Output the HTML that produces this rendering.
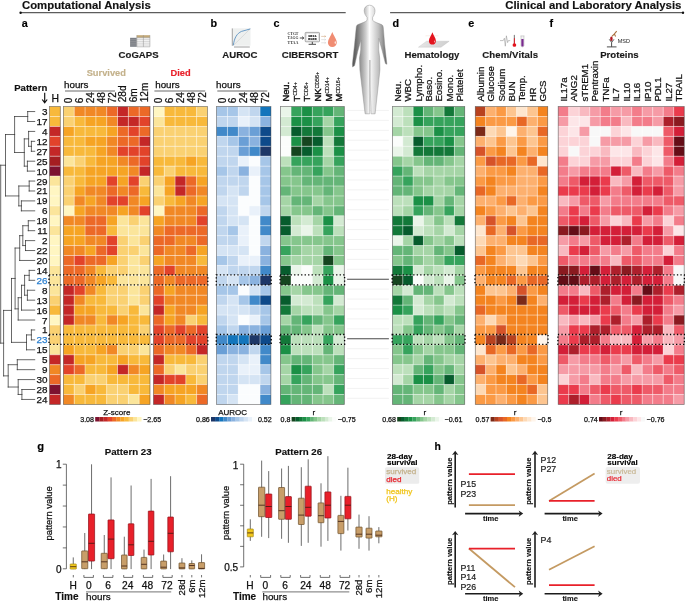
<!DOCTYPE html>
<html lang="en"><head><meta charset="utf-8"><title>Figure</title>
<style>
html,body{margin:0;padding:0;background:#fff;}
body{width:685px;height:602px;overflow:hidden;}
svg{display:block;font-family:"Liberation Sans",Arial,Helvetica,sans-serif;}
</style></head><body>
<svg width="685" height="602" viewBox="0 0 685 602">
<rect width="685" height="602" fill="#fff"/>
<g shape-rendering="auto">
<rect x="49.6" y="106.6" width="10.75" height="9.98" fill="#f8b93b"/>
<rect x="49.6" y="116.53" width="10.75" height="9.98" fill="#f8b93b"/>
<rect x="49.6" y="126.45" width="10.75" height="9.98" fill="#c42727"/>
<rect x="49.6" y="136.38" width="10.75" height="9.98" fill="#e2432a"/>
<rect x="49.6" y="146.31" width="10.75" height="9.98" fill="#c42727"/>
<rect x="49.6" y="156.23" width="10.75" height="9.98" fill="#a51e22"/>
<rect x="49.6" y="166.16" width="10.75" height="9.98" fill="#7d1230"/>
<rect x="49.6" y="176.09" width="10.75" height="9.98" fill="#fbe59b"/>
<rect x="49.6" y="186.01" width="10.75" height="9.98" fill="#fff6c2"/>
<rect x="49.6" y="195.94" width="10.75" height="9.98" fill="#fff6c2"/>
<rect x="49.6" y="205.87" width="10.75" height="9.98" fill="#fbe59b"/>
<rect x="49.6" y="215.79" width="10.75" height="9.98" fill="#fff6c2"/>
<rect x="49.6" y="225.72" width="10.75" height="9.98" fill="#fbe59b"/>
<rect x="49.6" y="235.65" width="10.75" height="9.98" fill="#fff6c2"/>
<rect x="49.6" y="245.57" width="10.75" height="9.98" fill="#fff6c2"/>
<rect x="49.6" y="255.5" width="10.75" height="9.98" fill="#fff6c2"/>
<rect x="49.6" y="265.43" width="10.75" height="9.98" fill="#fbe59b"/>
<rect x="49.6" y="275.35" width="10.75" height="9.98" fill="#fbe59b"/>
<rect x="49.6" y="285.28" width="10.75" height="9.98" fill="#fbe59b"/>
<rect x="49.6" y="295.21" width="10.75" height="9.98" fill="#fad172"/>
<rect x="49.6" y="305.13" width="10.75" height="9.98" fill="#f8b93b"/>
<rect x="49.6" y="315.06" width="10.75" height="9.98" fill="#fff6c2"/>
<rect x="49.6" y="324.99" width="10.75" height="9.98" fill="#fad172"/>
<rect x="49.6" y="334.91" width="10.75" height="9.98" fill="#fad172"/>
<rect x="49.6" y="344.84" width="10.75" height="9.98" fill="#fbe59b"/>
<rect x="49.6" y="354.77" width="10.75" height="9.98" fill="#c42727"/>
<rect x="49.6" y="364.69" width="10.75" height="9.98" fill="#f18825"/>
<rect x="49.6" y="374.62" width="10.75" height="9.98" fill="#ec6927"/>
<rect x="49.6" y="384.55" width="10.75" height="9.98" fill="#7d1230"/>
<rect x="49.6" y="394.47" width="10.75" height="9.98" fill="#c42727"/>
<line x1="49.6" y1="116.53" x2="60.3" y2="116.53" stroke="#fff" stroke-opacity="0.75" stroke-width="0.6"/>
<line x1="49.6" y1="126.45" x2="60.3" y2="126.45" stroke="#fff" stroke-opacity="0.75" stroke-width="0.6"/>
<line x1="49.6" y1="136.38" x2="60.3" y2="136.38" stroke="#fff" stroke-opacity="0.75" stroke-width="0.6"/>
<line x1="49.6" y1="146.31" x2="60.3" y2="146.31" stroke="#fff" stroke-opacity="0.75" stroke-width="0.6"/>
<line x1="49.6" y1="156.23" x2="60.3" y2="156.23" stroke="#fff" stroke-opacity="0.75" stroke-width="0.6"/>
<line x1="49.6" y1="166.16" x2="60.3" y2="166.16" stroke="#fff" stroke-opacity="0.75" stroke-width="0.6"/>
<line x1="49.6" y1="176.09" x2="60.3" y2="176.09" stroke="#fff" stroke-opacity="0.75" stroke-width="0.6"/>
<line x1="49.6" y1="186.01" x2="60.3" y2="186.01" stroke="#fff" stroke-opacity="0.75" stroke-width="0.6"/>
<line x1="49.6" y1="195.94" x2="60.3" y2="195.94" stroke="#fff" stroke-opacity="0.75" stroke-width="0.6"/>
<line x1="49.6" y1="205.87" x2="60.3" y2="205.87" stroke="#fff" stroke-opacity="0.75" stroke-width="0.6"/>
<line x1="49.6" y1="215.79" x2="60.3" y2="215.79" stroke="#fff" stroke-opacity="0.75" stroke-width="0.6"/>
<line x1="49.6" y1="225.72" x2="60.3" y2="225.72" stroke="#fff" stroke-opacity="0.75" stroke-width="0.6"/>
<line x1="49.6" y1="235.65" x2="60.3" y2="235.65" stroke="#fff" stroke-opacity="0.75" stroke-width="0.6"/>
<line x1="49.6" y1="245.57" x2="60.3" y2="245.57" stroke="#fff" stroke-opacity="0.75" stroke-width="0.6"/>
<line x1="49.6" y1="255.5" x2="60.3" y2="255.5" stroke="#fff" stroke-opacity="0.75" stroke-width="0.6"/>
<line x1="49.6" y1="265.43" x2="60.3" y2="265.43" stroke="#fff" stroke-opacity="0.75" stroke-width="0.6"/>
<line x1="49.6" y1="275.35" x2="60.3" y2="275.35" stroke="#fff" stroke-opacity="0.75" stroke-width="0.6"/>
<line x1="49.6" y1="285.28" x2="60.3" y2="285.28" stroke="#fff" stroke-opacity="0.75" stroke-width="0.6"/>
<line x1="49.6" y1="295.21" x2="60.3" y2="295.21" stroke="#fff" stroke-opacity="0.75" stroke-width="0.6"/>
<line x1="49.6" y1="305.13" x2="60.3" y2="305.13" stroke="#fff" stroke-opacity="0.75" stroke-width="0.6"/>
<line x1="49.6" y1="315.06" x2="60.3" y2="315.06" stroke="#fff" stroke-opacity="0.75" stroke-width="0.6"/>
<line x1="49.6" y1="324.99" x2="60.3" y2="324.99" stroke="#fff" stroke-opacity="0.75" stroke-width="0.6"/>
<line x1="49.6" y1="334.91" x2="60.3" y2="334.91" stroke="#fff" stroke-opacity="0.75" stroke-width="0.6"/>
<line x1="49.6" y1="344.84" x2="60.3" y2="344.84" stroke="#fff" stroke-opacity="0.75" stroke-width="0.6"/>
<line x1="49.6" y1="354.77" x2="60.3" y2="354.77" stroke="#fff" stroke-opacity="0.75" stroke-width="0.6"/>
<line x1="49.6" y1="364.69" x2="60.3" y2="364.69" stroke="#fff" stroke-opacity="0.75" stroke-width="0.6"/>
<line x1="49.6" y1="374.62" x2="60.3" y2="374.62" stroke="#fff" stroke-opacity="0.75" stroke-width="0.6"/>
<line x1="49.6" y1="384.55" x2="60.3" y2="384.55" stroke="#fff" stroke-opacity="0.75" stroke-width="0.6"/>
<line x1="49.6" y1="394.47" x2="60.3" y2="394.47" stroke="#fff" stroke-opacity="0.75" stroke-width="0.6"/>
<rect x="49.6" y="106.6" width="10.7" height="297.8" fill="none" stroke="#3a3a3a" stroke-opacity="0.62" stroke-width="0.75"/>
</g>
<g shape-rendering="auto">
<rect x="63.4" y="106.6" width="10.88" height="9.98" fill="#fad172"/>
<rect x="74.22" y="106.6" width="10.88" height="9.98" fill="#f18825"/>
<rect x="85.05" y="106.6" width="10.88" height="9.98" fill="#f18825"/>
<rect x="95.88" y="106.6" width="10.88" height="9.98" fill="#f18825"/>
<rect x="106.7" y="106.6" width="10.88" height="9.98" fill="#ec6927"/>
<rect x="117.53" y="106.6" width="10.88" height="9.98" fill="#c42727"/>
<rect x="128.35" y="106.6" width="10.88" height="9.98" fill="#ec6927"/>
<rect x="139.17" y="106.6" width="10.88" height="9.98" fill="#ec6927"/>
<rect x="63.4" y="116.53" width="10.88" height="9.98" fill="#fad172"/>
<rect x="74.22" y="116.53" width="10.88" height="9.98" fill="#f8b93b"/>
<rect x="85.05" y="116.53" width="10.88" height="9.98" fill="#f6a424"/>
<rect x="95.88" y="116.53" width="10.88" height="9.98" fill="#f6a424"/>
<rect x="106.7" y="116.53" width="10.88" height="9.98" fill="#f18825"/>
<rect x="117.53" y="116.53" width="10.88" height="9.98" fill="#c42727"/>
<rect x="128.35" y="116.53" width="10.88" height="9.98" fill="#c42727"/>
<rect x="139.17" y="116.53" width="10.88" height="9.98" fill="#e2432a"/>
<rect x="63.4" y="126.45" width="10.88" height="9.98" fill="#f6a424"/>
<rect x="74.22" y="126.45" width="10.88" height="9.98" fill="#f8b93b"/>
<rect x="85.05" y="126.45" width="10.88" height="9.98" fill="#f8b93b"/>
<rect x="95.88" y="126.45" width="10.88" height="9.98" fill="#f8b93b"/>
<rect x="106.7" y="126.45" width="10.88" height="9.98" fill="#f6a424"/>
<rect x="117.53" y="126.45" width="10.88" height="9.98" fill="#ec6927"/>
<rect x="128.35" y="126.45" width="10.88" height="9.98" fill="#e2432a"/>
<rect x="139.17" y="126.45" width="10.88" height="9.98" fill="#ec6927"/>
<rect x="63.4" y="136.38" width="10.88" height="9.98" fill="#f8b93b"/>
<rect x="74.22" y="136.38" width="10.88" height="9.98" fill="#f8b93b"/>
<rect x="85.05" y="136.38" width="10.88" height="9.98" fill="#f6a424"/>
<rect x="95.88" y="136.38" width="10.88" height="9.98" fill="#f6a424"/>
<rect x="106.7" y="136.38" width="10.88" height="9.98" fill="#f18825"/>
<rect x="117.53" y="136.38" width="10.88" height="9.98" fill="#ec6927"/>
<rect x="128.35" y="136.38" width="10.88" height="9.98" fill="#ec6927"/>
<rect x="139.17" y="136.38" width="10.88" height="9.98" fill="#c42727"/>
<rect x="63.4" y="146.31" width="10.88" height="9.98" fill="#f8b93b"/>
<rect x="74.22" y="146.31" width="10.88" height="9.98" fill="#f8b93b"/>
<rect x="85.05" y="146.31" width="10.88" height="9.98" fill="#f8b93b"/>
<rect x="95.88" y="146.31" width="10.88" height="9.98" fill="#f6a424"/>
<rect x="106.7" y="146.31" width="10.88" height="9.98" fill="#f18825"/>
<rect x="117.53" y="146.31" width="10.88" height="9.98" fill="#e2432a"/>
<rect x="128.35" y="146.31" width="10.88" height="9.98" fill="#e2432a"/>
<rect x="139.17" y="146.31" width="10.88" height="9.98" fill="#e2432a"/>
<rect x="63.4" y="156.23" width="10.88" height="9.98" fill="#fbe59b"/>
<rect x="74.22" y="156.23" width="10.88" height="9.98" fill="#fad172"/>
<rect x="85.05" y="156.23" width="10.88" height="9.98" fill="#f8b93b"/>
<rect x="95.88" y="156.23" width="10.88" height="9.98" fill="#f6a424"/>
<rect x="106.7" y="156.23" width="10.88" height="9.98" fill="#f6a424"/>
<rect x="117.53" y="156.23" width="10.88" height="9.98" fill="#f18825"/>
<rect x="128.35" y="156.23" width="10.88" height="9.98" fill="#ec6927"/>
<rect x="139.17" y="156.23" width="10.88" height="9.98" fill="#e2432a"/>
<rect x="63.4" y="166.16" width="10.88" height="9.98" fill="#f8b93b"/>
<rect x="74.22" y="166.16" width="10.88" height="9.98" fill="#f8b93b"/>
<rect x="85.05" y="166.16" width="10.88" height="9.98" fill="#f6a424"/>
<rect x="95.88" y="166.16" width="10.88" height="9.98" fill="#f6a424"/>
<rect x="106.7" y="166.16" width="10.88" height="9.98" fill="#f6a424"/>
<rect x="117.53" y="166.16" width="10.88" height="9.98" fill="#f6a424"/>
<rect x="128.35" y="166.16" width="10.88" height="9.98" fill="#f18825"/>
<rect x="139.17" y="166.16" width="10.88" height="9.98" fill="#c42727"/>
<rect x="63.4" y="176.09" width="10.88" height="9.98" fill="#fad172"/>
<rect x="74.22" y="176.09" width="10.88" height="9.98" fill="#f8b93b"/>
<rect x="85.05" y="176.09" width="10.88" height="9.98" fill="#f6a424"/>
<rect x="95.88" y="176.09" width="10.88" height="9.98" fill="#f6a424"/>
<rect x="106.7" y="176.09" width="10.88" height="9.98" fill="#e2432a"/>
<rect x="117.53" y="176.09" width="10.88" height="9.98" fill="#f6a424"/>
<rect x="128.35" y="176.09" width="10.88" height="9.98" fill="#e2432a"/>
<rect x="139.17" y="176.09" width="10.88" height="9.98" fill="#fad172"/>
<rect x="63.4" y="186.01" width="10.88" height="9.98" fill="#fad172"/>
<rect x="74.22" y="186.01" width="10.88" height="9.98" fill="#f6a424"/>
<rect x="85.05" y="186.01" width="10.88" height="9.98" fill="#f18825"/>
<rect x="95.88" y="186.01" width="10.88" height="9.98" fill="#f18825"/>
<rect x="106.7" y="186.01" width="10.88" height="9.98" fill="#ec6927"/>
<rect x="117.53" y="186.01" width="10.88" height="9.98" fill="#f18825"/>
<rect x="128.35" y="186.01" width="10.88" height="9.98" fill="#ec6927"/>
<rect x="139.17" y="186.01" width="10.88" height="9.98" fill="#f8b93b"/>
<rect x="63.4" y="195.94" width="10.88" height="9.98" fill="#fad172"/>
<rect x="74.22" y="195.94" width="10.88" height="9.98" fill="#f18825"/>
<rect x="85.05" y="195.94" width="10.88" height="9.98" fill="#f6a424"/>
<rect x="95.88" y="195.94" width="10.88" height="9.98" fill="#f18825"/>
<rect x="106.7" y="195.94" width="10.88" height="9.98" fill="#e2432a"/>
<rect x="117.53" y="195.94" width="10.88" height="9.98" fill="#e2432a"/>
<rect x="128.35" y="195.94" width="10.88" height="9.98" fill="#f18825"/>
<rect x="139.17" y="195.94" width="10.88" height="9.98" fill="#f6a424"/>
<rect x="63.4" y="205.87" width="10.88" height="9.98" fill="#fff6c2"/>
<rect x="74.22" y="205.87" width="10.88" height="9.98" fill="#f6a424"/>
<rect x="85.05" y="205.87" width="10.88" height="9.98" fill="#f18825"/>
<rect x="95.88" y="205.87" width="10.88" height="9.98" fill="#f18825"/>
<rect x="106.7" y="205.87" width="10.88" height="9.98" fill="#f18825"/>
<rect x="117.53" y="205.87" width="10.88" height="9.98" fill="#f6a424"/>
<rect x="128.35" y="205.87" width="10.88" height="9.98" fill="#f18825"/>
<rect x="139.17" y="205.87" width="10.88" height="9.98" fill="#e2432a"/>
<rect x="63.4" y="215.79" width="10.88" height="9.98" fill="#f18825"/>
<rect x="74.22" y="215.79" width="10.88" height="9.98" fill="#f18825"/>
<rect x="85.05" y="215.79" width="10.88" height="9.98" fill="#ec6927"/>
<rect x="95.88" y="215.79" width="10.88" height="9.98" fill="#ec6927"/>
<rect x="106.7" y="215.79" width="10.88" height="9.98" fill="#f6a424"/>
<rect x="117.53" y="215.79" width="10.88" height="9.98" fill="#fbe59b"/>
<rect x="128.35" y="215.79" width="10.88" height="9.98" fill="#fad172"/>
<rect x="139.17" y="215.79" width="10.88" height="9.98" fill="#fbe59b"/>
<rect x="63.4" y="225.72" width="10.88" height="9.98" fill="#f6a424"/>
<rect x="74.22" y="225.72" width="10.88" height="9.98" fill="#f6a424"/>
<rect x="85.05" y="225.72" width="10.88" height="9.98" fill="#ec6927"/>
<rect x="95.88" y="225.72" width="10.88" height="9.98" fill="#ec6927"/>
<rect x="106.7" y="225.72" width="10.88" height="9.98" fill="#f8b93b"/>
<rect x="117.53" y="225.72" width="10.88" height="9.98" fill="#fbe59b"/>
<rect x="128.35" y="225.72" width="10.88" height="9.98" fill="#fbe59b"/>
<rect x="139.17" y="225.72" width="10.88" height="9.98" fill="#fbe59b"/>
<rect x="63.4" y="235.65" width="10.88" height="9.98" fill="#f6a424"/>
<rect x="74.22" y="235.65" width="10.88" height="9.98" fill="#f6a424"/>
<rect x="85.05" y="235.65" width="10.88" height="9.98" fill="#f18825"/>
<rect x="95.88" y="235.65" width="10.88" height="9.98" fill="#f18825"/>
<rect x="106.7" y="235.65" width="10.88" height="9.98" fill="#e2432a"/>
<rect x="117.53" y="235.65" width="10.88" height="9.98" fill="#fad172"/>
<rect x="128.35" y="235.65" width="10.88" height="9.98" fill="#fbe59b"/>
<rect x="139.17" y="235.65" width="10.88" height="9.98" fill="#fad172"/>
<rect x="63.4" y="245.57" width="10.88" height="9.98" fill="#f18825"/>
<rect x="74.22" y="245.57" width="10.88" height="9.98" fill="#f18825"/>
<rect x="85.05" y="245.57" width="10.88" height="9.98" fill="#f6a424"/>
<rect x="95.88" y="245.57" width="10.88" height="9.98" fill="#ec6927"/>
<rect x="106.7" y="245.57" width="10.88" height="9.98" fill="#e2432a"/>
<rect x="117.53" y="245.57" width="10.88" height="9.98" fill="#fad172"/>
<rect x="128.35" y="245.57" width="10.88" height="9.98" fill="#fad172"/>
<rect x="139.17" y="245.57" width="10.88" height="9.98" fill="#fbe59b"/>
<rect x="63.4" y="255.5" width="10.88" height="9.98" fill="#ec6927"/>
<rect x="74.22" y="255.5" width="10.88" height="9.98" fill="#e2432a"/>
<rect x="85.05" y="255.5" width="10.88" height="9.98" fill="#ec6927"/>
<rect x="95.88" y="255.5" width="10.88" height="9.98" fill="#ec6927"/>
<rect x="106.7" y="255.5" width="10.88" height="9.98" fill="#f6a424"/>
<rect x="117.53" y="255.5" width="10.88" height="9.98" fill="#fad172"/>
<rect x="128.35" y="255.5" width="10.88" height="9.98" fill="#fbe59b"/>
<rect x="139.17" y="255.5" width="10.88" height="9.98" fill="#fad172"/>
<rect x="63.4" y="265.43" width="10.88" height="9.98" fill="#ec6927"/>
<rect x="74.22" y="265.43" width="10.88" height="9.98" fill="#ec6927"/>
<rect x="85.05" y="265.43" width="10.88" height="9.98" fill="#f18825"/>
<rect x="95.88" y="265.43" width="10.88" height="9.98" fill="#f8b93b"/>
<rect x="106.7" y="265.43" width="10.88" height="9.98" fill="#fad172"/>
<rect x="117.53" y="265.43" width="10.88" height="9.98" fill="#fad172"/>
<rect x="128.35" y="265.43" width="10.88" height="9.98" fill="#fbe59b"/>
<rect x="139.17" y="265.43" width="10.88" height="9.98" fill="#fbe59b"/>
<rect x="63.4" y="275.35" width="10.88" height="9.98" fill="#ec6927"/>
<rect x="74.22" y="275.35" width="10.88" height="9.98" fill="#ec6927"/>
<rect x="85.05" y="275.35" width="10.88" height="9.98" fill="#f18825"/>
<rect x="95.88" y="275.35" width="10.88" height="9.98" fill="#f6a424"/>
<rect x="106.7" y="275.35" width="10.88" height="9.98" fill="#f8b93b"/>
<rect x="117.53" y="275.35" width="10.88" height="9.98" fill="#fbe59b"/>
<rect x="128.35" y="275.35" width="10.88" height="9.98" fill="#fbe59b"/>
<rect x="139.17" y="275.35" width="10.88" height="9.98" fill="#fbe59b"/>
<rect x="63.4" y="285.28" width="10.88" height="9.98" fill="#c42727"/>
<rect x="74.22" y="285.28" width="10.88" height="9.98" fill="#e2432a"/>
<rect x="85.05" y="285.28" width="10.88" height="9.98" fill="#f18825"/>
<rect x="95.88" y="285.28" width="10.88" height="9.98" fill="#f8b93b"/>
<rect x="106.7" y="285.28" width="10.88" height="9.98" fill="#fad172"/>
<rect x="117.53" y="285.28" width="10.88" height="9.98" fill="#fad172"/>
<rect x="128.35" y="285.28" width="10.88" height="9.98" fill="#fbe59b"/>
<rect x="139.17" y="285.28" width="10.88" height="9.98" fill="#fad172"/>
<rect x="63.4" y="295.21" width="10.88" height="9.98" fill="#c42727"/>
<rect x="74.22" y="295.21" width="10.88" height="9.98" fill="#f18825"/>
<rect x="85.05" y="295.21" width="10.88" height="9.98" fill="#f8b93b"/>
<rect x="95.88" y="295.21" width="10.88" height="9.98" fill="#f8b93b"/>
<rect x="106.7" y="295.21" width="10.88" height="9.98" fill="#fad172"/>
<rect x="117.53" y="295.21" width="10.88" height="9.98" fill="#fad172"/>
<rect x="128.35" y="295.21" width="10.88" height="9.98" fill="#fbe59b"/>
<rect x="139.17" y="295.21" width="10.88" height="9.98" fill="#fad172"/>
<rect x="63.4" y="305.13" width="10.88" height="9.98" fill="#c42727"/>
<rect x="74.22" y="305.13" width="10.88" height="9.98" fill="#f6a424"/>
<rect x="85.05" y="305.13" width="10.88" height="9.98" fill="#f6a424"/>
<rect x="95.88" y="305.13" width="10.88" height="9.98" fill="#f8b93b"/>
<rect x="106.7" y="305.13" width="10.88" height="9.98" fill="#f8b93b"/>
<rect x="117.53" y="305.13" width="10.88" height="9.98" fill="#fad172"/>
<rect x="128.35" y="305.13" width="10.88" height="9.98" fill="#f8b93b"/>
<rect x="139.17" y="305.13" width="10.88" height="9.98" fill="#fbe59b"/>
<rect x="63.4" y="315.06" width="10.88" height="9.98" fill="#c42727"/>
<rect x="74.22" y="315.06" width="10.88" height="9.98" fill="#f18825"/>
<rect x="85.05" y="315.06" width="10.88" height="9.98" fill="#f18825"/>
<rect x="95.88" y="315.06" width="10.88" height="9.98" fill="#f8b93b"/>
<rect x="106.7" y="315.06" width="10.88" height="9.98" fill="#f18825"/>
<rect x="117.53" y="315.06" width="10.88" height="9.98" fill="#f6a424"/>
<rect x="128.35" y="315.06" width="10.88" height="9.98" fill="#f8b93b"/>
<rect x="139.17" y="315.06" width="10.88" height="9.98" fill="#f8b93b"/>
<rect x="63.4" y="324.99" width="10.88" height="9.98" fill="#f8b93b"/>
<rect x="74.22" y="324.99" width="10.88" height="9.98" fill="#f8b93b"/>
<rect x="85.05" y="324.99" width="10.88" height="9.98" fill="#f8b93b"/>
<rect x="95.88" y="324.99" width="10.88" height="9.98" fill="#f8b93b"/>
<rect x="106.7" y="324.99" width="10.88" height="9.98" fill="#f8b93b"/>
<rect x="117.53" y="324.99" width="10.88" height="9.98" fill="#f8b93b"/>
<rect x="128.35" y="324.99" width="10.88" height="9.98" fill="#f8b93b"/>
<rect x="139.17" y="324.99" width="10.88" height="9.98" fill="#fad172"/>
<rect x="63.4" y="334.91" width="10.88" height="9.98" fill="#f8b93b"/>
<rect x="74.22" y="334.91" width="10.88" height="9.98" fill="#f8b93b"/>
<rect x="85.05" y="334.91" width="10.88" height="9.98" fill="#f8b93b"/>
<rect x="95.88" y="334.91" width="10.88" height="9.98" fill="#f8b93b"/>
<rect x="106.7" y="334.91" width="10.88" height="9.98" fill="#f8b93b"/>
<rect x="117.53" y="334.91" width="10.88" height="9.98" fill="#f8b93b"/>
<rect x="128.35" y="334.91" width="10.88" height="9.98" fill="#f8b93b"/>
<rect x="139.17" y="334.91" width="10.88" height="9.98" fill="#f8b93b"/>
<rect x="63.4" y="344.84" width="10.88" height="9.98" fill="#f6a424"/>
<rect x="74.22" y="344.84" width="10.88" height="9.98" fill="#f8b93b"/>
<rect x="85.05" y="344.84" width="10.88" height="9.98" fill="#f8b93b"/>
<rect x="95.88" y="344.84" width="10.88" height="9.98" fill="#f6a424"/>
<rect x="106.7" y="344.84" width="10.88" height="9.98" fill="#f18825"/>
<rect x="117.53" y="344.84" width="10.88" height="9.98" fill="#fad172"/>
<rect x="128.35" y="344.84" width="10.88" height="9.98" fill="#fad172"/>
<rect x="139.17" y="344.84" width="10.88" height="9.98" fill="#fbe59b"/>
<rect x="63.4" y="354.77" width="10.88" height="9.98" fill="#c42727"/>
<rect x="74.22" y="354.77" width="10.88" height="9.98" fill="#f6a424"/>
<rect x="85.05" y="354.77" width="10.88" height="9.98" fill="#f6a424"/>
<rect x="95.88" y="354.77" width="10.88" height="9.98" fill="#f8b93b"/>
<rect x="106.7" y="354.77" width="10.88" height="9.98" fill="#f8b93b"/>
<rect x="117.53" y="354.77" width="10.88" height="9.98" fill="#f6a424"/>
<rect x="128.35" y="354.77" width="10.88" height="9.98" fill="#f8b93b"/>
<rect x="139.17" y="354.77" width="10.88" height="9.98" fill="#f8b93b"/>
<rect x="63.4" y="364.69" width="10.88" height="9.98" fill="#e2432a"/>
<rect x="74.22" y="364.69" width="10.88" height="9.98" fill="#ec6927"/>
<rect x="85.05" y="364.69" width="10.88" height="9.98" fill="#f8b93b"/>
<rect x="95.88" y="364.69" width="10.88" height="9.98" fill="#f8b93b"/>
<rect x="106.7" y="364.69" width="10.88" height="9.98" fill="#f6a424"/>
<rect x="117.53" y="364.69" width="10.88" height="9.98" fill="#c42727"/>
<rect x="128.35" y="364.69" width="10.88" height="9.98" fill="#f18825"/>
<rect x="139.17" y="364.69" width="10.88" height="9.98" fill="#f6a424"/>
<rect x="63.4" y="374.62" width="10.88" height="9.98" fill="#f8b93b"/>
<rect x="74.22" y="374.62" width="10.88" height="9.98" fill="#f8b93b"/>
<rect x="85.05" y="374.62" width="10.88" height="9.98" fill="#fad172"/>
<rect x="95.88" y="374.62" width="10.88" height="9.98" fill="#fad172"/>
<rect x="106.7" y="374.62" width="10.88" height="9.98" fill="#f8b93b"/>
<rect x="117.53" y="374.62" width="10.88" height="9.98" fill="#f8b93b"/>
<rect x="128.35" y="374.62" width="10.88" height="9.98" fill="#f8b93b"/>
<rect x="139.17" y="374.62" width="10.88" height="9.98" fill="#f8b93b"/>
<rect x="63.4" y="384.55" width="10.88" height="9.98" fill="#f8b93b"/>
<rect x="74.22" y="384.55" width="10.88" height="9.98" fill="#fad172"/>
<rect x="85.05" y="384.55" width="10.88" height="9.98" fill="#f6a424"/>
<rect x="95.88" y="384.55" width="10.88" height="9.98" fill="#f8b93b"/>
<rect x="106.7" y="384.55" width="10.88" height="9.98" fill="#fad172"/>
<rect x="117.53" y="384.55" width="10.88" height="9.98" fill="#fad172"/>
<rect x="128.35" y="384.55" width="10.88" height="9.98" fill="#f8b93b"/>
<rect x="139.17" y="384.55" width="10.88" height="9.98" fill="#f8b93b"/>
<rect x="63.4" y="394.47" width="10.88" height="9.98" fill="#f18825"/>
<rect x="74.22" y="394.47" width="10.88" height="9.98" fill="#f8b93b"/>
<rect x="85.05" y="394.47" width="10.88" height="9.98" fill="#f8b93b"/>
<rect x="95.88" y="394.47" width="10.88" height="9.98" fill="#f8b93b"/>
<rect x="106.7" y="394.47" width="10.88" height="9.98" fill="#fad172"/>
<rect x="117.53" y="394.47" width="10.88" height="9.98" fill="#fad172"/>
<rect x="128.35" y="394.47" width="10.88" height="9.98" fill="#fbe59b"/>
<rect x="139.17" y="394.47" width="10.88" height="9.98" fill="#f6a424"/>
<line x1="63.4" y1="116.53" x2="150" y2="116.53" stroke="#fff" stroke-opacity="0.75" stroke-width="0.6"/>
<line x1="63.4" y1="126.45" x2="150" y2="126.45" stroke="#fff" stroke-opacity="0.75" stroke-width="0.6"/>
<line x1="63.4" y1="136.38" x2="150" y2="136.38" stroke="#fff" stroke-opacity="0.75" stroke-width="0.6"/>
<line x1="63.4" y1="146.31" x2="150" y2="146.31" stroke="#fff" stroke-opacity="0.75" stroke-width="0.6"/>
<line x1="63.4" y1="156.23" x2="150" y2="156.23" stroke="#fff" stroke-opacity="0.75" stroke-width="0.6"/>
<line x1="63.4" y1="166.16" x2="150" y2="166.16" stroke="#fff" stroke-opacity="0.75" stroke-width="0.6"/>
<line x1="63.4" y1="176.09" x2="150" y2="176.09" stroke="#fff" stroke-opacity="0.75" stroke-width="0.6"/>
<line x1="63.4" y1="186.01" x2="150" y2="186.01" stroke="#fff" stroke-opacity="0.75" stroke-width="0.6"/>
<line x1="63.4" y1="195.94" x2="150" y2="195.94" stroke="#fff" stroke-opacity="0.75" stroke-width="0.6"/>
<line x1="63.4" y1="205.87" x2="150" y2="205.87" stroke="#fff" stroke-opacity="0.75" stroke-width="0.6"/>
<line x1="63.4" y1="215.79" x2="150" y2="215.79" stroke="#fff" stroke-opacity="0.75" stroke-width="0.6"/>
<line x1="63.4" y1="225.72" x2="150" y2="225.72" stroke="#fff" stroke-opacity="0.75" stroke-width="0.6"/>
<line x1="63.4" y1="235.65" x2="150" y2="235.65" stroke="#fff" stroke-opacity="0.75" stroke-width="0.6"/>
<line x1="63.4" y1="245.57" x2="150" y2="245.57" stroke="#fff" stroke-opacity="0.75" stroke-width="0.6"/>
<line x1="63.4" y1="255.5" x2="150" y2="255.5" stroke="#fff" stroke-opacity="0.75" stroke-width="0.6"/>
<line x1="63.4" y1="265.43" x2="150" y2="265.43" stroke="#fff" stroke-opacity="0.75" stroke-width="0.6"/>
<line x1="63.4" y1="275.35" x2="150" y2="275.35" stroke="#fff" stroke-opacity="0.75" stroke-width="0.6"/>
<line x1="63.4" y1="285.28" x2="150" y2="285.28" stroke="#fff" stroke-opacity="0.75" stroke-width="0.6"/>
<line x1="63.4" y1="295.21" x2="150" y2="295.21" stroke="#fff" stroke-opacity="0.75" stroke-width="0.6"/>
<line x1="63.4" y1="305.13" x2="150" y2="305.13" stroke="#fff" stroke-opacity="0.75" stroke-width="0.6"/>
<line x1="63.4" y1="315.06" x2="150" y2="315.06" stroke="#fff" stroke-opacity="0.75" stroke-width="0.6"/>
<line x1="63.4" y1="324.99" x2="150" y2="324.99" stroke="#fff" stroke-opacity="0.75" stroke-width="0.6"/>
<line x1="63.4" y1="334.91" x2="150" y2="334.91" stroke="#fff" stroke-opacity="0.75" stroke-width="0.6"/>
<line x1="63.4" y1="344.84" x2="150" y2="344.84" stroke="#fff" stroke-opacity="0.75" stroke-width="0.6"/>
<line x1="63.4" y1="354.77" x2="150" y2="354.77" stroke="#fff" stroke-opacity="0.75" stroke-width="0.6"/>
<line x1="63.4" y1="364.69" x2="150" y2="364.69" stroke="#fff" stroke-opacity="0.75" stroke-width="0.6"/>
<line x1="63.4" y1="374.62" x2="150" y2="374.62" stroke="#fff" stroke-opacity="0.75" stroke-width="0.6"/>
<line x1="63.4" y1="384.55" x2="150" y2="384.55" stroke="#fff" stroke-opacity="0.75" stroke-width="0.6"/>
<line x1="63.4" y1="394.47" x2="150" y2="394.47" stroke="#fff" stroke-opacity="0.75" stroke-width="0.6"/>
<line x1="74.22" y1="106.6" x2="74.22" y2="404.4" stroke="#fff" stroke-opacity="0.75" stroke-width="0.6"/>
<line x1="85.05" y1="106.6" x2="85.05" y2="404.4" stroke="#fff" stroke-opacity="0.75" stroke-width="0.6"/>
<line x1="95.88" y1="106.6" x2="95.88" y2="404.4" stroke="#fff" stroke-opacity="0.75" stroke-width="0.6"/>
<line x1="106.7" y1="106.6" x2="106.7" y2="404.4" stroke="#fff" stroke-opacity="0.75" stroke-width="0.6"/>
<line x1="117.53" y1="106.6" x2="117.53" y2="404.4" stroke="#fff" stroke-opacity="0.75" stroke-width="0.6"/>
<line x1="128.35" y1="106.6" x2="128.35" y2="404.4" stroke="#fff" stroke-opacity="0.75" stroke-width="0.6"/>
<line x1="139.17" y1="106.6" x2="139.17" y2="404.4" stroke="#fff" stroke-opacity="0.75" stroke-width="0.6"/>
<rect x="63.4" y="106.6" width="86.6" height="297.8" fill="none" stroke="#3a3a3a" stroke-opacity="0.62" stroke-width="0.75"/>
</g>
<g shape-rendering="auto">
<rect x="153.5" y="106.6" width="10.83" height="9.98" fill="#fff6c2"/>
<rect x="164.28" y="106.6" width="10.83" height="9.98" fill="#f8b93b"/>
<rect x="175.06" y="106.6" width="10.83" height="9.98" fill="#f8b93b"/>
<rect x="185.84" y="106.6" width="10.83" height="9.98" fill="#f8b93b"/>
<rect x="196.62" y="106.6" width="10.83" height="9.98" fill="#fad172"/>
<rect x="153.5" y="116.53" width="10.83" height="9.98" fill="#fbe59b"/>
<rect x="164.28" y="116.53" width="10.83" height="9.98" fill="#f8b93b"/>
<rect x="175.06" y="116.53" width="10.83" height="9.98" fill="#f8b93b"/>
<rect x="185.84" y="116.53" width="10.83" height="9.98" fill="#f8b93b"/>
<rect x="196.62" y="116.53" width="10.83" height="9.98" fill="#f8b93b"/>
<rect x="153.5" y="126.45" width="10.83" height="9.98" fill="#fad172"/>
<rect x="164.28" y="126.45" width="10.83" height="9.98" fill="#fad172"/>
<rect x="175.06" y="126.45" width="10.83" height="9.98" fill="#fad172"/>
<rect x="185.84" y="126.45" width="10.83" height="9.98" fill="#fad172"/>
<rect x="196.62" y="126.45" width="10.83" height="9.98" fill="#fad172"/>
<rect x="153.5" y="136.38" width="10.83" height="9.98" fill="#fad172"/>
<rect x="164.28" y="136.38" width="10.83" height="9.98" fill="#fad172"/>
<rect x="175.06" y="136.38" width="10.83" height="9.98" fill="#fad172"/>
<rect x="185.84" y="136.38" width="10.83" height="9.98" fill="#fad172"/>
<rect x="196.62" y="136.38" width="10.83" height="9.98" fill="#fad172"/>
<rect x="153.5" y="146.31" width="10.83" height="9.98" fill="#fad172"/>
<rect x="164.28" y="146.31" width="10.83" height="9.98" fill="#fad172"/>
<rect x="175.06" y="146.31" width="10.83" height="9.98" fill="#fad172"/>
<rect x="185.84" y="146.31" width="10.83" height="9.98" fill="#fad172"/>
<rect x="196.62" y="146.31" width="10.83" height="9.98" fill="#fad172"/>
<rect x="153.5" y="156.23" width="10.83" height="9.98" fill="#f8b93b"/>
<rect x="164.28" y="156.23" width="10.83" height="9.98" fill="#f8b93b"/>
<rect x="175.06" y="156.23" width="10.83" height="9.98" fill="#f8b93b"/>
<rect x="185.84" y="156.23" width="10.83" height="9.98" fill="#f6a424"/>
<rect x="196.62" y="156.23" width="10.83" height="9.98" fill="#f8b93b"/>
<rect x="153.5" y="166.16" width="10.83" height="9.98" fill="#f8b93b"/>
<rect x="164.28" y="166.16" width="10.83" height="9.98" fill="#fad172"/>
<rect x="175.06" y="166.16" width="10.83" height="9.98" fill="#f8b93b"/>
<rect x="185.84" y="166.16" width="10.83" height="9.98" fill="#f8b93b"/>
<rect x="196.62" y="166.16" width="10.83" height="9.98" fill="#f8b93b"/>
<rect x="153.5" y="176.09" width="10.83" height="9.98" fill="#fad172"/>
<rect x="164.28" y="176.09" width="10.83" height="9.98" fill="#f6a424"/>
<rect x="175.06" y="176.09" width="10.83" height="9.98" fill="#c42727"/>
<rect x="185.84" y="176.09" width="10.83" height="9.98" fill="#ec6927"/>
<rect x="196.62" y="176.09" width="10.83" height="9.98" fill="#f6a424"/>
<rect x="153.5" y="186.01" width="10.83" height="9.98" fill="#fbe59b"/>
<rect x="164.28" y="186.01" width="10.83" height="9.98" fill="#f6a424"/>
<rect x="175.06" y="186.01" width="10.83" height="9.98" fill="#c42727"/>
<rect x="185.84" y="186.01" width="10.83" height="9.98" fill="#ec6927"/>
<rect x="196.62" y="186.01" width="10.83" height="9.98" fill="#f18825"/>
<rect x="153.5" y="195.94" width="10.83" height="9.98" fill="#fad172"/>
<rect x="164.28" y="195.94" width="10.83" height="9.98" fill="#f8b93b"/>
<rect x="175.06" y="195.94" width="10.83" height="9.98" fill="#f6a424"/>
<rect x="185.84" y="195.94" width="10.83" height="9.98" fill="#f18825"/>
<rect x="196.62" y="195.94" width="10.83" height="9.98" fill="#f6a424"/>
<rect x="153.5" y="205.87" width="10.83" height="9.98" fill="#fff6c2"/>
<rect x="164.28" y="205.87" width="10.83" height="9.98" fill="#f18825"/>
<rect x="175.06" y="205.87" width="10.83" height="9.98" fill="#f18825"/>
<rect x="185.84" y="205.87" width="10.83" height="9.98" fill="#f18825"/>
<rect x="196.62" y="205.87" width="10.83" height="9.98" fill="#ec6927"/>
<rect x="153.5" y="215.79" width="10.83" height="9.98" fill="#f6a424"/>
<rect x="164.28" y="215.79" width="10.83" height="9.98" fill="#f18825"/>
<rect x="175.06" y="215.79" width="10.83" height="9.98" fill="#f18825"/>
<rect x="185.84" y="215.79" width="10.83" height="9.98" fill="#f18825"/>
<rect x="196.62" y="215.79" width="10.83" height="9.98" fill="#e2432a"/>
<rect x="153.5" y="225.72" width="10.83" height="9.98" fill="#f18825"/>
<rect x="164.28" y="225.72" width="10.83" height="9.98" fill="#ec6927"/>
<rect x="175.06" y="225.72" width="10.83" height="9.98" fill="#ec6927"/>
<rect x="185.84" y="225.72" width="10.83" height="9.98" fill="#ec6927"/>
<rect x="196.62" y="225.72" width="10.83" height="9.98" fill="#ec6927"/>
<rect x="153.5" y="235.65" width="10.83" height="9.98" fill="#ec6927"/>
<rect x="164.28" y="235.65" width="10.83" height="9.98" fill="#ec6927"/>
<rect x="175.06" y="235.65" width="10.83" height="9.98" fill="#f18825"/>
<rect x="185.84" y="235.65" width="10.83" height="9.98" fill="#f18825"/>
<rect x="196.62" y="235.65" width="10.83" height="9.98" fill="#ec6927"/>
<rect x="153.5" y="245.57" width="10.83" height="9.98" fill="#ec6927"/>
<rect x="164.28" y="245.57" width="10.83" height="9.98" fill="#f18825"/>
<rect x="175.06" y="245.57" width="10.83" height="9.98" fill="#f18825"/>
<rect x="185.84" y="245.57" width="10.83" height="9.98" fill="#ec6927"/>
<rect x="196.62" y="245.57" width="10.83" height="9.98" fill="#f6a424"/>
<rect x="153.5" y="255.5" width="10.83" height="9.98" fill="#f6a424"/>
<rect x="164.28" y="255.5" width="10.83" height="9.98" fill="#f18825"/>
<rect x="175.06" y="255.5" width="10.83" height="9.98" fill="#f18825"/>
<rect x="185.84" y="255.5" width="10.83" height="9.98" fill="#f18825"/>
<rect x="196.62" y="255.5" width="10.83" height="9.98" fill="#f8b93b"/>
<rect x="153.5" y="265.43" width="10.83" height="9.98" fill="#ec6927"/>
<rect x="164.28" y="265.43" width="10.83" height="9.98" fill="#e2432a"/>
<rect x="175.06" y="265.43" width="10.83" height="9.98" fill="#f18825"/>
<rect x="185.84" y="265.43" width="10.83" height="9.98" fill="#f18825"/>
<rect x="196.62" y="265.43" width="10.83" height="9.98" fill="#f18825"/>
<rect x="153.5" y="275.35" width="10.83" height="9.98" fill="#ec6927"/>
<rect x="164.28" y="275.35" width="10.83" height="9.98" fill="#f18825"/>
<rect x="175.06" y="275.35" width="10.83" height="9.98" fill="#ec6927"/>
<rect x="185.84" y="275.35" width="10.83" height="9.98" fill="#ec6927"/>
<rect x="196.62" y="275.35" width="10.83" height="9.98" fill="#ec6927"/>
<rect x="153.5" y="285.28" width="10.83" height="9.98" fill="#ec6927"/>
<rect x="164.28" y="285.28" width="10.83" height="9.98" fill="#f6a424"/>
<rect x="175.06" y="285.28" width="10.83" height="9.98" fill="#f18825"/>
<rect x="185.84" y="285.28" width="10.83" height="9.98" fill="#f18825"/>
<rect x="196.62" y="285.28" width="10.83" height="9.98" fill="#f18825"/>
<rect x="153.5" y="295.21" width="10.83" height="9.98" fill="#e2432a"/>
<rect x="164.28" y="295.21" width="10.83" height="9.98" fill="#f18825"/>
<rect x="175.06" y="295.21" width="10.83" height="9.98" fill="#f18825"/>
<rect x="185.84" y="295.21" width="10.83" height="9.98" fill="#f18825"/>
<rect x="196.62" y="295.21" width="10.83" height="9.98" fill="#f18825"/>
<rect x="153.5" y="305.13" width="10.83" height="9.98" fill="#c42727"/>
<rect x="164.28" y="305.13" width="10.83" height="9.98" fill="#f6a424"/>
<rect x="175.06" y="305.13" width="10.83" height="9.98" fill="#f18825"/>
<rect x="185.84" y="305.13" width="10.83" height="9.98" fill="#f18825"/>
<rect x="196.62" y="305.13" width="10.83" height="9.98" fill="#f6a424"/>
<rect x="153.5" y="315.06" width="10.83" height="9.98" fill="#ec6927"/>
<rect x="164.28" y="315.06" width="10.83" height="9.98" fill="#f6a424"/>
<rect x="175.06" y="315.06" width="10.83" height="9.98" fill="#f18825"/>
<rect x="185.84" y="315.06" width="10.83" height="9.98" fill="#fad172"/>
<rect x="196.62" y="315.06" width="10.83" height="9.98" fill="#f8b93b"/>
<rect x="153.5" y="324.99" width="10.83" height="9.98" fill="#e2432a"/>
<rect x="164.28" y="324.99" width="10.83" height="9.98" fill="#ec6927"/>
<rect x="175.06" y="324.99" width="10.83" height="9.98" fill="#e2432a"/>
<rect x="185.84" y="324.99" width="10.83" height="9.98" fill="#ec6927"/>
<rect x="196.62" y="324.99" width="10.83" height="9.98" fill="#e2432a"/>
<rect x="153.5" y="334.91" width="10.83" height="9.98" fill="#e2432a"/>
<rect x="164.28" y="334.91" width="10.83" height="9.98" fill="#ec6927"/>
<rect x="175.06" y="334.91" width="10.83" height="9.98" fill="#ec6927"/>
<rect x="185.84" y="334.91" width="10.83" height="9.98" fill="#e2432a"/>
<rect x="196.62" y="334.91" width="10.83" height="9.98" fill="#e2432a"/>
<rect x="153.5" y="344.84" width="10.83" height="9.98" fill="#ec6927"/>
<rect x="164.28" y="344.84" width="10.83" height="9.98" fill="#f18825"/>
<rect x="175.06" y="344.84" width="10.83" height="9.98" fill="#f18825"/>
<rect x="185.84" y="344.84" width="10.83" height="9.98" fill="#ec6927"/>
<rect x="196.62" y="344.84" width="10.83" height="9.98" fill="#c42727"/>
<rect x="153.5" y="354.77" width="10.83" height="9.98" fill="#c42727"/>
<rect x="164.28" y="354.77" width="10.83" height="9.98" fill="#f8b93b"/>
<rect x="175.06" y="354.77" width="10.83" height="9.98" fill="#f8b93b"/>
<rect x="185.84" y="354.77" width="10.83" height="9.98" fill="#f8b93b"/>
<rect x="196.62" y="354.77" width="10.83" height="9.98" fill="#fad172"/>
<rect x="153.5" y="364.69" width="10.83" height="9.98" fill="#ec6927"/>
<rect x="164.28" y="364.69" width="10.83" height="9.98" fill="#fad172"/>
<rect x="175.06" y="364.69" width="10.83" height="9.98" fill="#fbe59b"/>
<rect x="185.84" y="364.69" width="10.83" height="9.98" fill="#fad172"/>
<rect x="196.62" y="364.69" width="10.83" height="9.98" fill="#fad172"/>
<rect x="153.5" y="374.62" width="10.83" height="9.98" fill="#c42727"/>
<rect x="164.28" y="374.62" width="10.83" height="9.98" fill="#e2432a"/>
<rect x="175.06" y="374.62" width="10.83" height="9.98" fill="#e2432a"/>
<rect x="185.84" y="374.62" width="10.83" height="9.98" fill="#f8b93b"/>
<rect x="196.62" y="374.62" width="10.83" height="9.98" fill="#fad172"/>
<rect x="153.5" y="384.55" width="10.83" height="9.98" fill="#f18825"/>
<rect x="164.28" y="384.55" width="10.83" height="9.98" fill="#f6a424"/>
<rect x="175.06" y="384.55" width="10.83" height="9.98" fill="#f6a424"/>
<rect x="185.84" y="384.55" width="10.83" height="9.98" fill="#f6a424"/>
<rect x="196.62" y="384.55" width="10.83" height="9.98" fill="#f18825"/>
<rect x="153.5" y="394.47" width="10.83" height="9.98" fill="#c42727"/>
<rect x="164.28" y="394.47" width="10.83" height="9.98" fill="#f18825"/>
<rect x="175.06" y="394.47" width="10.83" height="9.98" fill="#f6a424"/>
<rect x="185.84" y="394.47" width="10.83" height="9.98" fill="#f8b93b"/>
<rect x="196.62" y="394.47" width="10.83" height="9.98" fill="#ec6927"/>
<line x1="153.5" y1="116.53" x2="207.4" y2="116.53" stroke="#fff" stroke-opacity="0.75" stroke-width="0.6"/>
<line x1="153.5" y1="126.45" x2="207.4" y2="126.45" stroke="#fff" stroke-opacity="0.75" stroke-width="0.6"/>
<line x1="153.5" y1="136.38" x2="207.4" y2="136.38" stroke="#fff" stroke-opacity="0.75" stroke-width="0.6"/>
<line x1="153.5" y1="146.31" x2="207.4" y2="146.31" stroke="#fff" stroke-opacity="0.75" stroke-width="0.6"/>
<line x1="153.5" y1="156.23" x2="207.4" y2="156.23" stroke="#fff" stroke-opacity="0.75" stroke-width="0.6"/>
<line x1="153.5" y1="166.16" x2="207.4" y2="166.16" stroke="#fff" stroke-opacity="0.75" stroke-width="0.6"/>
<line x1="153.5" y1="176.09" x2="207.4" y2="176.09" stroke="#fff" stroke-opacity="0.75" stroke-width="0.6"/>
<line x1="153.5" y1="186.01" x2="207.4" y2="186.01" stroke="#fff" stroke-opacity="0.75" stroke-width="0.6"/>
<line x1="153.5" y1="195.94" x2="207.4" y2="195.94" stroke="#fff" stroke-opacity="0.75" stroke-width="0.6"/>
<line x1="153.5" y1="205.87" x2="207.4" y2="205.87" stroke="#fff" stroke-opacity="0.75" stroke-width="0.6"/>
<line x1="153.5" y1="215.79" x2="207.4" y2="215.79" stroke="#fff" stroke-opacity="0.75" stroke-width="0.6"/>
<line x1="153.5" y1="225.72" x2="207.4" y2="225.72" stroke="#fff" stroke-opacity="0.75" stroke-width="0.6"/>
<line x1="153.5" y1="235.65" x2="207.4" y2="235.65" stroke="#fff" stroke-opacity="0.75" stroke-width="0.6"/>
<line x1="153.5" y1="245.57" x2="207.4" y2="245.57" stroke="#fff" stroke-opacity="0.75" stroke-width="0.6"/>
<line x1="153.5" y1="255.5" x2="207.4" y2="255.5" stroke="#fff" stroke-opacity="0.75" stroke-width="0.6"/>
<line x1="153.5" y1="265.43" x2="207.4" y2="265.43" stroke="#fff" stroke-opacity="0.75" stroke-width="0.6"/>
<line x1="153.5" y1="275.35" x2="207.4" y2="275.35" stroke="#fff" stroke-opacity="0.75" stroke-width="0.6"/>
<line x1="153.5" y1="285.28" x2="207.4" y2="285.28" stroke="#fff" stroke-opacity="0.75" stroke-width="0.6"/>
<line x1="153.5" y1="295.21" x2="207.4" y2="295.21" stroke="#fff" stroke-opacity="0.75" stroke-width="0.6"/>
<line x1="153.5" y1="305.13" x2="207.4" y2="305.13" stroke="#fff" stroke-opacity="0.75" stroke-width="0.6"/>
<line x1="153.5" y1="315.06" x2="207.4" y2="315.06" stroke="#fff" stroke-opacity="0.75" stroke-width="0.6"/>
<line x1="153.5" y1="324.99" x2="207.4" y2="324.99" stroke="#fff" stroke-opacity="0.75" stroke-width="0.6"/>
<line x1="153.5" y1="334.91" x2="207.4" y2="334.91" stroke="#fff" stroke-opacity="0.75" stroke-width="0.6"/>
<line x1="153.5" y1="344.84" x2="207.4" y2="344.84" stroke="#fff" stroke-opacity="0.75" stroke-width="0.6"/>
<line x1="153.5" y1="354.77" x2="207.4" y2="354.77" stroke="#fff" stroke-opacity="0.75" stroke-width="0.6"/>
<line x1="153.5" y1="364.69" x2="207.4" y2="364.69" stroke="#fff" stroke-opacity="0.75" stroke-width="0.6"/>
<line x1="153.5" y1="374.62" x2="207.4" y2="374.62" stroke="#fff" stroke-opacity="0.75" stroke-width="0.6"/>
<line x1="153.5" y1="384.55" x2="207.4" y2="384.55" stroke="#fff" stroke-opacity="0.75" stroke-width="0.6"/>
<line x1="153.5" y1="394.47" x2="207.4" y2="394.47" stroke="#fff" stroke-opacity="0.75" stroke-width="0.6"/>
<line x1="164.28" y1="106.6" x2="164.28" y2="404.4" stroke="#fff" stroke-opacity="0.75" stroke-width="0.6"/>
<line x1="175.06" y1="106.6" x2="175.06" y2="404.4" stroke="#fff" stroke-opacity="0.75" stroke-width="0.6"/>
<line x1="185.84" y1="106.6" x2="185.84" y2="404.4" stroke="#fff" stroke-opacity="0.75" stroke-width="0.6"/>
<line x1="196.62" y1="106.6" x2="196.62" y2="404.4" stroke="#fff" stroke-opacity="0.75" stroke-width="0.6"/>
<rect x="153.5" y="106.6" width="53.9" height="297.8" fill="none" stroke="#3a3a3a" stroke-opacity="0.62" stroke-width="0.75"/>
</g>
<g shape-rendering="auto">
<rect x="216.6" y="106.6" width="10.91" height="9.98" fill="#a6c6e8"/>
<rect x="227.46" y="106.6" width="10.91" height="9.98" fill="#a6c6e8"/>
<rect x="238.32" y="106.6" width="10.91" height="9.98" fill="#d5e4f4"/>
<rect x="249.18" y="106.6" width="10.91" height="9.98" fill="#c0d6ee"/>
<rect x="260.04" y="106.6" width="10.91" height="9.98" fill="#1375bc"/>
<rect x="216.6" y="116.53" width="10.91" height="9.98" fill="#c0d6ee"/>
<rect x="227.46" y="116.53" width="10.91" height="9.98" fill="#c0d6ee"/>
<rect x="238.32" y="116.53" width="10.91" height="9.98" fill="#e9f1fa"/>
<rect x="249.18" y="116.53" width="10.91" height="9.98" fill="#d5e4f4"/>
<rect x="260.04" y="116.53" width="10.91" height="9.98" fill="#8ab2df"/>
<rect x="216.6" y="126.45" width="10.91" height="9.98" fill="#4189c9"/>
<rect x="227.46" y="126.45" width="10.91" height="9.98" fill="#4189c9"/>
<rect x="238.32" y="126.45" width="10.91" height="9.98" fill="#8ab2df"/>
<rect x="249.18" y="126.45" width="10.91" height="9.98" fill="#6a9fd6"/>
<rect x="260.04" y="126.45" width="10.91" height="9.98" fill="#0e4a8a"/>
<rect x="216.6" y="136.38" width="10.91" height="9.98" fill="#c0d6ee"/>
<rect x="227.46" y="136.38" width="10.91" height="9.98" fill="#a6c6e8"/>
<rect x="238.32" y="136.38" width="10.91" height="9.98" fill="#6a9fd6"/>
<rect x="249.18" y="136.38" width="10.91" height="9.98" fill="#8ab2df"/>
<rect x="260.04" y="136.38" width="10.91" height="9.98" fill="#0e4a8a"/>
<rect x="216.6" y="146.31" width="10.91" height="9.98" fill="#c0d6ee"/>
<rect x="227.46" y="146.31" width="10.91" height="9.98" fill="#c0d6ee"/>
<rect x="238.32" y="146.31" width="10.91" height="9.98" fill="#6a9fd6"/>
<rect x="249.18" y="146.31" width="10.91" height="9.98" fill="#4189c9"/>
<rect x="260.04" y="146.31" width="10.91" height="9.98" fill="#1d3768"/>
<rect x="216.6" y="156.23" width="10.91" height="9.98" fill="#c0d6ee"/>
<rect x="227.46" y="156.23" width="10.91" height="9.98" fill="#c0d6ee"/>
<rect x="238.32" y="156.23" width="10.91" height="9.98" fill="#e9f1fa"/>
<rect x="249.18" y="156.23" width="10.91" height="9.98" fill="#fbfdfe"/>
<rect x="260.04" y="156.23" width="10.91" height="9.98" fill="#a6c6e8"/>
<rect x="216.6" y="166.16" width="10.91" height="9.98" fill="#a6c6e8"/>
<rect x="227.46" y="166.16" width="10.91" height="9.98" fill="#c0d6ee"/>
<rect x="238.32" y="166.16" width="10.91" height="9.98" fill="#8ab2df"/>
<rect x="249.18" y="166.16" width="10.91" height="9.98" fill="#e9f1fa"/>
<rect x="260.04" y="166.16" width="10.91" height="9.98" fill="#a6c6e8"/>
<rect x="216.6" y="176.09" width="10.91" height="9.98" fill="#c0d6ee"/>
<rect x="227.46" y="176.09" width="10.91" height="9.98" fill="#c0d6ee"/>
<rect x="238.32" y="176.09" width="10.91" height="9.98" fill="#c0d6ee"/>
<rect x="249.18" y="176.09" width="10.91" height="9.98" fill="#fbfdfe"/>
<rect x="260.04" y="176.09" width="10.91" height="9.98" fill="#a6c6e8"/>
<rect x="216.6" y="186.01" width="10.91" height="9.98" fill="#c0d6ee"/>
<rect x="227.46" y="186.01" width="10.91" height="9.98" fill="#d5e4f4"/>
<rect x="238.32" y="186.01" width="10.91" height="9.98" fill="#c0d6ee"/>
<rect x="249.18" y="186.01" width="10.91" height="9.98" fill="#fbfdfe"/>
<rect x="260.04" y="186.01" width="10.91" height="9.98" fill="#a6c6e8"/>
<rect x="216.6" y="195.94" width="10.91" height="9.98" fill="#d5e4f4"/>
<rect x="227.46" y="195.94" width="10.91" height="9.98" fill="#d5e4f4"/>
<rect x="238.32" y="195.94" width="10.91" height="9.98" fill="#fbfdfe"/>
<rect x="249.18" y="195.94" width="10.91" height="9.98" fill="#fbfdfe"/>
<rect x="260.04" y="195.94" width="10.91" height="9.98" fill="#a6c6e8"/>
<rect x="216.6" y="205.87" width="10.91" height="9.98" fill="#c0d6ee"/>
<rect x="227.46" y="205.87" width="10.91" height="9.98" fill="#d5e4f4"/>
<rect x="238.32" y="205.87" width="10.91" height="9.98" fill="#fbfdfe"/>
<rect x="249.18" y="205.87" width="10.91" height="9.98" fill="#e9f1fa"/>
<rect x="260.04" y="205.87" width="10.91" height="9.98" fill="#c0d6ee"/>
<rect x="216.6" y="215.79" width="10.91" height="9.98" fill="#c0d6ee"/>
<rect x="227.46" y="215.79" width="10.91" height="9.98" fill="#d5e4f4"/>
<rect x="238.32" y="215.79" width="10.91" height="9.98" fill="#d5e4f4"/>
<rect x="249.18" y="215.79" width="10.91" height="9.98" fill="#fbfdfe"/>
<rect x="260.04" y="215.79" width="10.91" height="9.98" fill="#4189c9"/>
<rect x="216.6" y="225.72" width="10.91" height="9.98" fill="#c0d6ee"/>
<rect x="227.46" y="225.72" width="10.91" height="9.98" fill="#a6c6e8"/>
<rect x="238.32" y="225.72" width="10.91" height="9.98" fill="#e9f1fa"/>
<rect x="249.18" y="225.72" width="10.91" height="9.98" fill="#fbfdfe"/>
<rect x="260.04" y="225.72" width="10.91" height="9.98" fill="#4189c9"/>
<rect x="216.6" y="235.65" width="10.91" height="9.98" fill="#c0d6ee"/>
<rect x="227.46" y="235.65" width="10.91" height="9.98" fill="#c0d6ee"/>
<rect x="238.32" y="235.65" width="10.91" height="9.98" fill="#e9f1fa"/>
<rect x="249.18" y="235.65" width="10.91" height="9.98" fill="#fbfdfe"/>
<rect x="260.04" y="235.65" width="10.91" height="9.98" fill="#c0d6ee"/>
<rect x="216.6" y="245.57" width="10.91" height="9.98" fill="#d5e4f4"/>
<rect x="227.46" y="245.57" width="10.91" height="9.98" fill="#d5e4f4"/>
<rect x="238.32" y="245.57" width="10.91" height="9.98" fill="#d5e4f4"/>
<rect x="249.18" y="245.57" width="10.91" height="9.98" fill="#fbfdfe"/>
<rect x="260.04" y="245.57" width="10.91" height="9.98" fill="#8ab2df"/>
<rect x="216.6" y="255.5" width="10.91" height="9.98" fill="#a6c6e8"/>
<rect x="227.46" y="255.5" width="10.91" height="9.98" fill="#c0d6ee"/>
<rect x="238.32" y="255.5" width="10.91" height="9.98" fill="#e9f1fa"/>
<rect x="249.18" y="255.5" width="10.91" height="9.98" fill="#e9f1fa"/>
<rect x="260.04" y="255.5" width="10.91" height="9.98" fill="#8ab2df"/>
<rect x="216.6" y="265.43" width="10.91" height="9.98" fill="#d5e4f4"/>
<rect x="227.46" y="265.43" width="10.91" height="9.98" fill="#c0d6ee"/>
<rect x="238.32" y="265.43" width="10.91" height="9.98" fill="#c0d6ee"/>
<rect x="249.18" y="265.43" width="10.91" height="9.98" fill="#c0d6ee"/>
<rect x="260.04" y="265.43" width="10.91" height="9.98" fill="#4189c9"/>
<rect x="216.6" y="275.35" width="10.91" height="9.98" fill="#c0d6ee"/>
<rect x="227.46" y="275.35" width="10.91" height="9.98" fill="#d5e4f4"/>
<rect x="238.32" y="275.35" width="10.91" height="9.98" fill="#a6c6e8"/>
<rect x="249.18" y="275.35" width="10.91" height="9.98" fill="#8ab2df"/>
<rect x="260.04" y="275.35" width="10.91" height="9.98" fill="#1d3768"/>
<rect x="216.6" y="285.28" width="10.91" height="9.98" fill="#a6c6e8"/>
<rect x="227.46" y="285.28" width="10.91" height="9.98" fill="#a6c6e8"/>
<rect x="238.32" y="285.28" width="10.91" height="9.98" fill="#fbfdfe"/>
<rect x="249.18" y="285.28" width="10.91" height="9.98" fill="#d5e4f4"/>
<rect x="260.04" y="285.28" width="10.91" height="9.98" fill="#a6c6e8"/>
<rect x="216.6" y="295.21" width="10.91" height="9.98" fill="#c0d6ee"/>
<rect x="227.46" y="295.21" width="10.91" height="9.98" fill="#d5e4f4"/>
<rect x="238.32" y="295.21" width="10.91" height="9.98" fill="#a6c6e8"/>
<rect x="249.18" y="295.21" width="10.91" height="9.98" fill="#4189c9"/>
<rect x="260.04" y="295.21" width="10.91" height="9.98" fill="#0e4a8a"/>
<rect x="216.6" y="305.13" width="10.91" height="9.98" fill="#d5e4f4"/>
<rect x="227.46" y="305.13" width="10.91" height="9.98" fill="#d5e4f4"/>
<rect x="238.32" y="305.13" width="10.91" height="9.98" fill="#d5e4f4"/>
<rect x="249.18" y="305.13" width="10.91" height="9.98" fill="#c0d6ee"/>
<rect x="260.04" y="305.13" width="10.91" height="9.98" fill="#a6c6e8"/>
<rect x="216.6" y="315.06" width="10.91" height="9.98" fill="#c0d6ee"/>
<rect x="227.46" y="315.06" width="10.91" height="9.98" fill="#d5e4f4"/>
<rect x="238.32" y="315.06" width="10.91" height="9.98" fill="#fbfdfe"/>
<rect x="249.18" y="315.06" width="10.91" height="9.98" fill="#e9f1fa"/>
<rect x="260.04" y="315.06" width="10.91" height="9.98" fill="#a6c6e8"/>
<rect x="216.6" y="324.99" width="10.91" height="9.98" fill="#a6c6e8"/>
<rect x="227.46" y="324.99" width="10.91" height="9.98" fill="#c0d6ee"/>
<rect x="238.32" y="324.99" width="10.91" height="9.98" fill="#8ab2df"/>
<rect x="249.18" y="324.99" width="10.91" height="9.98" fill="#8ab2df"/>
<rect x="260.04" y="324.99" width="10.91" height="9.98" fill="#6a9fd6"/>
<rect x="216.6" y="334.91" width="10.91" height="9.98" fill="#4189c9"/>
<rect x="227.46" y="334.91" width="10.91" height="9.98" fill="#1375bc"/>
<rect x="238.32" y="334.91" width="10.91" height="9.98" fill="#1375bc"/>
<rect x="249.18" y="334.91" width="10.91" height="9.98" fill="#1d3768"/>
<rect x="260.04" y="334.91" width="10.91" height="9.98" fill="#0e4a8a"/>
<rect x="216.6" y="344.84" width="10.91" height="9.98" fill="#6a9fd6"/>
<rect x="227.46" y="344.84" width="10.91" height="9.98" fill="#8ab2df"/>
<rect x="238.32" y="344.84" width="10.91" height="9.98" fill="#8ab2df"/>
<rect x="249.18" y="344.84" width="10.91" height="9.98" fill="#c0d6ee"/>
<rect x="260.04" y="344.84" width="10.91" height="9.98" fill="#4189c9"/>
<rect x="216.6" y="354.77" width="10.91" height="9.98" fill="#c0d6ee"/>
<rect x="227.46" y="354.77" width="10.91" height="9.98" fill="#c0d6ee"/>
<rect x="238.32" y="354.77" width="10.91" height="9.98" fill="#d5e4f4"/>
<rect x="249.18" y="354.77" width="10.91" height="9.98" fill="#e9f1fa"/>
<rect x="260.04" y="354.77" width="10.91" height="9.98" fill="#4189c9"/>
<rect x="216.6" y="364.69" width="10.91" height="9.98" fill="#c0d6ee"/>
<rect x="227.46" y="364.69" width="10.91" height="9.98" fill="#c0d6ee"/>
<rect x="238.32" y="364.69" width="10.91" height="9.98" fill="#e9f1fa"/>
<rect x="249.18" y="364.69" width="10.91" height="9.98" fill="#e9f1fa"/>
<rect x="260.04" y="364.69" width="10.91" height="9.98" fill="#a6c6e8"/>
<rect x="216.6" y="374.62" width="10.91" height="9.98" fill="#c0d6ee"/>
<rect x="227.46" y="374.62" width="10.91" height="9.98" fill="#c0d6ee"/>
<rect x="238.32" y="374.62" width="10.91" height="9.98" fill="#d5e4f4"/>
<rect x="249.18" y="374.62" width="10.91" height="9.98" fill="#d5e4f4"/>
<rect x="260.04" y="374.62" width="10.91" height="9.98" fill="#c0d6ee"/>
<rect x="216.6" y="384.55" width="10.91" height="9.98" fill="#c0d6ee"/>
<rect x="227.46" y="384.55" width="10.91" height="9.98" fill="#c0d6ee"/>
<rect x="238.32" y="384.55" width="10.91" height="9.98" fill="#fbfdfe"/>
<rect x="249.18" y="384.55" width="10.91" height="9.98" fill="#fbfdfe"/>
<rect x="260.04" y="384.55" width="10.91" height="9.98" fill="#8ab2df"/>
<rect x="216.6" y="394.47" width="10.91" height="9.98" fill="#c0d6ee"/>
<rect x="227.46" y="394.47" width="10.91" height="9.98" fill="#d5e4f4"/>
<rect x="238.32" y="394.47" width="10.91" height="9.98" fill="#fbfdfe"/>
<rect x="249.18" y="394.47" width="10.91" height="9.98" fill="#fbfdfe"/>
<rect x="260.04" y="394.47" width="10.91" height="9.98" fill="#4189c9"/>
<line x1="216.6" y1="116.53" x2="270.9" y2="116.53" stroke="#fff" stroke-opacity="0.75" stroke-width="0.6"/>
<line x1="216.6" y1="126.45" x2="270.9" y2="126.45" stroke="#fff" stroke-opacity="0.75" stroke-width="0.6"/>
<line x1="216.6" y1="136.38" x2="270.9" y2="136.38" stroke="#fff" stroke-opacity="0.75" stroke-width="0.6"/>
<line x1="216.6" y1="146.31" x2="270.9" y2="146.31" stroke="#fff" stroke-opacity="0.75" stroke-width="0.6"/>
<line x1="216.6" y1="156.23" x2="270.9" y2="156.23" stroke="#fff" stroke-opacity="0.75" stroke-width="0.6"/>
<line x1="216.6" y1="166.16" x2="270.9" y2="166.16" stroke="#fff" stroke-opacity="0.75" stroke-width="0.6"/>
<line x1="216.6" y1="176.09" x2="270.9" y2="176.09" stroke="#fff" stroke-opacity="0.75" stroke-width="0.6"/>
<line x1="216.6" y1="186.01" x2="270.9" y2="186.01" stroke="#fff" stroke-opacity="0.75" stroke-width="0.6"/>
<line x1="216.6" y1="195.94" x2="270.9" y2="195.94" stroke="#fff" stroke-opacity="0.75" stroke-width="0.6"/>
<line x1="216.6" y1="205.87" x2="270.9" y2="205.87" stroke="#fff" stroke-opacity="0.75" stroke-width="0.6"/>
<line x1="216.6" y1="215.79" x2="270.9" y2="215.79" stroke="#fff" stroke-opacity="0.75" stroke-width="0.6"/>
<line x1="216.6" y1="225.72" x2="270.9" y2="225.72" stroke="#fff" stroke-opacity="0.75" stroke-width="0.6"/>
<line x1="216.6" y1="235.65" x2="270.9" y2="235.65" stroke="#fff" stroke-opacity="0.75" stroke-width="0.6"/>
<line x1="216.6" y1="245.57" x2="270.9" y2="245.57" stroke="#fff" stroke-opacity="0.75" stroke-width="0.6"/>
<line x1="216.6" y1="255.5" x2="270.9" y2="255.5" stroke="#fff" stroke-opacity="0.75" stroke-width="0.6"/>
<line x1="216.6" y1="265.43" x2="270.9" y2="265.43" stroke="#fff" stroke-opacity="0.75" stroke-width="0.6"/>
<line x1="216.6" y1="275.35" x2="270.9" y2="275.35" stroke="#fff" stroke-opacity="0.75" stroke-width="0.6"/>
<line x1="216.6" y1="285.28" x2="270.9" y2="285.28" stroke="#fff" stroke-opacity="0.75" stroke-width="0.6"/>
<line x1="216.6" y1="295.21" x2="270.9" y2="295.21" stroke="#fff" stroke-opacity="0.75" stroke-width="0.6"/>
<line x1="216.6" y1="305.13" x2="270.9" y2="305.13" stroke="#fff" stroke-opacity="0.75" stroke-width="0.6"/>
<line x1="216.6" y1="315.06" x2="270.9" y2="315.06" stroke="#fff" stroke-opacity="0.75" stroke-width="0.6"/>
<line x1="216.6" y1="324.99" x2="270.9" y2="324.99" stroke="#fff" stroke-opacity="0.75" stroke-width="0.6"/>
<line x1="216.6" y1="334.91" x2="270.9" y2="334.91" stroke="#fff" stroke-opacity="0.75" stroke-width="0.6"/>
<line x1="216.6" y1="344.84" x2="270.9" y2="344.84" stroke="#fff" stroke-opacity="0.75" stroke-width="0.6"/>
<line x1="216.6" y1="354.77" x2="270.9" y2="354.77" stroke="#fff" stroke-opacity="0.75" stroke-width="0.6"/>
<line x1="216.6" y1="364.69" x2="270.9" y2="364.69" stroke="#fff" stroke-opacity="0.75" stroke-width="0.6"/>
<line x1="216.6" y1="374.62" x2="270.9" y2="374.62" stroke="#fff" stroke-opacity="0.75" stroke-width="0.6"/>
<line x1="216.6" y1="384.55" x2="270.9" y2="384.55" stroke="#fff" stroke-opacity="0.75" stroke-width="0.6"/>
<line x1="216.6" y1="394.47" x2="270.9" y2="394.47" stroke="#fff" stroke-opacity="0.75" stroke-width="0.6"/>
<line x1="227.46" y1="106.6" x2="227.46" y2="404.4" stroke="#fff" stroke-opacity="0.75" stroke-width="0.6"/>
<line x1="238.32" y1="106.6" x2="238.32" y2="404.4" stroke="#fff" stroke-opacity="0.75" stroke-width="0.6"/>
<line x1="249.18" y1="106.6" x2="249.18" y2="404.4" stroke="#fff" stroke-opacity="0.75" stroke-width="0.6"/>
<line x1="260.04" y1="106.6" x2="260.04" y2="404.4" stroke="#fff" stroke-opacity="0.75" stroke-width="0.6"/>
<rect x="216.6" y="106.6" width="54.3" height="297.8" fill="none" stroke="#3a3a3a" stroke-opacity="0.62" stroke-width="0.75"/>
</g>
<g shape-rendering="auto">
<rect x="280.4" y="106.6" width="10.7" height="9.98" fill="#eaf5e9"/>
<rect x="291.05" y="106.6" width="10.7" height="9.98" fill="#36a35c"/>
<rect x="301.7" y="106.6" width="10.7" height="9.98" fill="#1b9046"/>
<rect x="312.35" y="106.6" width="10.7" height="9.98" fill="#36a35c"/>
<rect x="323" y="106.6" width="10.7" height="9.98" fill="#36a35c"/>
<rect x="333.65" y="106.6" width="10.7" height="9.98" fill="#64b577"/>
<rect x="280.4" y="116.53" width="10.7" height="9.98" fill="#d3ead2"/>
<rect x="291.05" y="116.53" width="10.7" height="9.98" fill="#1b9046"/>
<rect x="301.7" y="116.53" width="10.7" height="9.98" fill="#1b9046"/>
<rect x="312.35" y="116.53" width="10.7" height="9.98" fill="#36a35c"/>
<rect x="323" y="116.53" width="10.7" height="9.98" fill="#a5d5a6"/>
<rect x="333.65" y="116.53" width="10.7" height="9.98" fill="#36a35c"/>
<rect x="280.4" y="126.45" width="10.7" height="9.98" fill="#d3ead2"/>
<rect x="291.05" y="126.45" width="10.7" height="9.98" fill="#075c2d"/>
<rect x="301.7" y="126.45" width="10.7" height="9.98" fill="#137839"/>
<rect x="312.35" y="126.45" width="10.7" height="9.98" fill="#137839"/>
<rect x="323" y="126.45" width="10.7" height="9.98" fill="#85c68c"/>
<rect x="333.65" y="126.45" width="10.7" height="9.98" fill="#1b9046"/>
<rect x="280.4" y="136.38" width="10.7" height="9.98" fill="#fbfdfb"/>
<rect x="291.05" y="136.38" width="10.7" height="9.98" fill="#1b9046"/>
<rect x="301.7" y="136.38" width="10.7" height="9.98" fill="#15451f"/>
<rect x="312.35" y="136.38" width="10.7" height="9.98" fill="#075c2d"/>
<rect x="323" y="136.38" width="10.7" height="9.98" fill="#bce0bb"/>
<rect x="333.65" y="136.38" width="10.7" height="9.98" fill="#137839"/>
<rect x="280.4" y="146.31" width="10.7" height="9.98" fill="#fbfdfb"/>
<rect x="291.05" y="146.31" width="10.7" height="9.98" fill="#15451f"/>
<rect x="301.7" y="146.31" width="10.7" height="9.98" fill="#075c2d"/>
<rect x="312.35" y="146.31" width="10.7" height="9.98" fill="#1b9046"/>
<rect x="323" y="146.31" width="10.7" height="9.98" fill="#bce0bb"/>
<rect x="333.65" y="146.31" width="10.7" height="9.98" fill="#1b9046"/>
<rect x="280.4" y="156.23" width="10.7" height="9.98" fill="#bce0bb"/>
<rect x="291.05" y="156.23" width="10.7" height="9.98" fill="#36a35c"/>
<rect x="301.7" y="156.23" width="10.7" height="9.98" fill="#36a35c"/>
<rect x="312.35" y="156.23" width="10.7" height="9.98" fill="#36a35c"/>
<rect x="323" y="156.23" width="10.7" height="9.98" fill="#a5d5a6"/>
<rect x="333.65" y="156.23" width="10.7" height="9.98" fill="#36a35c"/>
<rect x="280.4" y="166.16" width="10.7" height="9.98" fill="#85c68c"/>
<rect x="291.05" y="166.16" width="10.7" height="9.98" fill="#64b577"/>
<rect x="301.7" y="166.16" width="10.7" height="9.98" fill="#64b577"/>
<rect x="312.35" y="166.16" width="10.7" height="9.98" fill="#36a35c"/>
<rect x="323" y="166.16" width="10.7" height="9.98" fill="#85c68c"/>
<rect x="333.65" y="166.16" width="10.7" height="9.98" fill="#64b577"/>
<rect x="280.4" y="176.09" width="10.7" height="9.98" fill="#85c68c"/>
<rect x="291.05" y="176.09" width="10.7" height="9.98" fill="#85c68c"/>
<rect x="301.7" y="176.09" width="10.7" height="9.98" fill="#64b577"/>
<rect x="312.35" y="176.09" width="10.7" height="9.98" fill="#64b577"/>
<rect x="323" y="176.09" width="10.7" height="9.98" fill="#64b577"/>
<rect x="333.65" y="176.09" width="10.7" height="9.98" fill="#64b577"/>
<rect x="280.4" y="186.01" width="10.7" height="9.98" fill="#64b577"/>
<rect x="291.05" y="186.01" width="10.7" height="9.98" fill="#85c68c"/>
<rect x="301.7" y="186.01" width="10.7" height="9.98" fill="#85c68c"/>
<rect x="312.35" y="186.01" width="10.7" height="9.98" fill="#85c68c"/>
<rect x="323" y="186.01" width="10.7" height="9.98" fill="#64b577"/>
<rect x="333.65" y="186.01" width="10.7" height="9.98" fill="#85c68c"/>
<rect x="280.4" y="195.94" width="10.7" height="9.98" fill="#a5d5a6"/>
<rect x="291.05" y="195.94" width="10.7" height="9.98" fill="#64b577"/>
<rect x="301.7" y="195.94" width="10.7" height="9.98" fill="#64b577"/>
<rect x="312.35" y="195.94" width="10.7" height="9.98" fill="#a5d5a6"/>
<rect x="323" y="195.94" width="10.7" height="9.98" fill="#85c68c"/>
<rect x="333.65" y="195.94" width="10.7" height="9.98" fill="#85c68c"/>
<rect x="280.4" y="205.87" width="10.7" height="9.98" fill="#a5d5a6"/>
<rect x="291.05" y="205.87" width="10.7" height="9.98" fill="#85c68c"/>
<rect x="301.7" y="205.87" width="10.7" height="9.98" fill="#85c68c"/>
<rect x="312.35" y="205.87" width="10.7" height="9.98" fill="#64b577"/>
<rect x="323" y="205.87" width="10.7" height="9.98" fill="#85c68c"/>
<rect x="333.65" y="205.87" width="10.7" height="9.98" fill="#64b577"/>
<rect x="280.4" y="215.79" width="10.7" height="9.98" fill="#075c2d"/>
<rect x="291.05" y="215.79" width="10.7" height="9.98" fill="#bce0bb"/>
<rect x="301.7" y="215.79" width="10.7" height="9.98" fill="#d3ead2"/>
<rect x="312.35" y="215.79" width="10.7" height="9.98" fill="#a5d5a6"/>
<rect x="323" y="215.79" width="10.7" height="9.98" fill="#1b9046"/>
<rect x="333.65" y="215.79" width="10.7" height="9.98" fill="#d3ead2"/>
<rect x="280.4" y="225.72" width="10.7" height="9.98" fill="#075c2d"/>
<rect x="291.05" y="225.72" width="10.7" height="9.98" fill="#d3ead2"/>
<rect x="301.7" y="225.72" width="10.7" height="9.98" fill="#eaf5e9"/>
<rect x="312.35" y="225.72" width="10.7" height="9.98" fill="#bce0bb"/>
<rect x="323" y="225.72" width="10.7" height="9.98" fill="#36a35c"/>
<rect x="333.65" y="225.72" width="10.7" height="9.98" fill="#bce0bb"/>
<rect x="280.4" y="235.65" width="10.7" height="9.98" fill="#85c68c"/>
<rect x="291.05" y="235.65" width="10.7" height="9.98" fill="#85c68c"/>
<rect x="301.7" y="235.65" width="10.7" height="9.98" fill="#85c68c"/>
<rect x="312.35" y="235.65" width="10.7" height="9.98" fill="#85c68c"/>
<rect x="323" y="235.65" width="10.7" height="9.98" fill="#85c68c"/>
<rect x="333.65" y="235.65" width="10.7" height="9.98" fill="#85c68c"/>
<rect x="280.4" y="245.57" width="10.7" height="9.98" fill="#36a35c"/>
<rect x="291.05" y="245.57" width="10.7" height="9.98" fill="#85c68c"/>
<rect x="301.7" y="245.57" width="10.7" height="9.98" fill="#a5d5a6"/>
<rect x="312.35" y="245.57" width="10.7" height="9.98" fill="#a5d5a6"/>
<rect x="323" y="245.57" width="10.7" height="9.98" fill="#64b577"/>
<rect x="333.65" y="245.57" width="10.7" height="9.98" fill="#85c68c"/>
<rect x="280.4" y="255.5" width="10.7" height="9.98" fill="#85c68c"/>
<rect x="291.05" y="255.5" width="10.7" height="9.98" fill="#a5d5a6"/>
<rect x="301.7" y="255.5" width="10.7" height="9.98" fill="#a5d5a6"/>
<rect x="312.35" y="255.5" width="10.7" height="9.98" fill="#a5d5a6"/>
<rect x="323" y="255.5" width="10.7" height="9.98" fill="#15451f"/>
<rect x="333.65" y="255.5" width="10.7" height="9.98" fill="#85c68c"/>
<rect x="280.4" y="265.43" width="10.7" height="9.98" fill="#075c2d"/>
<rect x="291.05" y="265.43" width="10.7" height="9.98" fill="#eaf5e9"/>
<rect x="301.7" y="265.43" width="10.7" height="9.98" fill="#fbfdfb"/>
<rect x="312.35" y="265.43" width="10.7" height="9.98" fill="#bce0bb"/>
<rect x="323" y="265.43" width="10.7" height="9.98" fill="#36a35c"/>
<rect x="333.65" y="265.43" width="10.7" height="9.98" fill="#eaf5e9"/>
<rect x="280.4" y="275.35" width="10.7" height="9.98" fill="#15451f"/>
<rect x="291.05" y="275.35" width="10.7" height="9.98" fill="#fbfdfb"/>
<rect x="301.7" y="275.35" width="10.7" height="9.98" fill="#fbfdfb"/>
<rect x="312.35" y="275.35" width="10.7" height="9.98" fill="#d3ead2"/>
<rect x="323" y="275.35" width="10.7" height="9.98" fill="#1b9046"/>
<rect x="333.65" y="275.35" width="10.7" height="9.98" fill="#eaf5e9"/>
<rect x="280.4" y="285.28" width="10.7" height="9.98" fill="#85c68c"/>
<rect x="291.05" y="285.28" width="10.7" height="9.98" fill="#a5d5a6"/>
<rect x="301.7" y="285.28" width="10.7" height="9.98" fill="#85c68c"/>
<rect x="312.35" y="285.28" width="10.7" height="9.98" fill="#85c68c"/>
<rect x="323" y="285.28" width="10.7" height="9.98" fill="#64b577"/>
<rect x="333.65" y="285.28" width="10.7" height="9.98" fill="#64b577"/>
<rect x="280.4" y="295.21" width="10.7" height="9.98" fill="#075c2d"/>
<rect x="291.05" y="295.21" width="10.7" height="9.98" fill="#d3ead2"/>
<rect x="301.7" y="295.21" width="10.7" height="9.98" fill="#d3ead2"/>
<rect x="312.35" y="295.21" width="10.7" height="9.98" fill="#bce0bb"/>
<rect x="323" y="295.21" width="10.7" height="9.98" fill="#36a35c"/>
<rect x="333.65" y="295.21" width="10.7" height="9.98" fill="#d3ead2"/>
<rect x="280.4" y="305.13" width="10.7" height="9.98" fill="#137839"/>
<rect x="291.05" y="305.13" width="10.7" height="9.98" fill="#a5d5a6"/>
<rect x="301.7" y="305.13" width="10.7" height="9.98" fill="#bce0bb"/>
<rect x="312.35" y="305.13" width="10.7" height="9.98" fill="#bce0bb"/>
<rect x="323" y="305.13" width="10.7" height="9.98" fill="#85c68c"/>
<rect x="333.65" y="305.13" width="10.7" height="9.98" fill="#a5d5a6"/>
<rect x="280.4" y="315.06" width="10.7" height="9.98" fill="#a5d5a6"/>
<rect x="291.05" y="315.06" width="10.7" height="9.98" fill="#64b577"/>
<rect x="301.7" y="315.06" width="10.7" height="9.98" fill="#36a35c"/>
<rect x="312.35" y="315.06" width="10.7" height="9.98" fill="#64b577"/>
<rect x="323" y="315.06" width="10.7" height="9.98" fill="#85c68c"/>
<rect x="333.65" y="315.06" width="10.7" height="9.98" fill="#36a35c"/>
<rect x="280.4" y="324.99" width="10.7" height="9.98" fill="#64b577"/>
<rect x="291.05" y="324.99" width="10.7" height="9.98" fill="#64b577"/>
<rect x="301.7" y="324.99" width="10.7" height="9.98" fill="#85c68c"/>
<rect x="312.35" y="324.99" width="10.7" height="9.98" fill="#bce0bb"/>
<rect x="323" y="324.99" width="10.7" height="9.98" fill="#85c68c"/>
<rect x="333.65" y="324.99" width="10.7" height="9.98" fill="#85c68c"/>
<rect x="280.4" y="334.91" width="10.7" height="9.98" fill="#137839"/>
<rect x="291.05" y="334.91" width="10.7" height="9.98" fill="#bce0bb"/>
<rect x="301.7" y="334.91" width="10.7" height="9.98" fill="#bce0bb"/>
<rect x="312.35" y="334.91" width="10.7" height="9.98" fill="#bce0bb"/>
<rect x="323" y="334.91" width="10.7" height="9.98" fill="#36a35c"/>
<rect x="333.65" y="334.91" width="10.7" height="9.98" fill="#d3ead2"/>
<rect x="280.4" y="344.84" width="10.7" height="9.98" fill="#1b9046"/>
<rect x="291.05" y="344.84" width="10.7" height="9.98" fill="#bce0bb"/>
<rect x="301.7" y="344.84" width="10.7" height="9.98" fill="#bce0bb"/>
<rect x="312.35" y="344.84" width="10.7" height="9.98" fill="#bce0bb"/>
<rect x="323" y="344.84" width="10.7" height="9.98" fill="#64b577"/>
<rect x="333.65" y="344.84" width="10.7" height="9.98" fill="#bce0bb"/>
<rect x="280.4" y="354.77" width="10.7" height="9.98" fill="#85c68c"/>
<rect x="291.05" y="354.77" width="10.7" height="9.98" fill="#64b577"/>
<rect x="301.7" y="354.77" width="10.7" height="9.98" fill="#64b577"/>
<rect x="312.35" y="354.77" width="10.7" height="9.98" fill="#85c68c"/>
<rect x="323" y="354.77" width="10.7" height="9.98" fill="#85c68c"/>
<rect x="333.65" y="354.77" width="10.7" height="9.98" fill="#64b577"/>
<rect x="280.4" y="364.69" width="10.7" height="9.98" fill="#a5d5a6"/>
<rect x="291.05" y="364.69" width="10.7" height="9.98" fill="#1b9046"/>
<rect x="301.7" y="364.69" width="10.7" height="9.98" fill="#36a35c"/>
<rect x="312.35" y="364.69" width="10.7" height="9.98" fill="#85c68c"/>
<rect x="323" y="364.69" width="10.7" height="9.98" fill="#a5d5a6"/>
<rect x="333.65" y="364.69" width="10.7" height="9.98" fill="#36a35c"/>
<rect x="280.4" y="374.62" width="10.7" height="9.98" fill="#a5d5a6"/>
<rect x="291.05" y="374.62" width="10.7" height="9.98" fill="#36a35c"/>
<rect x="301.7" y="374.62" width="10.7" height="9.98" fill="#64b577"/>
<rect x="312.35" y="374.62" width="10.7" height="9.98" fill="#85c68c"/>
<rect x="323" y="374.62" width="10.7" height="9.98" fill="#85c68c"/>
<rect x="333.65" y="374.62" width="10.7" height="9.98" fill="#64b577"/>
<rect x="280.4" y="384.55" width="10.7" height="9.98" fill="#64b577"/>
<rect x="291.05" y="384.55" width="10.7" height="9.98" fill="#64b577"/>
<rect x="301.7" y="384.55" width="10.7" height="9.98" fill="#64b577"/>
<rect x="312.35" y="384.55" width="10.7" height="9.98" fill="#64b577"/>
<rect x="323" y="384.55" width="10.7" height="9.98" fill="#bce0bb"/>
<rect x="333.65" y="384.55" width="10.7" height="9.98" fill="#36a35c"/>
<rect x="280.4" y="394.47" width="10.7" height="9.98" fill="#36a35c"/>
<rect x="291.05" y="394.47" width="10.7" height="9.98" fill="#64b577"/>
<rect x="301.7" y="394.47" width="10.7" height="9.98" fill="#64b577"/>
<rect x="312.35" y="394.47" width="10.7" height="9.98" fill="#85c68c"/>
<rect x="323" y="394.47" width="10.7" height="9.98" fill="#85c68c"/>
<rect x="333.65" y="394.47" width="10.7" height="9.98" fill="#64b577"/>
<line x1="280.4" y1="116.53" x2="344.3" y2="116.53" stroke="#fff" stroke-opacity="0.75" stroke-width="0.6"/>
<line x1="280.4" y1="126.45" x2="344.3" y2="126.45" stroke="#fff" stroke-opacity="0.75" stroke-width="0.6"/>
<line x1="280.4" y1="136.38" x2="344.3" y2="136.38" stroke="#fff" stroke-opacity="0.75" stroke-width="0.6"/>
<line x1="280.4" y1="146.31" x2="344.3" y2="146.31" stroke="#fff" stroke-opacity="0.75" stroke-width="0.6"/>
<line x1="280.4" y1="156.23" x2="344.3" y2="156.23" stroke="#fff" stroke-opacity="0.75" stroke-width="0.6"/>
<line x1="280.4" y1="166.16" x2="344.3" y2="166.16" stroke="#fff" stroke-opacity="0.75" stroke-width="0.6"/>
<line x1="280.4" y1="176.09" x2="344.3" y2="176.09" stroke="#fff" stroke-opacity="0.75" stroke-width="0.6"/>
<line x1="280.4" y1="186.01" x2="344.3" y2="186.01" stroke="#fff" stroke-opacity="0.75" stroke-width="0.6"/>
<line x1="280.4" y1="195.94" x2="344.3" y2="195.94" stroke="#fff" stroke-opacity="0.75" stroke-width="0.6"/>
<line x1="280.4" y1="205.87" x2="344.3" y2="205.87" stroke="#fff" stroke-opacity="0.75" stroke-width="0.6"/>
<line x1="280.4" y1="215.79" x2="344.3" y2="215.79" stroke="#fff" stroke-opacity="0.75" stroke-width="0.6"/>
<line x1="280.4" y1="225.72" x2="344.3" y2="225.72" stroke="#fff" stroke-opacity="0.75" stroke-width="0.6"/>
<line x1="280.4" y1="235.65" x2="344.3" y2="235.65" stroke="#fff" stroke-opacity="0.75" stroke-width="0.6"/>
<line x1="280.4" y1="245.57" x2="344.3" y2="245.57" stroke="#fff" stroke-opacity="0.75" stroke-width="0.6"/>
<line x1="280.4" y1="255.5" x2="344.3" y2="255.5" stroke="#fff" stroke-opacity="0.75" stroke-width="0.6"/>
<line x1="280.4" y1="265.43" x2="344.3" y2="265.43" stroke="#fff" stroke-opacity="0.75" stroke-width="0.6"/>
<line x1="280.4" y1="275.35" x2="344.3" y2="275.35" stroke="#fff" stroke-opacity="0.75" stroke-width="0.6"/>
<line x1="280.4" y1="285.28" x2="344.3" y2="285.28" stroke="#fff" stroke-opacity="0.75" stroke-width="0.6"/>
<line x1="280.4" y1="295.21" x2="344.3" y2="295.21" stroke="#fff" stroke-opacity="0.75" stroke-width="0.6"/>
<line x1="280.4" y1="305.13" x2="344.3" y2="305.13" stroke="#fff" stroke-opacity="0.75" stroke-width="0.6"/>
<line x1="280.4" y1="315.06" x2="344.3" y2="315.06" stroke="#fff" stroke-opacity="0.75" stroke-width="0.6"/>
<line x1="280.4" y1="324.99" x2="344.3" y2="324.99" stroke="#fff" stroke-opacity="0.75" stroke-width="0.6"/>
<line x1="280.4" y1="334.91" x2="344.3" y2="334.91" stroke="#fff" stroke-opacity="0.75" stroke-width="0.6"/>
<line x1="280.4" y1="344.84" x2="344.3" y2="344.84" stroke="#fff" stroke-opacity="0.75" stroke-width="0.6"/>
<line x1="280.4" y1="354.77" x2="344.3" y2="354.77" stroke="#fff" stroke-opacity="0.75" stroke-width="0.6"/>
<line x1="280.4" y1="364.69" x2="344.3" y2="364.69" stroke="#fff" stroke-opacity="0.75" stroke-width="0.6"/>
<line x1="280.4" y1="374.62" x2="344.3" y2="374.62" stroke="#fff" stroke-opacity="0.75" stroke-width="0.6"/>
<line x1="280.4" y1="384.55" x2="344.3" y2="384.55" stroke="#fff" stroke-opacity="0.75" stroke-width="0.6"/>
<line x1="280.4" y1="394.47" x2="344.3" y2="394.47" stroke="#fff" stroke-opacity="0.75" stroke-width="0.6"/>
<line x1="291.05" y1="106.6" x2="291.05" y2="404.4" stroke="#fff" stroke-opacity="0.75" stroke-width="0.6"/>
<line x1="301.7" y1="106.6" x2="301.7" y2="404.4" stroke="#fff" stroke-opacity="0.75" stroke-width="0.6"/>
<line x1="312.35" y1="106.6" x2="312.35" y2="404.4" stroke="#fff" stroke-opacity="0.75" stroke-width="0.6"/>
<line x1="323" y1="106.6" x2="323" y2="404.4" stroke="#fff" stroke-opacity="0.75" stroke-width="0.6"/>
<line x1="333.65" y1="106.6" x2="333.65" y2="404.4" stroke="#fff" stroke-opacity="0.75" stroke-width="0.6"/>
<rect x="280.4" y="106.6" width="63.9" height="297.8" fill="none" stroke="#3a3a3a" stroke-opacity="0.62" stroke-width="0.75"/>
</g>
<g shape-rendering="auto">
<rect x="392.5" y="106.6" width="10.36" height="9.98" fill="#d3ead2"/>
<rect x="402.81" y="106.6" width="10.36" height="9.98" fill="#bce0bb"/>
<rect x="413.13" y="106.6" width="10.36" height="9.98" fill="#1b9046"/>
<rect x="423.44" y="106.6" width="10.36" height="9.98" fill="#64b577"/>
<rect x="433.76" y="106.6" width="10.36" height="9.98" fill="#85c68c"/>
<rect x="444.07" y="106.6" width="10.36" height="9.98" fill="#137839"/>
<rect x="454.39" y="106.6" width="10.36" height="9.98" fill="#64b577"/>
<rect x="392.5" y="116.53" width="10.36" height="9.98" fill="#d3ead2"/>
<rect x="402.81" y="116.53" width="10.36" height="9.98" fill="#bce0bb"/>
<rect x="413.13" y="116.53" width="10.36" height="9.98" fill="#1b9046"/>
<rect x="423.44" y="116.53" width="10.36" height="9.98" fill="#36a35c"/>
<rect x="433.76" y="116.53" width="10.36" height="9.98" fill="#36a35c"/>
<rect x="444.07" y="116.53" width="10.36" height="9.98" fill="#36a35c"/>
<rect x="454.39" y="116.53" width="10.36" height="9.98" fill="#36a35c"/>
<rect x="392.5" y="126.45" width="10.36" height="9.98" fill="#a5d5a6"/>
<rect x="402.81" y="126.45" width="10.36" height="9.98" fill="#bce0bb"/>
<rect x="413.13" y="126.45" width="10.36" height="9.98" fill="#85c68c"/>
<rect x="423.44" y="126.45" width="10.36" height="9.98" fill="#85c68c"/>
<rect x="433.76" y="126.45" width="10.36" height="9.98" fill="#1b9046"/>
<rect x="444.07" y="126.45" width="10.36" height="9.98" fill="#36a35c"/>
<rect x="454.39" y="126.45" width="10.36" height="9.98" fill="#36a35c"/>
<rect x="392.5" y="136.38" width="10.36" height="9.98" fill="#fbfdfb"/>
<rect x="402.81" y="136.38" width="10.36" height="9.98" fill="#d3ead2"/>
<rect x="413.13" y="136.38" width="10.36" height="9.98" fill="#075c2d"/>
<rect x="423.44" y="136.38" width="10.36" height="9.98" fill="#36a35c"/>
<rect x="433.76" y="136.38" width="10.36" height="9.98" fill="#36a35c"/>
<rect x="444.07" y="136.38" width="10.36" height="9.98" fill="#1b9046"/>
<rect x="454.39" y="136.38" width="10.36" height="9.98" fill="#85c68c"/>
<rect x="392.5" y="146.31" width="10.36" height="9.98" fill="#eaf5e9"/>
<rect x="402.81" y="146.31" width="10.36" height="9.98" fill="#d3ead2"/>
<rect x="413.13" y="146.31" width="10.36" height="9.98" fill="#137839"/>
<rect x="423.44" y="146.31" width="10.36" height="9.98" fill="#137839"/>
<rect x="433.76" y="146.31" width="10.36" height="9.98" fill="#137839"/>
<rect x="444.07" y="146.31" width="10.36" height="9.98" fill="#137839"/>
<rect x="454.39" y="146.31" width="10.36" height="9.98" fill="#64b577"/>
<rect x="392.5" y="156.23" width="10.36" height="9.98" fill="#85c68c"/>
<rect x="402.81" y="156.23" width="10.36" height="9.98" fill="#a5d5a6"/>
<rect x="413.13" y="156.23" width="10.36" height="9.98" fill="#85c68c"/>
<rect x="423.44" y="156.23" width="10.36" height="9.98" fill="#64b577"/>
<rect x="433.76" y="156.23" width="10.36" height="9.98" fill="#64b577"/>
<rect x="444.07" y="156.23" width="10.36" height="9.98" fill="#85c68c"/>
<rect x="454.39" y="156.23" width="10.36" height="9.98" fill="#a5d5a6"/>
<rect x="392.5" y="166.16" width="10.36" height="9.98" fill="#36a35c"/>
<rect x="402.81" y="166.16" width="10.36" height="9.98" fill="#64b577"/>
<rect x="413.13" y="166.16" width="10.36" height="9.98" fill="#bce0bb"/>
<rect x="423.44" y="166.16" width="10.36" height="9.98" fill="#a5d5a6"/>
<rect x="433.76" y="166.16" width="10.36" height="9.98" fill="#a5d5a6"/>
<rect x="444.07" y="166.16" width="10.36" height="9.98" fill="#a5d5a6"/>
<rect x="454.39" y="166.16" width="10.36" height="9.98" fill="#a5d5a6"/>
<rect x="392.5" y="176.09" width="10.36" height="9.98" fill="#64b577"/>
<rect x="402.81" y="176.09" width="10.36" height="9.98" fill="#36a35c"/>
<rect x="413.13" y="176.09" width="10.36" height="9.98" fill="#85c68c"/>
<rect x="423.44" y="176.09" width="10.36" height="9.98" fill="#85c68c"/>
<rect x="433.76" y="176.09" width="10.36" height="9.98" fill="#a5d5a6"/>
<rect x="444.07" y="176.09" width="10.36" height="9.98" fill="#85c68c"/>
<rect x="454.39" y="176.09" width="10.36" height="9.98" fill="#85c68c"/>
<rect x="392.5" y="186.01" width="10.36" height="9.98" fill="#64b577"/>
<rect x="402.81" y="186.01" width="10.36" height="9.98" fill="#64b577"/>
<rect x="413.13" y="186.01" width="10.36" height="9.98" fill="#85c68c"/>
<rect x="423.44" y="186.01" width="10.36" height="9.98" fill="#a5d5a6"/>
<rect x="433.76" y="186.01" width="10.36" height="9.98" fill="#a5d5a6"/>
<rect x="444.07" y="186.01" width="10.36" height="9.98" fill="#a5d5a6"/>
<rect x="454.39" y="186.01" width="10.36" height="9.98" fill="#64b577"/>
<rect x="392.5" y="195.94" width="10.36" height="9.98" fill="#bce0bb"/>
<rect x="402.81" y="195.94" width="10.36" height="9.98" fill="#bce0bb"/>
<rect x="413.13" y="195.94" width="10.36" height="9.98" fill="#1b9046"/>
<rect x="423.44" y="195.94" width="10.36" height="9.98" fill="#1b9046"/>
<rect x="433.76" y="195.94" width="10.36" height="9.98" fill="#a5d5a6"/>
<rect x="444.07" y="195.94" width="10.36" height="9.98" fill="#64b577"/>
<rect x="454.39" y="195.94" width="10.36" height="9.98" fill="#a5d5a6"/>
<rect x="392.5" y="205.87" width="10.36" height="9.98" fill="#bce0bb"/>
<rect x="402.81" y="205.87" width="10.36" height="9.98" fill="#a5d5a6"/>
<rect x="413.13" y="205.87" width="10.36" height="9.98" fill="#36a35c"/>
<rect x="423.44" y="205.87" width="10.36" height="9.98" fill="#64b577"/>
<rect x="433.76" y="205.87" width="10.36" height="9.98" fill="#85c68c"/>
<rect x="444.07" y="205.87" width="10.36" height="9.98" fill="#36a35c"/>
<rect x="454.39" y="205.87" width="10.36" height="9.98" fill="#a5d5a6"/>
<rect x="392.5" y="215.79" width="10.36" height="9.98" fill="#137839"/>
<rect x="402.81" y="215.79" width="10.36" height="9.98" fill="#137839"/>
<rect x="413.13" y="215.79" width="10.36" height="9.98" fill="#eaf5e9"/>
<rect x="423.44" y="215.79" width="10.36" height="9.98" fill="#bce0bb"/>
<rect x="433.76" y="215.79" width="10.36" height="9.98" fill="#85c68c"/>
<rect x="444.07" y="215.79" width="10.36" height="9.98" fill="#bce0bb"/>
<rect x="454.39" y="215.79" width="10.36" height="9.98" fill="#137839"/>
<rect x="392.5" y="225.72" width="10.36" height="9.98" fill="#137839"/>
<rect x="402.81" y="225.72" width="10.36" height="9.98" fill="#075c2d"/>
<rect x="413.13" y="225.72" width="10.36" height="9.98" fill="#d3ead2"/>
<rect x="423.44" y="225.72" width="10.36" height="9.98" fill="#bce0bb"/>
<rect x="433.76" y="225.72" width="10.36" height="9.98" fill="#a5d5a6"/>
<rect x="444.07" y="225.72" width="10.36" height="9.98" fill="#d3ead2"/>
<rect x="454.39" y="225.72" width="10.36" height="9.98" fill="#a5d5a6"/>
<rect x="392.5" y="235.65" width="10.36" height="9.98" fill="#eaf5e9"/>
<rect x="402.81" y="235.65" width="10.36" height="9.98" fill="#a5d5a6"/>
<rect x="413.13" y="235.65" width="10.36" height="9.98" fill="#075c2d"/>
<rect x="423.44" y="235.65" width="10.36" height="9.98" fill="#85c68c"/>
<rect x="433.76" y="235.65" width="10.36" height="9.98" fill="#a5d5a6"/>
<rect x="444.07" y="235.65" width="10.36" height="9.98" fill="#85c68c"/>
<rect x="454.39" y="235.65" width="10.36" height="9.98" fill="#bce0bb"/>
<rect x="392.5" y="245.57" width="10.36" height="9.98" fill="#64b577"/>
<rect x="402.81" y="245.57" width="10.36" height="9.98" fill="#64b577"/>
<rect x="413.13" y="245.57" width="10.36" height="9.98" fill="#a5d5a6"/>
<rect x="423.44" y="245.57" width="10.36" height="9.98" fill="#a5d5a6"/>
<rect x="433.76" y="245.57" width="10.36" height="9.98" fill="#64b577"/>
<rect x="444.07" y="245.57" width="10.36" height="9.98" fill="#85c68c"/>
<rect x="454.39" y="245.57" width="10.36" height="9.98" fill="#075c2d"/>
<rect x="392.5" y="255.5" width="10.36" height="9.98" fill="#85c68c"/>
<rect x="402.81" y="255.5" width="10.36" height="9.98" fill="#64b577"/>
<rect x="413.13" y="255.5" width="10.36" height="9.98" fill="#85c68c"/>
<rect x="423.44" y="255.5" width="10.36" height="9.98" fill="#a5d5a6"/>
<rect x="433.76" y="255.5" width="10.36" height="9.98" fill="#85c68c"/>
<rect x="444.07" y="255.5" width="10.36" height="9.98" fill="#36a35c"/>
<rect x="454.39" y="255.5" width="10.36" height="9.98" fill="#36a35c"/>
<rect x="392.5" y="265.43" width="10.36" height="9.98" fill="#137839"/>
<rect x="402.81" y="265.43" width="10.36" height="9.98" fill="#1b9046"/>
<rect x="413.13" y="265.43" width="10.36" height="9.98" fill="#d3ead2"/>
<rect x="423.44" y="265.43" width="10.36" height="9.98" fill="#a5d5a6"/>
<rect x="433.76" y="265.43" width="10.36" height="9.98" fill="#bce0bb"/>
<rect x="444.07" y="265.43" width="10.36" height="9.98" fill="#d3ead2"/>
<rect x="454.39" y="265.43" width="10.36" height="9.98" fill="#a5d5a6"/>
<rect x="392.5" y="275.35" width="10.36" height="9.98" fill="#15451f"/>
<rect x="402.81" y="275.35" width="10.36" height="9.98" fill="#075c2d"/>
<rect x="413.13" y="275.35" width="10.36" height="9.98" fill="#fbfdfb"/>
<rect x="423.44" y="275.35" width="10.36" height="9.98" fill="#d3ead2"/>
<rect x="433.76" y="275.35" width="10.36" height="9.98" fill="#bce0bb"/>
<rect x="444.07" y="275.35" width="10.36" height="9.98" fill="#eaf5e9"/>
<rect x="454.39" y="275.35" width="10.36" height="9.98" fill="#85c68c"/>
<rect x="392.5" y="285.28" width="10.36" height="9.98" fill="#a5d5a6"/>
<rect x="402.81" y="285.28" width="10.36" height="9.98" fill="#d3ead2"/>
<rect x="413.13" y="285.28" width="10.36" height="9.98" fill="#64b577"/>
<rect x="423.44" y="285.28" width="10.36" height="9.98" fill="#64b577"/>
<rect x="433.76" y="285.28" width="10.36" height="9.98" fill="#bce0bb"/>
<rect x="444.07" y="285.28" width="10.36" height="9.98" fill="#85c68c"/>
<rect x="454.39" y="285.28" width="10.36" height="9.98" fill="#bce0bb"/>
<rect x="392.5" y="295.21" width="10.36" height="9.98" fill="#137839"/>
<rect x="402.81" y="295.21" width="10.36" height="9.98" fill="#64b577"/>
<rect x="413.13" y="295.21" width="10.36" height="9.98" fill="#d3ead2"/>
<rect x="423.44" y="295.21" width="10.36" height="9.98" fill="#a5d5a6"/>
<rect x="433.76" y="295.21" width="10.36" height="9.98" fill="#85c68c"/>
<rect x="444.07" y="295.21" width="10.36" height="9.98" fill="#d3ead2"/>
<rect x="454.39" y="295.21" width="10.36" height="9.98" fill="#bce0bb"/>
<rect x="392.5" y="305.13" width="10.36" height="9.98" fill="#1b9046"/>
<rect x="402.81" y="305.13" width="10.36" height="9.98" fill="#36a35c"/>
<rect x="413.13" y="305.13" width="10.36" height="9.98" fill="#d3ead2"/>
<rect x="423.44" y="305.13" width="10.36" height="9.98" fill="#bce0bb"/>
<rect x="433.76" y="305.13" width="10.36" height="9.98" fill="#a5d5a6"/>
<rect x="444.07" y="305.13" width="10.36" height="9.98" fill="#bce0bb"/>
<rect x="454.39" y="305.13" width="10.36" height="9.98" fill="#85c68c"/>
<rect x="392.5" y="315.06" width="10.36" height="9.98" fill="#bce0bb"/>
<rect x="402.81" y="315.06" width="10.36" height="9.98" fill="#bce0bb"/>
<rect x="413.13" y="315.06" width="10.36" height="9.98" fill="#36a35c"/>
<rect x="423.44" y="315.06" width="10.36" height="9.98" fill="#64b577"/>
<rect x="433.76" y="315.06" width="10.36" height="9.98" fill="#36a35c"/>
<rect x="444.07" y="315.06" width="10.36" height="9.98" fill="#85c68c"/>
<rect x="454.39" y="315.06" width="10.36" height="9.98" fill="#64b577"/>
<rect x="392.5" y="324.99" width="10.36" height="9.98" fill="#bce0bb"/>
<rect x="402.81" y="324.99" width="10.36" height="9.98" fill="#85c68c"/>
<rect x="413.13" y="324.99" width="10.36" height="9.98" fill="#36a35c"/>
<rect x="423.44" y="324.99" width="10.36" height="9.98" fill="#64b577"/>
<rect x="433.76" y="324.99" width="10.36" height="9.98" fill="#85c68c"/>
<rect x="444.07" y="324.99" width="10.36" height="9.98" fill="#64b577"/>
<rect x="454.39" y="324.99" width="10.36" height="9.98" fill="#a5d5a6"/>
<rect x="392.5" y="334.91" width="10.36" height="9.98" fill="#36a35c"/>
<rect x="402.81" y="334.91" width="10.36" height="9.98" fill="#36a35c"/>
<rect x="413.13" y="334.91" width="10.36" height="9.98" fill="#bce0bb"/>
<rect x="423.44" y="334.91" width="10.36" height="9.98" fill="#a5d5a6"/>
<rect x="433.76" y="334.91" width="10.36" height="9.98" fill="#bce0bb"/>
<rect x="444.07" y="334.91" width="10.36" height="9.98" fill="#85c68c"/>
<rect x="454.39" y="334.91" width="10.36" height="9.98" fill="#64b577"/>
<rect x="392.5" y="344.84" width="10.36" height="9.98" fill="#85c68c"/>
<rect x="402.81" y="344.84" width="10.36" height="9.98" fill="#36a35c"/>
<rect x="413.13" y="344.84" width="10.36" height="9.98" fill="#85c68c"/>
<rect x="423.44" y="344.84" width="10.36" height="9.98" fill="#a5d5a6"/>
<rect x="433.76" y="344.84" width="10.36" height="9.98" fill="#85c68c"/>
<rect x="444.07" y="344.84" width="10.36" height="9.98" fill="#85c68c"/>
<rect x="454.39" y="344.84" width="10.36" height="9.98" fill="#64b577"/>
<rect x="392.5" y="354.77" width="10.36" height="9.98" fill="#85c68c"/>
<rect x="402.81" y="354.77" width="10.36" height="9.98" fill="#85c68c"/>
<rect x="413.13" y="354.77" width="10.36" height="9.98" fill="#a5d5a6"/>
<rect x="423.44" y="354.77" width="10.36" height="9.98" fill="#64b577"/>
<rect x="433.76" y="354.77" width="10.36" height="9.98" fill="#85c68c"/>
<rect x="444.07" y="354.77" width="10.36" height="9.98" fill="#a5d5a6"/>
<rect x="454.39" y="354.77" width="10.36" height="9.98" fill="#a5d5a6"/>
<rect x="392.5" y="364.69" width="10.36" height="9.98" fill="#bce0bb"/>
<rect x="402.81" y="364.69" width="10.36" height="9.98" fill="#bce0bb"/>
<rect x="413.13" y="364.69" width="10.36" height="9.98" fill="#64b577"/>
<rect x="423.44" y="364.69" width="10.36" height="9.98" fill="#36a35c"/>
<rect x="433.76" y="364.69" width="10.36" height="9.98" fill="#85c68c"/>
<rect x="444.07" y="364.69" width="10.36" height="9.98" fill="#64b577"/>
<rect x="454.39" y="364.69" width="10.36" height="9.98" fill="#a5d5a6"/>
<rect x="392.5" y="374.62" width="10.36" height="9.98" fill="#d3ead2"/>
<rect x="402.81" y="374.62" width="10.36" height="9.98" fill="#a5d5a6"/>
<rect x="413.13" y="374.62" width="10.36" height="9.98" fill="#1b9046"/>
<rect x="423.44" y="374.62" width="10.36" height="9.98" fill="#1b9046"/>
<rect x="433.76" y="374.62" width="10.36" height="9.98" fill="#64b577"/>
<rect x="444.07" y="374.62" width="10.36" height="9.98" fill="#075c2d"/>
<rect x="454.39" y="374.62" width="10.36" height="9.98" fill="#85c68c"/>
<rect x="392.5" y="384.55" width="10.36" height="9.98" fill="#64b577"/>
<rect x="402.81" y="384.55" width="10.36" height="9.98" fill="#64b577"/>
<rect x="413.13" y="384.55" width="10.36" height="9.98" fill="#85c68c"/>
<rect x="423.44" y="384.55" width="10.36" height="9.98" fill="#85c68c"/>
<rect x="433.76" y="384.55" width="10.36" height="9.98" fill="#64b577"/>
<rect x="444.07" y="384.55" width="10.36" height="9.98" fill="#a5d5a6"/>
<rect x="454.39" y="384.55" width="10.36" height="9.98" fill="#85c68c"/>
<rect x="392.5" y="394.47" width="10.36" height="9.98" fill="#64b577"/>
<rect x="402.81" y="394.47" width="10.36" height="9.98" fill="#64b577"/>
<rect x="413.13" y="394.47" width="10.36" height="9.98" fill="#a5d5a6"/>
<rect x="423.44" y="394.47" width="10.36" height="9.98" fill="#a5d5a6"/>
<rect x="433.76" y="394.47" width="10.36" height="9.98" fill="#85c68c"/>
<rect x="444.07" y="394.47" width="10.36" height="9.98" fill="#a5d5a6"/>
<rect x="454.39" y="394.47" width="10.36" height="9.98" fill="#85c68c"/>
<line x1="392.5" y1="116.53" x2="464.7" y2="116.53" stroke="#fff" stroke-opacity="0.75" stroke-width="0.6"/>
<line x1="392.5" y1="126.45" x2="464.7" y2="126.45" stroke="#fff" stroke-opacity="0.75" stroke-width="0.6"/>
<line x1="392.5" y1="136.38" x2="464.7" y2="136.38" stroke="#fff" stroke-opacity="0.75" stroke-width="0.6"/>
<line x1="392.5" y1="146.31" x2="464.7" y2="146.31" stroke="#fff" stroke-opacity="0.75" stroke-width="0.6"/>
<line x1="392.5" y1="156.23" x2="464.7" y2="156.23" stroke="#fff" stroke-opacity="0.75" stroke-width="0.6"/>
<line x1="392.5" y1="166.16" x2="464.7" y2="166.16" stroke="#fff" stroke-opacity="0.75" stroke-width="0.6"/>
<line x1="392.5" y1="176.09" x2="464.7" y2="176.09" stroke="#fff" stroke-opacity="0.75" stroke-width="0.6"/>
<line x1="392.5" y1="186.01" x2="464.7" y2="186.01" stroke="#fff" stroke-opacity="0.75" stroke-width="0.6"/>
<line x1="392.5" y1="195.94" x2="464.7" y2="195.94" stroke="#fff" stroke-opacity="0.75" stroke-width="0.6"/>
<line x1="392.5" y1="205.87" x2="464.7" y2="205.87" stroke="#fff" stroke-opacity="0.75" stroke-width="0.6"/>
<line x1="392.5" y1="215.79" x2="464.7" y2="215.79" stroke="#fff" stroke-opacity="0.75" stroke-width="0.6"/>
<line x1="392.5" y1="225.72" x2="464.7" y2="225.72" stroke="#fff" stroke-opacity="0.75" stroke-width="0.6"/>
<line x1="392.5" y1="235.65" x2="464.7" y2="235.65" stroke="#fff" stroke-opacity="0.75" stroke-width="0.6"/>
<line x1="392.5" y1="245.57" x2="464.7" y2="245.57" stroke="#fff" stroke-opacity="0.75" stroke-width="0.6"/>
<line x1="392.5" y1="255.5" x2="464.7" y2="255.5" stroke="#fff" stroke-opacity="0.75" stroke-width="0.6"/>
<line x1="392.5" y1="265.43" x2="464.7" y2="265.43" stroke="#fff" stroke-opacity="0.75" stroke-width="0.6"/>
<line x1="392.5" y1="275.35" x2="464.7" y2="275.35" stroke="#fff" stroke-opacity="0.75" stroke-width="0.6"/>
<line x1="392.5" y1="285.28" x2="464.7" y2="285.28" stroke="#fff" stroke-opacity="0.75" stroke-width="0.6"/>
<line x1="392.5" y1="295.21" x2="464.7" y2="295.21" stroke="#fff" stroke-opacity="0.75" stroke-width="0.6"/>
<line x1="392.5" y1="305.13" x2="464.7" y2="305.13" stroke="#fff" stroke-opacity="0.75" stroke-width="0.6"/>
<line x1="392.5" y1="315.06" x2="464.7" y2="315.06" stroke="#fff" stroke-opacity="0.75" stroke-width="0.6"/>
<line x1="392.5" y1="324.99" x2="464.7" y2="324.99" stroke="#fff" stroke-opacity="0.75" stroke-width="0.6"/>
<line x1="392.5" y1="334.91" x2="464.7" y2="334.91" stroke="#fff" stroke-opacity="0.75" stroke-width="0.6"/>
<line x1="392.5" y1="344.84" x2="464.7" y2="344.84" stroke="#fff" stroke-opacity="0.75" stroke-width="0.6"/>
<line x1="392.5" y1="354.77" x2="464.7" y2="354.77" stroke="#fff" stroke-opacity="0.75" stroke-width="0.6"/>
<line x1="392.5" y1="364.69" x2="464.7" y2="364.69" stroke="#fff" stroke-opacity="0.75" stroke-width="0.6"/>
<line x1="392.5" y1="374.62" x2="464.7" y2="374.62" stroke="#fff" stroke-opacity="0.75" stroke-width="0.6"/>
<line x1="392.5" y1="384.55" x2="464.7" y2="384.55" stroke="#fff" stroke-opacity="0.75" stroke-width="0.6"/>
<line x1="392.5" y1="394.47" x2="464.7" y2="394.47" stroke="#fff" stroke-opacity="0.75" stroke-width="0.6"/>
<line x1="402.81" y1="106.6" x2="402.81" y2="404.4" stroke="#fff" stroke-opacity="0.75" stroke-width="0.6"/>
<line x1="413.13" y1="106.6" x2="413.13" y2="404.4" stroke="#fff" stroke-opacity="0.75" stroke-width="0.6"/>
<line x1="423.44" y1="106.6" x2="423.44" y2="404.4" stroke="#fff" stroke-opacity="0.75" stroke-width="0.6"/>
<line x1="433.76" y1="106.6" x2="433.76" y2="404.4" stroke="#fff" stroke-opacity="0.75" stroke-width="0.6"/>
<line x1="444.07" y1="106.6" x2="444.07" y2="404.4" stroke="#fff" stroke-opacity="0.75" stroke-width="0.6"/>
<line x1="454.39" y1="106.6" x2="454.39" y2="404.4" stroke="#fff" stroke-opacity="0.75" stroke-width="0.6"/>
<rect x="392.5" y="106.6" width="72.2" height="297.8" fill="none" stroke="#3a3a3a" stroke-opacity="0.62" stroke-width="0.75"/>
</g>
<g shape-rendering="auto">
<rect x="475.3" y="106.6" width="10.39" height="9.98" fill="#b8421f"/>
<rect x="485.64" y="106.6" width="10.39" height="9.98" fill="#fdb06e"/>
<rect x="495.99" y="106.6" width="10.39" height="9.98" fill="#fb9a45"/>
<rect x="506.33" y="106.6" width="10.39" height="9.98" fill="#fdc590"/>
<rect x="516.67" y="106.6" width="10.39" height="9.98" fill="#fee6ce"/>
<rect x="527.01" y="106.6" width="10.39" height="9.98" fill="#fdc590"/>
<rect x="537.36" y="106.6" width="10.39" height="9.98" fill="#f48420"/>
<rect x="475.3" y="116.53" width="10.39" height="9.98" fill="#f48420"/>
<rect x="485.64" y="116.53" width="10.39" height="9.98" fill="#fb9a45"/>
<rect x="495.99" y="116.53" width="10.39" height="9.98" fill="#fb9a45"/>
<rect x="506.33" y="116.53" width="10.39" height="9.98" fill="#fb9a45"/>
<rect x="516.67" y="116.53" width="10.39" height="9.98" fill="#e86825"/>
<rect x="527.01" y="116.53" width="10.39" height="9.98" fill="#fdb06e"/>
<rect x="537.36" y="116.53" width="10.39" height="9.98" fill="#fb9a45"/>
<rect x="475.3" y="126.45" width="10.39" height="9.98" fill="#7c2a18"/>
<rect x="485.64" y="126.45" width="10.39" height="9.98" fill="#fdd9b5"/>
<rect x="495.99" y="126.45" width="10.39" height="9.98" fill="#fdc590"/>
<rect x="506.33" y="126.45" width="10.39" height="9.98" fill="#fff5eb"/>
<rect x="516.67" y="126.45" width="10.39" height="9.98" fill="#fdb06e"/>
<rect x="527.01" y="126.45" width="10.39" height="9.98" fill="#fdc590"/>
<rect x="537.36" y="126.45" width="10.39" height="9.98" fill="#e86825"/>
<rect x="475.3" y="136.38" width="10.39" height="9.98" fill="#fdb06e"/>
<rect x="485.64" y="136.38" width="10.39" height="9.98" fill="#fdc590"/>
<rect x="495.99" y="136.38" width="10.39" height="9.98" fill="#fb9a45"/>
<rect x="506.33" y="136.38" width="10.39" height="9.98" fill="#fdc590"/>
<rect x="516.67" y="136.38" width="10.39" height="9.98" fill="#fb9a45"/>
<rect x="527.01" y="136.38" width="10.39" height="9.98" fill="#fdc590"/>
<rect x="537.36" y="136.38" width="10.39" height="9.98" fill="#fb9a45"/>
<rect x="475.3" y="146.31" width="10.39" height="9.98" fill="#d65329"/>
<rect x="485.64" y="146.31" width="10.39" height="9.98" fill="#fb9a45"/>
<rect x="495.99" y="146.31" width="10.39" height="9.98" fill="#f48420"/>
<rect x="506.33" y="146.31" width="10.39" height="9.98" fill="#fdc590"/>
<rect x="516.67" y="146.31" width="10.39" height="9.98" fill="#f48420"/>
<rect x="527.01" y="146.31" width="10.39" height="9.98" fill="#fdb06e"/>
<rect x="537.36" y="146.31" width="10.39" height="9.98" fill="#f48420"/>
<rect x="475.3" y="156.23" width="10.39" height="9.98" fill="#fb9a45"/>
<rect x="485.64" y="156.23" width="10.39" height="9.98" fill="#d65329"/>
<rect x="495.99" y="156.23" width="10.39" height="9.98" fill="#e86825"/>
<rect x="506.33" y="156.23" width="10.39" height="9.98" fill="#e86825"/>
<rect x="516.67" y="156.23" width="10.39" height="9.98" fill="#fb9a45"/>
<rect x="527.01" y="156.23" width="10.39" height="9.98" fill="#e86825"/>
<rect x="537.36" y="156.23" width="10.39" height="9.98" fill="#fee6ce"/>
<rect x="475.3" y="166.16" width="10.39" height="9.98" fill="#fdb06e"/>
<rect x="485.64" y="166.16" width="10.39" height="9.98" fill="#fb9a45"/>
<rect x="495.99" y="166.16" width="10.39" height="9.98" fill="#fb9a45"/>
<rect x="506.33" y="166.16" width="10.39" height="9.98" fill="#f48420"/>
<rect x="516.67" y="166.16" width="10.39" height="9.98" fill="#fdb06e"/>
<rect x="527.01" y="166.16" width="10.39" height="9.98" fill="#fdb06e"/>
<rect x="537.36" y="166.16" width="10.39" height="9.98" fill="#e86825"/>
<rect x="475.3" y="176.09" width="10.39" height="9.98" fill="#fb9a45"/>
<rect x="485.64" y="176.09" width="10.39" height="9.98" fill="#f48420"/>
<rect x="495.99" y="176.09" width="10.39" height="9.98" fill="#fb9a45"/>
<rect x="506.33" y="176.09" width="10.39" height="9.98" fill="#fb9a45"/>
<rect x="516.67" y="176.09" width="10.39" height="9.98" fill="#fdb06e"/>
<rect x="527.01" y="176.09" width="10.39" height="9.98" fill="#fdb06e"/>
<rect x="537.36" y="176.09" width="10.39" height="9.98" fill="#fb9a45"/>
<rect x="475.3" y="186.01" width="10.39" height="9.98" fill="#e86825"/>
<rect x="485.64" y="186.01" width="10.39" height="9.98" fill="#f48420"/>
<rect x="495.99" y="186.01" width="10.39" height="9.98" fill="#fdb06e"/>
<rect x="506.33" y="186.01" width="10.39" height="9.98" fill="#fdb06e"/>
<rect x="516.67" y="186.01" width="10.39" height="9.98" fill="#fdb06e"/>
<rect x="527.01" y="186.01" width="10.39" height="9.98" fill="#fdb06e"/>
<rect x="537.36" y="186.01" width="10.39" height="9.98" fill="#f48420"/>
<rect x="475.3" y="195.94" width="10.39" height="9.98" fill="#fdb06e"/>
<rect x="485.64" y="195.94" width="10.39" height="9.98" fill="#fdb06e"/>
<rect x="495.99" y="195.94" width="10.39" height="9.98" fill="#fb9a45"/>
<rect x="506.33" y="195.94" width="10.39" height="9.98" fill="#e86825"/>
<rect x="516.67" y="195.94" width="10.39" height="9.98" fill="#fdb06e"/>
<rect x="527.01" y="195.94" width="10.39" height="9.98" fill="#fb9a45"/>
<rect x="537.36" y="195.94" width="10.39" height="9.98" fill="#fb9a45"/>
<rect x="475.3" y="205.87" width="10.39" height="9.98" fill="#f48420"/>
<rect x="485.64" y="205.87" width="10.39" height="9.98" fill="#fb9a45"/>
<rect x="495.99" y="205.87" width="10.39" height="9.98" fill="#fdb06e"/>
<rect x="506.33" y="205.87" width="10.39" height="9.98" fill="#fdc590"/>
<rect x="516.67" y="205.87" width="10.39" height="9.98" fill="#fdb06e"/>
<rect x="527.01" y="205.87" width="10.39" height="9.98" fill="#fdc590"/>
<rect x="537.36" y="205.87" width="10.39" height="9.98" fill="#f48420"/>
<rect x="475.3" y="215.79" width="10.39" height="9.98" fill="#fdb06e"/>
<rect x="485.64" y="215.79" width="10.39" height="9.98" fill="#d65329"/>
<rect x="495.99" y="215.79" width="10.39" height="9.98" fill="#fb9a45"/>
<rect x="506.33" y="215.79" width="10.39" height="9.98" fill="#f48420"/>
<rect x="516.67" y="215.79" width="10.39" height="9.98" fill="#fdc590"/>
<rect x="527.01" y="215.79" width="10.39" height="9.98" fill="#f48420"/>
<rect x="537.36" y="215.79" width="10.39" height="9.98" fill="#f48420"/>
<rect x="475.3" y="225.72" width="10.39" height="9.98" fill="#fee6ce"/>
<rect x="485.64" y="225.72" width="10.39" height="9.98" fill="#e86825"/>
<rect x="495.99" y="225.72" width="10.39" height="9.98" fill="#fdb06e"/>
<rect x="506.33" y="225.72" width="10.39" height="9.98" fill="#d65329"/>
<rect x="516.67" y="225.72" width="10.39" height="9.98" fill="#fb9a45"/>
<rect x="527.01" y="225.72" width="10.39" height="9.98" fill="#f48420"/>
<rect x="537.36" y="225.72" width="10.39" height="9.98" fill="#f48420"/>
<rect x="475.3" y="235.65" width="10.39" height="9.98" fill="#fdd9b5"/>
<rect x="485.64" y="235.65" width="10.39" height="9.98" fill="#fdb06e"/>
<rect x="495.99" y="235.65" width="10.39" height="9.98" fill="#fdb06e"/>
<rect x="506.33" y="235.65" width="10.39" height="9.98" fill="#f48420"/>
<rect x="516.67" y="235.65" width="10.39" height="9.98" fill="#f48420"/>
<rect x="527.01" y="235.65" width="10.39" height="9.98" fill="#e86825"/>
<rect x="537.36" y="235.65" width="10.39" height="9.98" fill="#e86825"/>
<rect x="475.3" y="245.57" width="10.39" height="9.98" fill="#fdc590"/>
<rect x="485.64" y="245.57" width="10.39" height="9.98" fill="#f48420"/>
<rect x="495.99" y="245.57" width="10.39" height="9.98" fill="#fb9a45"/>
<rect x="506.33" y="245.57" width="10.39" height="9.98" fill="#fdc590"/>
<rect x="516.67" y="245.57" width="10.39" height="9.98" fill="#fdc590"/>
<rect x="527.01" y="245.57" width="10.39" height="9.98" fill="#f48420"/>
<rect x="537.36" y="245.57" width="10.39" height="9.98" fill="#f48420"/>
<rect x="475.3" y="255.5" width="10.39" height="9.98" fill="#e86825"/>
<rect x="485.64" y="255.5" width="10.39" height="9.98" fill="#f48420"/>
<rect x="495.99" y="255.5" width="10.39" height="9.98" fill="#fdb06e"/>
<rect x="506.33" y="255.5" width="10.39" height="9.98" fill="#fdc590"/>
<rect x="516.67" y="255.5" width="10.39" height="9.98" fill="#fdd9b5"/>
<rect x="527.01" y="255.5" width="10.39" height="9.98" fill="#fdc590"/>
<rect x="537.36" y="255.5" width="10.39" height="9.98" fill="#fb9a45"/>
<rect x="475.3" y="265.43" width="10.39" height="9.98" fill="#fb9a45"/>
<rect x="485.64" y="265.43" width="10.39" height="9.98" fill="#f48420"/>
<rect x="495.99" y="265.43" width="10.39" height="9.98" fill="#f48420"/>
<rect x="506.33" y="265.43" width="10.39" height="9.98" fill="#f48420"/>
<rect x="516.67" y="265.43" width="10.39" height="9.98" fill="#fdc590"/>
<rect x="527.01" y="265.43" width="10.39" height="9.98" fill="#f48420"/>
<rect x="537.36" y="265.43" width="10.39" height="9.98" fill="#f48420"/>
<rect x="475.3" y="275.35" width="10.39" height="9.98" fill="#fdb06e"/>
<rect x="485.64" y="275.35" width="10.39" height="9.98" fill="#f48420"/>
<rect x="495.99" y="275.35" width="10.39" height="9.98" fill="#f48420"/>
<rect x="506.33" y="275.35" width="10.39" height="9.98" fill="#e86825"/>
<rect x="516.67" y="275.35" width="10.39" height="9.98" fill="#fb9a45"/>
<rect x="527.01" y="275.35" width="10.39" height="9.98" fill="#e86825"/>
<rect x="537.36" y="275.35" width="10.39" height="9.98" fill="#e86825"/>
<rect x="475.3" y="285.28" width="10.39" height="9.98" fill="#f48420"/>
<rect x="485.64" y="285.28" width="10.39" height="9.98" fill="#fdc590"/>
<rect x="495.99" y="285.28" width="10.39" height="9.98" fill="#fdc590"/>
<rect x="506.33" y="285.28" width="10.39" height="9.98" fill="#fdb06e"/>
<rect x="516.67" y="285.28" width="10.39" height="9.98" fill="#d65329"/>
<rect x="527.01" y="285.28" width="10.39" height="9.98" fill="#fb9a45"/>
<rect x="537.36" y="285.28" width="10.39" height="9.98" fill="#f48420"/>
<rect x="475.3" y="295.21" width="10.39" height="9.98" fill="#f48420"/>
<rect x="485.64" y="295.21" width="10.39" height="9.98" fill="#f48420"/>
<rect x="495.99" y="295.21" width="10.39" height="9.98" fill="#fb9a45"/>
<rect x="506.33" y="295.21" width="10.39" height="9.98" fill="#f48420"/>
<rect x="516.67" y="295.21" width="10.39" height="9.98" fill="#7c2a18"/>
<rect x="527.01" y="295.21" width="10.39" height="9.98" fill="#f48420"/>
<rect x="537.36" y="295.21" width="10.39" height="9.98" fill="#fdb06e"/>
<rect x="475.3" y="305.13" width="10.39" height="9.98" fill="#e86825"/>
<rect x="485.64" y="305.13" width="10.39" height="9.98" fill="#f48420"/>
<rect x="495.99" y="305.13" width="10.39" height="9.98" fill="#f48420"/>
<rect x="506.33" y="305.13" width="10.39" height="9.98" fill="#f48420"/>
<rect x="516.67" y="305.13" width="10.39" height="9.98" fill="#f48420"/>
<rect x="527.01" y="305.13" width="10.39" height="9.98" fill="#f48420"/>
<rect x="537.36" y="305.13" width="10.39" height="9.98" fill="#f48420"/>
<rect x="475.3" y="315.06" width="10.39" height="9.98" fill="#fdb06e"/>
<rect x="485.64" y="315.06" width="10.39" height="9.98" fill="#fdd9b5"/>
<rect x="495.99" y="315.06" width="10.39" height="9.98" fill="#fdb06e"/>
<rect x="506.33" y="315.06" width="10.39" height="9.98" fill="#f48420"/>
<rect x="516.67" y="315.06" width="10.39" height="9.98" fill="#f48420"/>
<rect x="527.01" y="315.06" width="10.39" height="9.98" fill="#f48420"/>
<rect x="537.36" y="315.06" width="10.39" height="9.98" fill="#f48420"/>
<rect x="475.3" y="324.99" width="10.39" height="9.98" fill="#fb9a45"/>
<rect x="485.64" y="324.99" width="10.39" height="9.98" fill="#fb9a45"/>
<rect x="495.99" y="324.99" width="10.39" height="9.98" fill="#d65329"/>
<rect x="506.33" y="324.99" width="10.39" height="9.98" fill="#f48420"/>
<rect x="516.67" y="324.99" width="10.39" height="9.98" fill="#f48420"/>
<rect x="527.01" y="324.99" width="10.39" height="9.98" fill="#f48420"/>
<rect x="537.36" y="324.99" width="10.39" height="9.98" fill="#f48420"/>
<rect x="475.3" y="334.91" width="10.39" height="9.98" fill="#f48420"/>
<rect x="485.64" y="334.91" width="10.39" height="9.98" fill="#b8421f"/>
<rect x="495.99" y="334.91" width="10.39" height="9.98" fill="#7c2a18"/>
<rect x="506.33" y="334.91" width="10.39" height="9.98" fill="#b8421f"/>
<rect x="516.67" y="334.91" width="10.39" height="9.98" fill="#f48420"/>
<rect x="527.01" y="334.91" width="10.39" height="9.98" fill="#f48420"/>
<rect x="537.36" y="334.91" width="10.39" height="9.98" fill="#fff5eb"/>
<rect x="475.3" y="344.84" width="10.39" height="9.98" fill="#fee6ce"/>
<rect x="485.64" y="344.84" width="10.39" height="9.98" fill="#e86825"/>
<rect x="495.99" y="344.84" width="10.39" height="9.98" fill="#fb9a45"/>
<rect x="506.33" y="344.84" width="10.39" height="9.98" fill="#e86825"/>
<rect x="516.67" y="344.84" width="10.39" height="9.98" fill="#fb9a45"/>
<rect x="527.01" y="344.84" width="10.39" height="9.98" fill="#e86825"/>
<rect x="537.36" y="344.84" width="10.39" height="9.98" fill="#fb9a45"/>
<rect x="475.3" y="354.77" width="10.39" height="9.98" fill="#fdb06e"/>
<rect x="485.64" y="354.77" width="10.39" height="9.98" fill="#fdc590"/>
<rect x="495.99" y="354.77" width="10.39" height="9.98" fill="#fdb06e"/>
<rect x="506.33" y="354.77" width="10.39" height="9.98" fill="#fdb06e"/>
<rect x="516.67" y="354.77" width="10.39" height="9.98" fill="#f48420"/>
<rect x="527.01" y="354.77" width="10.39" height="9.98" fill="#f48420"/>
<rect x="537.36" y="354.77" width="10.39" height="9.98" fill="#fb9a45"/>
<rect x="475.3" y="364.69" width="10.39" height="9.98" fill="#d65329"/>
<rect x="485.64" y="364.69" width="10.39" height="9.98" fill="#fdb06e"/>
<rect x="495.99" y="364.69" width="10.39" height="9.98" fill="#f48420"/>
<rect x="506.33" y="364.69" width="10.39" height="9.98" fill="#fdc590"/>
<rect x="516.67" y="364.69" width="10.39" height="9.98" fill="#fdb06e"/>
<rect x="527.01" y="364.69" width="10.39" height="9.98" fill="#f48420"/>
<rect x="537.36" y="364.69" width="10.39" height="9.98" fill="#f48420"/>
<rect x="475.3" y="374.62" width="10.39" height="9.98" fill="#fdb06e"/>
<rect x="485.64" y="374.62" width="10.39" height="9.98" fill="#fb9a45"/>
<rect x="495.99" y="374.62" width="10.39" height="9.98" fill="#f48420"/>
<rect x="506.33" y="374.62" width="10.39" height="9.98" fill="#f48420"/>
<rect x="516.67" y="374.62" width="10.39" height="9.98" fill="#e86825"/>
<rect x="527.01" y="374.62" width="10.39" height="9.98" fill="#fb9a45"/>
<rect x="537.36" y="374.62" width="10.39" height="9.98" fill="#f48420"/>
<rect x="475.3" y="384.55" width="10.39" height="9.98" fill="#fdd9b5"/>
<rect x="485.64" y="384.55" width="10.39" height="9.98" fill="#fb9a45"/>
<rect x="495.99" y="384.55" width="10.39" height="9.98" fill="#fb9a45"/>
<rect x="506.33" y="384.55" width="10.39" height="9.98" fill="#f48420"/>
<rect x="516.67" y="384.55" width="10.39" height="9.98" fill="#f48420"/>
<rect x="527.01" y="384.55" width="10.39" height="9.98" fill="#e86825"/>
<rect x="537.36" y="384.55" width="10.39" height="9.98" fill="#fdc590"/>
<rect x="475.3" y="394.47" width="10.39" height="9.98" fill="#fb9a45"/>
<rect x="485.64" y="394.47" width="10.39" height="9.98" fill="#fb9a45"/>
<rect x="495.99" y="394.47" width="10.39" height="9.98" fill="#fdb06e"/>
<rect x="506.33" y="394.47" width="10.39" height="9.98" fill="#fb9a45"/>
<rect x="516.67" y="394.47" width="10.39" height="9.98" fill="#f48420"/>
<rect x="527.01" y="394.47" width="10.39" height="9.98" fill="#fb9a45"/>
<rect x="537.36" y="394.47" width="10.39" height="9.98" fill="#fdc590"/>
<line x1="475.3" y1="116.53" x2="547.7" y2="116.53" stroke="#fff" stroke-opacity="0.75" stroke-width="0.6"/>
<line x1="475.3" y1="126.45" x2="547.7" y2="126.45" stroke="#fff" stroke-opacity="0.75" stroke-width="0.6"/>
<line x1="475.3" y1="136.38" x2="547.7" y2="136.38" stroke="#fff" stroke-opacity="0.75" stroke-width="0.6"/>
<line x1="475.3" y1="146.31" x2="547.7" y2="146.31" stroke="#fff" stroke-opacity="0.75" stroke-width="0.6"/>
<line x1="475.3" y1="156.23" x2="547.7" y2="156.23" stroke="#fff" stroke-opacity="0.75" stroke-width="0.6"/>
<line x1="475.3" y1="166.16" x2="547.7" y2="166.16" stroke="#fff" stroke-opacity="0.75" stroke-width="0.6"/>
<line x1="475.3" y1="176.09" x2="547.7" y2="176.09" stroke="#fff" stroke-opacity="0.75" stroke-width="0.6"/>
<line x1="475.3" y1="186.01" x2="547.7" y2="186.01" stroke="#fff" stroke-opacity="0.75" stroke-width="0.6"/>
<line x1="475.3" y1="195.94" x2="547.7" y2="195.94" stroke="#fff" stroke-opacity="0.75" stroke-width="0.6"/>
<line x1="475.3" y1="205.87" x2="547.7" y2="205.87" stroke="#fff" stroke-opacity="0.75" stroke-width="0.6"/>
<line x1="475.3" y1="215.79" x2="547.7" y2="215.79" stroke="#fff" stroke-opacity="0.75" stroke-width="0.6"/>
<line x1="475.3" y1="225.72" x2="547.7" y2="225.72" stroke="#fff" stroke-opacity="0.75" stroke-width="0.6"/>
<line x1="475.3" y1="235.65" x2="547.7" y2="235.65" stroke="#fff" stroke-opacity="0.75" stroke-width="0.6"/>
<line x1="475.3" y1="245.57" x2="547.7" y2="245.57" stroke="#fff" stroke-opacity="0.75" stroke-width="0.6"/>
<line x1="475.3" y1="255.5" x2="547.7" y2="255.5" stroke="#fff" stroke-opacity="0.75" stroke-width="0.6"/>
<line x1="475.3" y1="265.43" x2="547.7" y2="265.43" stroke="#fff" stroke-opacity="0.75" stroke-width="0.6"/>
<line x1="475.3" y1="275.35" x2="547.7" y2="275.35" stroke="#fff" stroke-opacity="0.75" stroke-width="0.6"/>
<line x1="475.3" y1="285.28" x2="547.7" y2="285.28" stroke="#fff" stroke-opacity="0.75" stroke-width="0.6"/>
<line x1="475.3" y1="295.21" x2="547.7" y2="295.21" stroke="#fff" stroke-opacity="0.75" stroke-width="0.6"/>
<line x1="475.3" y1="305.13" x2="547.7" y2="305.13" stroke="#fff" stroke-opacity="0.75" stroke-width="0.6"/>
<line x1="475.3" y1="315.06" x2="547.7" y2="315.06" stroke="#fff" stroke-opacity="0.75" stroke-width="0.6"/>
<line x1="475.3" y1="324.99" x2="547.7" y2="324.99" stroke="#fff" stroke-opacity="0.75" stroke-width="0.6"/>
<line x1="475.3" y1="334.91" x2="547.7" y2="334.91" stroke="#fff" stroke-opacity="0.75" stroke-width="0.6"/>
<line x1="475.3" y1="344.84" x2="547.7" y2="344.84" stroke="#fff" stroke-opacity="0.75" stroke-width="0.6"/>
<line x1="475.3" y1="354.77" x2="547.7" y2="354.77" stroke="#fff" stroke-opacity="0.75" stroke-width="0.6"/>
<line x1="475.3" y1="364.69" x2="547.7" y2="364.69" stroke="#fff" stroke-opacity="0.75" stroke-width="0.6"/>
<line x1="475.3" y1="374.62" x2="547.7" y2="374.62" stroke="#fff" stroke-opacity="0.75" stroke-width="0.6"/>
<line x1="475.3" y1="384.55" x2="547.7" y2="384.55" stroke="#fff" stroke-opacity="0.75" stroke-width="0.6"/>
<line x1="475.3" y1="394.47" x2="547.7" y2="394.47" stroke="#fff" stroke-opacity="0.75" stroke-width="0.6"/>
<line x1="485.64" y1="106.6" x2="485.64" y2="404.4" stroke="#fff" stroke-opacity="0.75" stroke-width="0.6"/>
<line x1="495.99" y1="106.6" x2="495.99" y2="404.4" stroke="#fff" stroke-opacity="0.75" stroke-width="0.6"/>
<line x1="506.33" y1="106.6" x2="506.33" y2="404.4" stroke="#fff" stroke-opacity="0.75" stroke-width="0.6"/>
<line x1="516.67" y1="106.6" x2="516.67" y2="404.4" stroke="#fff" stroke-opacity="0.75" stroke-width="0.6"/>
<line x1="527.01" y1="106.6" x2="527.01" y2="404.4" stroke="#fff" stroke-opacity="0.75" stroke-width="0.6"/>
<line x1="537.36" y1="106.6" x2="537.36" y2="404.4" stroke="#fff" stroke-opacity="0.75" stroke-width="0.6"/>
<rect x="475.3" y="106.6" width="72.4" height="297.8" fill="none" stroke="#3a3a3a" stroke-opacity="0.62" stroke-width="0.75"/>
</g>
<g shape-rendering="auto">
<rect x="558.2" y="106.6" width="10.55" height="9.98" fill="#f37c8a"/>
<rect x="568.7" y="106.6" width="10.55" height="9.98" fill="#fcd3d7"/>
<rect x="579.2" y="106.6" width="10.55" height="9.98" fill="#f9b9c0"/>
<rect x="589.7" y="106.6" width="10.55" height="9.98" fill="#f69ba6"/>
<rect x="600.2" y="106.6" width="10.55" height="9.98" fill="#f37c8a"/>
<rect x="610.7" y="106.6" width="10.55" height="9.98" fill="#f69ba6"/>
<rect x="621.2" y="106.6" width="10.55" height="9.98" fill="#f69ba6"/>
<rect x="631.7" y="106.6" width="10.55" height="9.98" fill="#f37c8a"/>
<rect x="642.2" y="106.6" width="10.55" height="9.98" fill="#f69ba6"/>
<rect x="652.7" y="106.6" width="10.55" height="9.98" fill="#f69ba6"/>
<rect x="663.2" y="106.6" width="10.55" height="9.98" fill="#f37c8a"/>
<rect x="673.7" y="106.6" width="10.55" height="9.98" fill="#ea3b4c"/>
<rect x="558.2" y="116.53" width="10.55" height="9.98" fill="#f69ba6"/>
<rect x="568.7" y="116.53" width="10.55" height="9.98" fill="#fde6e8"/>
<rect x="579.2" y="116.53" width="10.55" height="9.98" fill="#fde6e8"/>
<rect x="589.7" y="116.53" width="10.55" height="9.98" fill="#f69ba6"/>
<rect x="600.2" y="116.53" width="10.55" height="9.98" fill="#f37c8a"/>
<rect x="610.7" y="116.53" width="10.55" height="9.98" fill="#f37c8a"/>
<rect x="621.2" y="116.53" width="10.55" height="9.98" fill="#f9b9c0"/>
<rect x="631.7" y="116.53" width="10.55" height="9.98" fill="#f37c8a"/>
<rect x="642.2" y="116.53" width="10.55" height="9.98" fill="#f37c8a"/>
<rect x="652.7" y="116.53" width="10.55" height="9.98" fill="#f69ba6"/>
<rect x="663.2" y="116.53" width="10.55" height="9.98" fill="#ad1f2b"/>
<rect x="673.7" y="116.53" width="10.55" height="9.98" fill="#8a1a20"/>
<rect x="558.2" y="126.45" width="10.55" height="9.98" fill="#fcd3d7"/>
<rect x="568.7" y="126.45" width="10.55" height="9.98" fill="#fde6e8"/>
<rect x="579.2" y="126.45" width="10.55" height="9.98" fill="#f69ba6"/>
<rect x="589.7" y="126.45" width="10.55" height="9.98" fill="#f8f8f8"/>
<rect x="600.2" y="126.45" width="10.55" height="9.98" fill="#f8f8f8"/>
<rect x="610.7" y="126.45" width="10.55" height="9.98" fill="#fcd3d7"/>
<rect x="621.2" y="126.45" width="10.55" height="9.98" fill="#fde6e8"/>
<rect x="631.7" y="126.45" width="10.55" height="9.98" fill="#f8f8f8"/>
<rect x="642.2" y="126.45" width="10.55" height="9.98" fill="#f8f8f8"/>
<rect x="652.7" y="126.45" width="10.55" height="9.98" fill="#f8f8f8"/>
<rect x="663.2" y="126.45" width="10.55" height="9.98" fill="#ee5a68"/>
<rect x="673.7" y="126.45" width="10.55" height="9.98" fill="#d31f38"/>
<rect x="558.2" y="136.38" width="10.55" height="9.98" fill="#fcd3d7"/>
<rect x="568.7" y="136.38" width="10.55" height="9.98" fill="#fcd3d7"/>
<rect x="579.2" y="136.38" width="10.55" height="9.98" fill="#fcd3d7"/>
<rect x="589.7" y="136.38" width="10.55" height="9.98" fill="#f8f8f8"/>
<rect x="600.2" y="136.38" width="10.55" height="9.98" fill="#f69ba6"/>
<rect x="610.7" y="136.38" width="10.55" height="9.98" fill="#f69ba6"/>
<rect x="621.2" y="136.38" width="10.55" height="9.98" fill="#f69ba6"/>
<rect x="631.7" y="136.38" width="10.55" height="9.98" fill="#fcd3d7"/>
<rect x="642.2" y="136.38" width="10.55" height="9.98" fill="#f69ba6"/>
<rect x="652.7" y="136.38" width="10.55" height="9.98" fill="#f9b9c0"/>
<rect x="663.2" y="136.38" width="10.55" height="9.98" fill="#ee5a68"/>
<rect x="673.7" y="136.38" width="10.55" height="9.98" fill="#650d17"/>
<rect x="558.2" y="146.31" width="10.55" height="9.98" fill="#fcd3d7"/>
<rect x="568.7" y="146.31" width="10.55" height="9.98" fill="#f8f8f8"/>
<rect x="579.2" y="146.31" width="10.55" height="9.98" fill="#fcd3d7"/>
<rect x="589.7" y="146.31" width="10.55" height="9.98" fill="#fcd3d7"/>
<rect x="600.2" y="146.31" width="10.55" height="9.98" fill="#f9b9c0"/>
<rect x="610.7" y="146.31" width="10.55" height="9.98" fill="#fde6e8"/>
<rect x="621.2" y="146.31" width="10.55" height="9.98" fill="#fde6e8"/>
<rect x="631.7" y="146.31" width="10.55" height="9.98" fill="#f9b9c0"/>
<rect x="642.2" y="146.31" width="10.55" height="9.98" fill="#fcd3d7"/>
<rect x="652.7" y="146.31" width="10.55" height="9.98" fill="#fde6e8"/>
<rect x="663.2" y="146.31" width="10.55" height="9.98" fill="#ee5a68"/>
<rect x="673.7" y="146.31" width="10.55" height="9.98" fill="#650d17"/>
<rect x="558.2" y="156.23" width="10.55" height="9.98" fill="#f37c8a"/>
<rect x="568.7" y="156.23" width="10.55" height="9.98" fill="#fcd3d7"/>
<rect x="579.2" y="156.23" width="10.55" height="9.98" fill="#fcd3d7"/>
<rect x="589.7" y="156.23" width="10.55" height="9.98" fill="#f69ba6"/>
<rect x="600.2" y="156.23" width="10.55" height="9.98" fill="#f69ba6"/>
<rect x="610.7" y="156.23" width="10.55" height="9.98" fill="#fcd3d7"/>
<rect x="621.2" y="156.23" width="10.55" height="9.98" fill="#fcd3d7"/>
<rect x="631.7" y="156.23" width="10.55" height="9.98" fill="#f37c8a"/>
<rect x="642.2" y="156.23" width="10.55" height="9.98" fill="#fcd3d7"/>
<rect x="652.7" y="156.23" width="10.55" height="9.98" fill="#fde6e8"/>
<rect x="663.2" y="156.23" width="10.55" height="9.98" fill="#f37c8a"/>
<rect x="673.7" y="156.23" width="10.55" height="9.98" fill="#d31f38"/>
<rect x="558.2" y="166.16" width="10.55" height="9.98" fill="#f37c8a"/>
<rect x="568.7" y="166.16" width="10.55" height="9.98" fill="#f69ba6"/>
<rect x="579.2" y="166.16" width="10.55" height="9.98" fill="#f37c8a"/>
<rect x="589.7" y="166.16" width="10.55" height="9.98" fill="#f37c8a"/>
<rect x="600.2" y="166.16" width="10.55" height="9.98" fill="#f37c8a"/>
<rect x="610.7" y="166.16" width="10.55" height="9.98" fill="#d31f38"/>
<rect x="621.2" y="166.16" width="10.55" height="9.98" fill="#ee5a68"/>
<rect x="631.7" y="166.16" width="10.55" height="9.98" fill="#f9b9c0"/>
<rect x="642.2" y="166.16" width="10.55" height="9.98" fill="#f37c8a"/>
<rect x="652.7" y="166.16" width="10.55" height="9.98" fill="#f69ba6"/>
<rect x="663.2" y="166.16" width="10.55" height="9.98" fill="#ee5a68"/>
<rect x="673.7" y="166.16" width="10.55" height="9.98" fill="#f37c8a"/>
<rect x="558.2" y="176.09" width="10.55" height="9.98" fill="#f37c8a"/>
<rect x="568.7" y="176.09" width="10.55" height="9.98" fill="#ee5a68"/>
<rect x="579.2" y="176.09" width="10.55" height="9.98" fill="#d31f38"/>
<rect x="589.7" y="176.09" width="10.55" height="9.98" fill="#d31f38"/>
<rect x="600.2" y="176.09" width="10.55" height="9.98" fill="#ea3b4c"/>
<rect x="610.7" y="176.09" width="10.55" height="9.98" fill="#f9b9c0"/>
<rect x="621.2" y="176.09" width="10.55" height="9.98" fill="#f69ba6"/>
<rect x="631.7" y="176.09" width="10.55" height="9.98" fill="#d31f38"/>
<rect x="642.2" y="176.09" width="10.55" height="9.98" fill="#ee5a68"/>
<rect x="652.7" y="176.09" width="10.55" height="9.98" fill="#ee5a68"/>
<rect x="663.2" y="176.09" width="10.55" height="9.98" fill="#ee5a68"/>
<rect x="673.7" y="176.09" width="10.55" height="9.98" fill="#f69ba6"/>
<rect x="558.2" y="186.01" width="10.55" height="9.98" fill="#ea3b4c"/>
<rect x="568.7" y="186.01" width="10.55" height="9.98" fill="#ea3b4c"/>
<rect x="579.2" y="186.01" width="10.55" height="9.98" fill="#ea3b4c"/>
<rect x="589.7" y="186.01" width="10.55" height="9.98" fill="#d31f38"/>
<rect x="600.2" y="186.01" width="10.55" height="9.98" fill="#ea3b4c"/>
<rect x="610.7" y="186.01" width="10.55" height="9.98" fill="#f37c8a"/>
<rect x="621.2" y="186.01" width="10.55" height="9.98" fill="#ee5a68"/>
<rect x="631.7" y="186.01" width="10.55" height="9.98" fill="#d31f38"/>
<rect x="642.2" y="186.01" width="10.55" height="9.98" fill="#ea3b4c"/>
<rect x="652.7" y="186.01" width="10.55" height="9.98" fill="#d31f38"/>
<rect x="663.2" y="186.01" width="10.55" height="9.98" fill="#ee5a68"/>
<rect x="673.7" y="186.01" width="10.55" height="9.98" fill="#f69ba6"/>
<rect x="558.2" y="195.94" width="10.55" height="9.98" fill="#f9b9c0"/>
<rect x="568.7" y="195.94" width="10.55" height="9.98" fill="#f69ba6"/>
<rect x="579.2" y="195.94" width="10.55" height="9.98" fill="#ee5a68"/>
<rect x="589.7" y="195.94" width="10.55" height="9.98" fill="#ee5a68"/>
<rect x="600.2" y="195.94" width="10.55" height="9.98" fill="#f69ba6"/>
<rect x="610.7" y="195.94" width="10.55" height="9.98" fill="#f37c8a"/>
<rect x="621.2" y="195.94" width="10.55" height="9.98" fill="#f37c8a"/>
<rect x="631.7" y="195.94" width="10.55" height="9.98" fill="#f37c8a"/>
<rect x="642.2" y="195.94" width="10.55" height="9.98" fill="#f37c8a"/>
<rect x="652.7" y="195.94" width="10.55" height="9.98" fill="#f37c8a"/>
<rect x="663.2" y="195.94" width="10.55" height="9.98" fill="#ee5a68"/>
<rect x="673.7" y="195.94" width="10.55" height="9.98" fill="#ee5a68"/>
<rect x="558.2" y="205.87" width="10.55" height="9.98" fill="#f37c8a"/>
<rect x="568.7" y="205.87" width="10.55" height="9.98" fill="#ea3b4c"/>
<rect x="579.2" y="205.87" width="10.55" height="9.98" fill="#f37c8a"/>
<rect x="589.7" y="205.87" width="10.55" height="9.98" fill="#ea3b4c"/>
<rect x="600.2" y="205.87" width="10.55" height="9.98" fill="#f37c8a"/>
<rect x="610.7" y="205.87" width="10.55" height="9.98" fill="#ee5a68"/>
<rect x="621.2" y="205.87" width="10.55" height="9.98" fill="#ee5a68"/>
<rect x="631.7" y="205.87" width="10.55" height="9.98" fill="#ee5a68"/>
<rect x="642.2" y="205.87" width="10.55" height="9.98" fill="#d31f38"/>
<rect x="652.7" y="205.87" width="10.55" height="9.98" fill="#ea3b4c"/>
<rect x="663.2" y="205.87" width="10.55" height="9.98" fill="#f37c8a"/>
<rect x="673.7" y="205.87" width="10.55" height="9.98" fill="#f69ba6"/>
<rect x="558.2" y="215.79" width="10.55" height="9.98" fill="#ee5a68"/>
<rect x="568.7" y="215.79" width="10.55" height="9.98" fill="#ea3b4c"/>
<rect x="579.2" y="215.79" width="10.55" height="9.98" fill="#d31f38"/>
<rect x="589.7" y="215.79" width="10.55" height="9.98" fill="#ee5a68"/>
<rect x="600.2" y="215.79" width="10.55" height="9.98" fill="#f69ba6"/>
<rect x="610.7" y="215.79" width="10.55" height="9.98" fill="#fcd3d7"/>
<rect x="621.2" y="215.79" width="10.55" height="9.98" fill="#f9b9c0"/>
<rect x="631.7" y="215.79" width="10.55" height="9.98" fill="#ea3b4c"/>
<rect x="642.2" y="215.79" width="10.55" height="9.98" fill="#f69ba6"/>
<rect x="652.7" y="215.79" width="10.55" height="9.98" fill="#f37c8a"/>
<rect x="663.2" y="215.79" width="10.55" height="9.98" fill="#fcd3d7"/>
<rect x="673.7" y="215.79" width="10.55" height="9.98" fill="#f37c8a"/>
<rect x="558.2" y="225.72" width="10.55" height="9.98" fill="#8a1a20"/>
<rect x="568.7" y="225.72" width="10.55" height="9.98" fill="#650d17"/>
<rect x="579.2" y="225.72" width="10.55" height="9.98" fill="#8a1a20"/>
<rect x="589.7" y="225.72" width="10.55" height="9.98" fill="#d31f38"/>
<rect x="600.2" y="225.72" width="10.55" height="9.98" fill="#d31f38"/>
<rect x="610.7" y="225.72" width="10.55" height="9.98" fill="#d31f38"/>
<rect x="621.2" y="225.72" width="10.55" height="9.98" fill="#d31f38"/>
<rect x="631.7" y="225.72" width="10.55" height="9.98" fill="#d31f38"/>
<rect x="642.2" y="225.72" width="10.55" height="9.98" fill="#ea3b4c"/>
<rect x="652.7" y="225.72" width="10.55" height="9.98" fill="#d31f38"/>
<rect x="663.2" y="225.72" width="10.55" height="9.98" fill="#f69ba6"/>
<rect x="673.7" y="225.72" width="10.55" height="9.98" fill="#fde6e8"/>
<rect x="558.2" y="235.65" width="10.55" height="9.98" fill="#f69ba6"/>
<rect x="568.7" y="235.65" width="10.55" height="9.98" fill="#f37c8a"/>
<rect x="579.2" y="235.65" width="10.55" height="9.98" fill="#f69ba6"/>
<rect x="589.7" y="235.65" width="10.55" height="9.98" fill="#ee5a68"/>
<rect x="600.2" y="235.65" width="10.55" height="9.98" fill="#d31f38"/>
<rect x="610.7" y="235.65" width="10.55" height="9.98" fill="#d31f38"/>
<rect x="621.2" y="235.65" width="10.55" height="9.98" fill="#ad1f2b"/>
<rect x="631.7" y="235.65" width="10.55" height="9.98" fill="#f37c8a"/>
<rect x="642.2" y="235.65" width="10.55" height="9.98" fill="#d31f38"/>
<rect x="652.7" y="235.65" width="10.55" height="9.98" fill="#d31f38"/>
<rect x="663.2" y="235.65" width="10.55" height="9.98" fill="#ee5a68"/>
<rect x="673.7" y="235.65" width="10.55" height="9.98" fill="#d31f38"/>
<rect x="558.2" y="245.57" width="10.55" height="9.98" fill="#f9b9c0"/>
<rect x="568.7" y="245.57" width="10.55" height="9.98" fill="#ea3b4c"/>
<rect x="579.2" y="245.57" width="10.55" height="9.98" fill="#d31f38"/>
<rect x="589.7" y="245.57" width="10.55" height="9.98" fill="#ee5a68"/>
<rect x="600.2" y="245.57" width="10.55" height="9.98" fill="#f69ba6"/>
<rect x="610.7" y="245.57" width="10.55" height="9.98" fill="#f37c8a"/>
<rect x="621.2" y="245.57" width="10.55" height="9.98" fill="#f69ba6"/>
<rect x="631.7" y="245.57" width="10.55" height="9.98" fill="#ee5a68"/>
<rect x="642.2" y="245.57" width="10.55" height="9.98" fill="#f37c8a"/>
<rect x="652.7" y="245.57" width="10.55" height="9.98" fill="#f37c8a"/>
<rect x="663.2" y="245.57" width="10.55" height="9.98" fill="#fcd3d7"/>
<rect x="673.7" y="245.57" width="10.55" height="9.98" fill="#f37c8a"/>
<rect x="558.2" y="255.5" width="10.55" height="9.98" fill="#ee5a68"/>
<rect x="568.7" y="255.5" width="10.55" height="9.98" fill="#f37c8a"/>
<rect x="579.2" y="255.5" width="10.55" height="9.98" fill="#f37c8a"/>
<rect x="589.7" y="255.5" width="10.55" height="9.98" fill="#f37c8a"/>
<rect x="600.2" y="255.5" width="10.55" height="9.98" fill="#f37c8a"/>
<rect x="610.7" y="255.5" width="10.55" height="9.98" fill="#f9b9c0"/>
<rect x="621.2" y="255.5" width="10.55" height="9.98" fill="#ee5a68"/>
<rect x="631.7" y="255.5" width="10.55" height="9.98" fill="#ee5a68"/>
<rect x="642.2" y="255.5" width="10.55" height="9.98" fill="#f37c8a"/>
<rect x="652.7" y="255.5" width="10.55" height="9.98" fill="#f37c8a"/>
<rect x="663.2" y="255.5" width="10.55" height="9.98" fill="#d31f38"/>
<rect x="673.7" y="255.5" width="10.55" height="9.98" fill="#f37c8a"/>
<rect x="558.2" y="265.43" width="10.55" height="9.98" fill="#8a1a20"/>
<rect x="568.7" y="265.43" width="10.55" height="9.98" fill="#8a1a20"/>
<rect x="579.2" y="265.43" width="10.55" height="9.98" fill="#d31f38"/>
<rect x="589.7" y="265.43" width="10.55" height="9.98" fill="#650d17"/>
<rect x="600.2" y="265.43" width="10.55" height="9.98" fill="#d31f38"/>
<rect x="610.7" y="265.43" width="10.55" height="9.98" fill="#ad1f2b"/>
<rect x="621.2" y="265.43" width="10.55" height="9.98" fill="#8a1a20"/>
<rect x="631.7" y="265.43" width="10.55" height="9.98" fill="#ad1f2b"/>
<rect x="642.2" y="265.43" width="10.55" height="9.98" fill="#d31f38"/>
<rect x="652.7" y="265.43" width="10.55" height="9.98" fill="#ad1f2b"/>
<rect x="663.2" y="265.43" width="10.55" height="9.98" fill="#f37c8a"/>
<rect x="673.7" y="265.43" width="10.55" height="9.98" fill="#f8f8f8"/>
<rect x="558.2" y="275.35" width="10.55" height="9.98" fill="#650d17"/>
<rect x="568.7" y="275.35" width="10.55" height="9.98" fill="#650d17"/>
<rect x="579.2" y="275.35" width="10.55" height="9.98" fill="#ad1f2b"/>
<rect x="589.7" y="275.35" width="10.55" height="9.98" fill="#ad1f2b"/>
<rect x="600.2" y="275.35" width="10.55" height="9.98" fill="#d31f38"/>
<rect x="610.7" y="275.35" width="10.55" height="9.98" fill="#ad1f2b"/>
<rect x="621.2" y="275.35" width="10.55" height="9.98" fill="#d31f38"/>
<rect x="631.7" y="275.35" width="10.55" height="9.98" fill="#ad1f2b"/>
<rect x="642.2" y="275.35" width="10.55" height="9.98" fill="#d31f38"/>
<rect x="652.7" y="275.35" width="10.55" height="9.98" fill="#d31f38"/>
<rect x="663.2" y="275.35" width="10.55" height="9.98" fill="#f37c8a"/>
<rect x="673.7" y="275.35" width="10.55" height="9.98" fill="#f8f8f8"/>
<rect x="558.2" y="285.28" width="10.55" height="9.98" fill="#f37c8a"/>
<rect x="568.7" y="285.28" width="10.55" height="9.98" fill="#f37c8a"/>
<rect x="579.2" y="285.28" width="10.55" height="9.98" fill="#f9b9c0"/>
<rect x="589.7" y="285.28" width="10.55" height="9.98" fill="#ee5a68"/>
<rect x="600.2" y="285.28" width="10.55" height="9.98" fill="#ad1f2b"/>
<rect x="610.7" y="285.28" width="10.55" height="9.98" fill="#d31f38"/>
<rect x="621.2" y="285.28" width="10.55" height="9.98" fill="#d31f38"/>
<rect x="631.7" y="285.28" width="10.55" height="9.98" fill="#f37c8a"/>
<rect x="642.2" y="285.28" width="10.55" height="9.98" fill="#650d17"/>
<rect x="652.7" y="285.28" width="10.55" height="9.98" fill="#ad1f2b"/>
<rect x="663.2" y="285.28" width="10.55" height="9.98" fill="#ea3b4c"/>
<rect x="673.7" y="285.28" width="10.55" height="9.98" fill="#ad1f2b"/>
<rect x="558.2" y="295.21" width="10.55" height="9.98" fill="#d31f38"/>
<rect x="568.7" y="295.21" width="10.55" height="9.98" fill="#d31f38"/>
<rect x="579.2" y="295.21" width="10.55" height="9.98" fill="#ea3b4c"/>
<rect x="589.7" y="295.21" width="10.55" height="9.98" fill="#d31f38"/>
<rect x="600.2" y="295.21" width="10.55" height="9.98" fill="#ad1f2b"/>
<rect x="610.7" y="295.21" width="10.55" height="9.98" fill="#f37c8a"/>
<rect x="621.2" y="295.21" width="10.55" height="9.98" fill="#d31f38"/>
<rect x="631.7" y="295.21" width="10.55" height="9.98" fill="#8a1a20"/>
<rect x="642.2" y="295.21" width="10.55" height="9.98" fill="#d31f38"/>
<rect x="652.7" y="295.21" width="10.55" height="9.98" fill="#d31f38"/>
<rect x="663.2" y="295.21" width="10.55" height="9.98" fill="#ee5a68"/>
<rect x="673.7" y="295.21" width="10.55" height="9.98" fill="#f37c8a"/>
<rect x="558.2" y="305.13" width="10.55" height="9.98" fill="#ee5a68"/>
<rect x="568.7" y="305.13" width="10.55" height="9.98" fill="#d31f38"/>
<rect x="579.2" y="305.13" width="10.55" height="9.98" fill="#d31f38"/>
<rect x="589.7" y="305.13" width="10.55" height="9.98" fill="#d31f38"/>
<rect x="600.2" y="305.13" width="10.55" height="9.98" fill="#ea3b4c"/>
<rect x="610.7" y="305.13" width="10.55" height="9.98" fill="#ee5a68"/>
<rect x="621.2" y="305.13" width="10.55" height="9.98" fill="#f37c8a"/>
<rect x="631.7" y="305.13" width="10.55" height="9.98" fill="#ea3b4c"/>
<rect x="642.2" y="305.13" width="10.55" height="9.98" fill="#d31f38"/>
<rect x="652.7" y="305.13" width="10.55" height="9.98" fill="#d31f38"/>
<rect x="663.2" y="305.13" width="10.55" height="9.98" fill="#f37c8a"/>
<rect x="673.7" y="305.13" width="10.55" height="9.98" fill="#f69ba6"/>
<rect x="558.2" y="315.06" width="10.55" height="9.98" fill="#f9b9c0"/>
<rect x="568.7" y="315.06" width="10.55" height="9.98" fill="#f69ba6"/>
<rect x="579.2" y="315.06" width="10.55" height="9.98" fill="#f9b9c0"/>
<rect x="589.7" y="315.06" width="10.55" height="9.98" fill="#f69ba6"/>
<rect x="600.2" y="315.06" width="10.55" height="9.98" fill="#ea3b4c"/>
<rect x="610.7" y="315.06" width="10.55" height="9.98" fill="#ad1f2b"/>
<rect x="621.2" y="315.06" width="10.55" height="9.98" fill="#f37c8a"/>
<rect x="631.7" y="315.06" width="10.55" height="9.98" fill="#f69ba6"/>
<rect x="642.2" y="315.06" width="10.55" height="9.98" fill="#ad1f2b"/>
<rect x="652.7" y="315.06" width="10.55" height="9.98" fill="#ea3b4c"/>
<rect x="663.2" y="315.06" width="10.55" height="9.98" fill="#f37c8a"/>
<rect x="673.7" y="315.06" width="10.55" height="9.98" fill="#8a1a20"/>
<rect x="558.2" y="324.99" width="10.55" height="9.98" fill="#f69ba6"/>
<rect x="568.7" y="324.99" width="10.55" height="9.98" fill="#ea3b4c"/>
<rect x="579.2" y="324.99" width="10.55" height="9.98" fill="#ea3b4c"/>
<rect x="589.7" y="324.99" width="10.55" height="9.98" fill="#ad1f2b"/>
<rect x="600.2" y="324.99" width="10.55" height="9.98" fill="#ad1f2b"/>
<rect x="610.7" y="324.99" width="10.55" height="9.98" fill="#ee5a68"/>
<rect x="621.2" y="324.99" width="10.55" height="9.98" fill="#ee5a68"/>
<rect x="631.7" y="324.99" width="10.55" height="9.98" fill="#d31f38"/>
<rect x="642.2" y="324.99" width="10.55" height="9.98" fill="#ad1f2b"/>
<rect x="652.7" y="324.99" width="10.55" height="9.98" fill="#ad1f2b"/>
<rect x="663.2" y="324.99" width="10.55" height="9.98" fill="#f9b9c0"/>
<rect x="673.7" y="324.99" width="10.55" height="9.98" fill="#ee5a68"/>
<rect x="558.2" y="334.91" width="10.55" height="9.98" fill="#f37c8a"/>
<rect x="568.7" y="334.91" width="10.55" height="9.98" fill="#ea3b4c"/>
<rect x="579.2" y="334.91" width="10.55" height="9.98" fill="#ad1f2b"/>
<rect x="589.7" y="334.91" width="10.55" height="9.98" fill="#ad1f2b"/>
<rect x="600.2" y="334.91" width="10.55" height="9.98" fill="#f37c8a"/>
<rect x="610.7" y="334.91" width="10.55" height="9.98" fill="#f9b9c0"/>
<rect x="621.2" y="334.91" width="10.55" height="9.98" fill="#f9b9c0"/>
<rect x="631.7" y="334.91" width="10.55" height="9.98" fill="#d31f38"/>
<rect x="642.2" y="334.91" width="10.55" height="9.98" fill="#f69ba6"/>
<rect x="652.7" y="334.91" width="10.55" height="9.98" fill="#f37c8a"/>
<rect x="663.2" y="334.91" width="10.55" height="9.98" fill="#f9b9c0"/>
<rect x="673.7" y="334.91" width="10.55" height="9.98" fill="#f69ba6"/>
<rect x="558.2" y="344.84" width="10.55" height="9.98" fill="#d31f38"/>
<rect x="568.7" y="344.84" width="10.55" height="9.98" fill="#ad1f2b"/>
<rect x="579.2" y="344.84" width="10.55" height="9.98" fill="#ea3b4c"/>
<rect x="589.7" y="344.84" width="10.55" height="9.98" fill="#ea3b4c"/>
<rect x="600.2" y="344.84" width="10.55" height="9.98" fill="#d31f38"/>
<rect x="610.7" y="344.84" width="10.55" height="9.98" fill="#ea3b4c"/>
<rect x="621.2" y="344.84" width="10.55" height="9.98" fill="#ea3b4c"/>
<rect x="631.7" y="344.84" width="10.55" height="9.98" fill="#d31f38"/>
<rect x="642.2" y="344.84" width="10.55" height="9.98" fill="#d31f38"/>
<rect x="652.7" y="344.84" width="10.55" height="9.98" fill="#d31f38"/>
<rect x="663.2" y="344.84" width="10.55" height="9.98" fill="#fcd3d7"/>
<rect x="673.7" y="344.84" width="10.55" height="9.98" fill="#f37c8a"/>
<rect x="558.2" y="354.77" width="10.55" height="9.98" fill="#ee5a68"/>
<rect x="568.7" y="354.77" width="10.55" height="9.98" fill="#f69ba6"/>
<rect x="579.2" y="354.77" width="10.55" height="9.98" fill="#f37c8a"/>
<rect x="589.7" y="354.77" width="10.55" height="9.98" fill="#f37c8a"/>
<rect x="600.2" y="354.77" width="10.55" height="9.98" fill="#ee5a68"/>
<rect x="610.7" y="354.77" width="10.55" height="9.98" fill="#f37c8a"/>
<rect x="621.2" y="354.77" width="10.55" height="9.98" fill="#f69ba6"/>
<rect x="631.7" y="354.77" width="10.55" height="9.98" fill="#ee5a68"/>
<rect x="642.2" y="354.77" width="10.55" height="9.98" fill="#f37c8a"/>
<rect x="652.7" y="354.77" width="10.55" height="9.98" fill="#f69ba6"/>
<rect x="663.2" y="354.77" width="10.55" height="9.98" fill="#ea3b4c"/>
<rect x="673.7" y="354.77" width="10.55" height="9.98" fill="#ea3b4c"/>
<rect x="558.2" y="364.69" width="10.55" height="9.98" fill="#f69ba6"/>
<rect x="568.7" y="364.69" width="10.55" height="9.98" fill="#f69ba6"/>
<rect x="579.2" y="364.69" width="10.55" height="9.98" fill="#f69ba6"/>
<rect x="589.7" y="364.69" width="10.55" height="9.98" fill="#f69ba6"/>
<rect x="600.2" y="364.69" width="10.55" height="9.98" fill="#f37c8a"/>
<rect x="610.7" y="364.69" width="10.55" height="9.98" fill="#f69ba6"/>
<rect x="621.2" y="364.69" width="10.55" height="9.98" fill="#ee5a68"/>
<rect x="631.7" y="364.69" width="10.55" height="9.98" fill="#f9b9c0"/>
<rect x="642.2" y="364.69" width="10.55" height="9.98" fill="#f37c8a"/>
<rect x="652.7" y="364.69" width="10.55" height="9.98" fill="#ee5a68"/>
<rect x="663.2" y="364.69" width="10.55" height="9.98" fill="#f37c8a"/>
<rect x="673.7" y="364.69" width="10.55" height="9.98" fill="#ee5a68"/>
<rect x="558.2" y="374.62" width="10.55" height="9.98" fill="#fcd3d7"/>
<rect x="568.7" y="374.62" width="10.55" height="9.98" fill="#f69ba6"/>
<rect x="579.2" y="374.62" width="10.55" height="9.98" fill="#f37c8a"/>
<rect x="589.7" y="374.62" width="10.55" height="9.98" fill="#f9b9c0"/>
<rect x="600.2" y="374.62" width="10.55" height="9.98" fill="#f37c8a"/>
<rect x="610.7" y="374.62" width="10.55" height="9.98" fill="#f37c8a"/>
<rect x="621.2" y="374.62" width="10.55" height="9.98" fill="#f69ba6"/>
<rect x="631.7" y="374.62" width="10.55" height="9.98" fill="#f69ba6"/>
<rect x="642.2" y="374.62" width="10.55" height="9.98" fill="#f69ba6"/>
<rect x="652.7" y="374.62" width="10.55" height="9.98" fill="#f69ba6"/>
<rect x="663.2" y="374.62" width="10.55" height="9.98" fill="#ee5a68"/>
<rect x="673.7" y="374.62" width="10.55" height="9.98" fill="#f37c8a"/>
<rect x="558.2" y="384.55" width="10.55" height="9.98" fill="#ea3b4c"/>
<rect x="568.7" y="384.55" width="10.55" height="9.98" fill="#ea3b4c"/>
<rect x="579.2" y="384.55" width="10.55" height="9.98" fill="#f37c8a"/>
<rect x="589.7" y="384.55" width="10.55" height="9.98" fill="#ee5a68"/>
<rect x="600.2" y="384.55" width="10.55" height="9.98" fill="#ea3b4c"/>
<rect x="610.7" y="384.55" width="10.55" height="9.98" fill="#ee5a68"/>
<rect x="621.2" y="384.55" width="10.55" height="9.98" fill="#ee5a68"/>
<rect x="631.7" y="384.55" width="10.55" height="9.98" fill="#ea3b4c"/>
<rect x="642.2" y="384.55" width="10.55" height="9.98" fill="#ee5a68"/>
<rect x="652.7" y="384.55" width="10.55" height="9.98" fill="#ee5a68"/>
<rect x="663.2" y="384.55" width="10.55" height="9.98" fill="#f37c8a"/>
<rect x="673.7" y="384.55" width="10.55" height="9.98" fill="#f37c8a"/>
<rect x="558.2" y="394.47" width="10.55" height="9.98" fill="#ea3b4c"/>
<rect x="568.7" y="394.47" width="10.55" height="9.98" fill="#ad1f2b"/>
<rect x="579.2" y="394.47" width="10.55" height="9.98" fill="#d31f38"/>
<rect x="589.7" y="394.47" width="10.55" height="9.98" fill="#f37c8a"/>
<rect x="600.2" y="394.47" width="10.55" height="9.98" fill="#ee5a68"/>
<rect x="610.7" y="394.47" width="10.55" height="9.98" fill="#ea3b4c"/>
<rect x="621.2" y="394.47" width="10.55" height="9.98" fill="#ee5a68"/>
<rect x="631.7" y="394.47" width="10.55" height="9.98" fill="#ee5a68"/>
<rect x="642.2" y="394.47" width="10.55" height="9.98" fill="#f37c8a"/>
<rect x="652.7" y="394.47" width="10.55" height="9.98" fill="#f37c8a"/>
<rect x="663.2" y="394.47" width="10.55" height="9.98" fill="#f37c8a"/>
<rect x="673.7" y="394.47" width="10.55" height="9.98" fill="#f69ba6"/>
<line x1="558.2" y1="116.53" x2="684.2" y2="116.53" stroke="#fff" stroke-opacity="0.75" stroke-width="0.6"/>
<line x1="558.2" y1="126.45" x2="684.2" y2="126.45" stroke="#fff" stroke-opacity="0.75" stroke-width="0.6"/>
<line x1="558.2" y1="136.38" x2="684.2" y2="136.38" stroke="#fff" stroke-opacity="0.75" stroke-width="0.6"/>
<line x1="558.2" y1="146.31" x2="684.2" y2="146.31" stroke="#fff" stroke-opacity="0.75" stroke-width="0.6"/>
<line x1="558.2" y1="156.23" x2="684.2" y2="156.23" stroke="#fff" stroke-opacity="0.75" stroke-width="0.6"/>
<line x1="558.2" y1="166.16" x2="684.2" y2="166.16" stroke="#fff" stroke-opacity="0.75" stroke-width="0.6"/>
<line x1="558.2" y1="176.09" x2="684.2" y2="176.09" stroke="#fff" stroke-opacity="0.75" stroke-width="0.6"/>
<line x1="558.2" y1="186.01" x2="684.2" y2="186.01" stroke="#fff" stroke-opacity="0.75" stroke-width="0.6"/>
<line x1="558.2" y1="195.94" x2="684.2" y2="195.94" stroke="#fff" stroke-opacity="0.75" stroke-width="0.6"/>
<line x1="558.2" y1="205.87" x2="684.2" y2="205.87" stroke="#fff" stroke-opacity="0.75" stroke-width="0.6"/>
<line x1="558.2" y1="215.79" x2="684.2" y2="215.79" stroke="#fff" stroke-opacity="0.75" stroke-width="0.6"/>
<line x1="558.2" y1="225.72" x2="684.2" y2="225.72" stroke="#fff" stroke-opacity="0.75" stroke-width="0.6"/>
<line x1="558.2" y1="235.65" x2="684.2" y2="235.65" stroke="#fff" stroke-opacity="0.75" stroke-width="0.6"/>
<line x1="558.2" y1="245.57" x2="684.2" y2="245.57" stroke="#fff" stroke-opacity="0.75" stroke-width="0.6"/>
<line x1="558.2" y1="255.5" x2="684.2" y2="255.5" stroke="#fff" stroke-opacity="0.75" stroke-width="0.6"/>
<line x1="558.2" y1="265.43" x2="684.2" y2="265.43" stroke="#fff" stroke-opacity="0.75" stroke-width="0.6"/>
<line x1="558.2" y1="275.35" x2="684.2" y2="275.35" stroke="#fff" stroke-opacity="0.75" stroke-width="0.6"/>
<line x1="558.2" y1="285.28" x2="684.2" y2="285.28" stroke="#fff" stroke-opacity="0.75" stroke-width="0.6"/>
<line x1="558.2" y1="295.21" x2="684.2" y2="295.21" stroke="#fff" stroke-opacity="0.75" stroke-width="0.6"/>
<line x1="558.2" y1="305.13" x2="684.2" y2="305.13" stroke="#fff" stroke-opacity="0.75" stroke-width="0.6"/>
<line x1="558.2" y1="315.06" x2="684.2" y2="315.06" stroke="#fff" stroke-opacity="0.75" stroke-width="0.6"/>
<line x1="558.2" y1="324.99" x2="684.2" y2="324.99" stroke="#fff" stroke-opacity="0.75" stroke-width="0.6"/>
<line x1="558.2" y1="334.91" x2="684.2" y2="334.91" stroke="#fff" stroke-opacity="0.75" stroke-width="0.6"/>
<line x1="558.2" y1="344.84" x2="684.2" y2="344.84" stroke="#fff" stroke-opacity="0.75" stroke-width="0.6"/>
<line x1="558.2" y1="354.77" x2="684.2" y2="354.77" stroke="#fff" stroke-opacity="0.75" stroke-width="0.6"/>
<line x1="558.2" y1="364.69" x2="684.2" y2="364.69" stroke="#fff" stroke-opacity="0.75" stroke-width="0.6"/>
<line x1="558.2" y1="374.62" x2="684.2" y2="374.62" stroke="#fff" stroke-opacity="0.75" stroke-width="0.6"/>
<line x1="558.2" y1="384.55" x2="684.2" y2="384.55" stroke="#fff" stroke-opacity="0.75" stroke-width="0.6"/>
<line x1="558.2" y1="394.47" x2="684.2" y2="394.47" stroke="#fff" stroke-opacity="0.75" stroke-width="0.6"/>
<line x1="568.7" y1="106.6" x2="568.7" y2="404.4" stroke="#fff" stroke-opacity="0.75" stroke-width="0.6"/>
<line x1="579.2" y1="106.6" x2="579.2" y2="404.4" stroke="#fff" stroke-opacity="0.75" stroke-width="0.6"/>
<line x1="589.7" y1="106.6" x2="589.7" y2="404.4" stroke="#fff" stroke-opacity="0.75" stroke-width="0.6"/>
<line x1="600.2" y1="106.6" x2="600.2" y2="404.4" stroke="#fff" stroke-opacity="0.75" stroke-width="0.6"/>
<line x1="610.7" y1="106.6" x2="610.7" y2="404.4" stroke="#fff" stroke-opacity="0.75" stroke-width="0.6"/>
<line x1="621.2" y1="106.6" x2="621.2" y2="404.4" stroke="#fff" stroke-opacity="0.75" stroke-width="0.6"/>
<line x1="631.7" y1="106.6" x2="631.7" y2="404.4" stroke="#fff" stroke-opacity="0.75" stroke-width="0.6"/>
<line x1="642.2" y1="106.6" x2="642.2" y2="404.4" stroke="#fff" stroke-opacity="0.75" stroke-width="0.6"/>
<line x1="652.7" y1="106.6" x2="652.7" y2="404.4" stroke="#fff" stroke-opacity="0.75" stroke-width="0.6"/>
<line x1="663.2" y1="106.6" x2="663.2" y2="404.4" stroke="#fff" stroke-opacity="0.75" stroke-width="0.6"/>
<line x1="673.7" y1="106.6" x2="673.7" y2="404.4" stroke="#fff" stroke-opacity="0.75" stroke-width="0.6"/>
<rect x="558.2" y="106.6" width="126" height="297.8" fill="none" stroke="#3a3a3a" stroke-opacity="0.62" stroke-width="0.75"/>
</g>
<rect x="49" y="274.95" width="158.8" height="9.93" fill="none" stroke="#000" stroke-width="1.3" stroke-dasharray="1.3 2.2"/>
<rect x="216.3" y="274.95" width="54.9" height="9.93" fill="none" stroke="#000" stroke-width="1.3" stroke-dasharray="1.3 2.2"/>
<rect x="280.1" y="274.95" width="64.5" height="9.93" fill="none" stroke="#000" stroke-width="1.3" stroke-dasharray="1.3 2.2"/>
<rect x="392.2" y="274.95" width="72.8" height="9.93" fill="none" stroke="#000" stroke-width="1.3" stroke-dasharray="1.3 2.2"/>
<rect x="475" y="274.95" width="73" height="9.93" fill="none" stroke="#000" stroke-width="1.3" stroke-dasharray="1.3 2.2"/>
<rect x="557.9" y="274.95" width="126.5" height="9.93" fill="none" stroke="#000" stroke-width="1.3" stroke-dasharray="1.3 2.2"/>
<rect x="49" y="334.51" width="158.8" height="9.93" fill="none" stroke="#000" stroke-width="1.3" stroke-dasharray="1.3 2.2"/>
<rect x="216.3" y="334.51" width="54.9" height="9.93" fill="none" stroke="#000" stroke-width="1.3" stroke-dasharray="1.3 2.2"/>
<rect x="280.1" y="334.51" width="64.5" height="9.93" fill="none" stroke="#000" stroke-width="1.3" stroke-dasharray="1.3 2.2"/>
<rect x="392.2" y="334.51" width="72.8" height="9.93" fill="none" stroke="#000" stroke-width="1.3" stroke-dasharray="1.3 2.2"/>
<rect x="475" y="334.51" width="73" height="9.93" fill="none" stroke="#000" stroke-width="1.3" stroke-dasharray="1.3 2.2"/>
<rect x="557.9" y="334.51" width="126.5" height="9.93" fill="none" stroke="#000" stroke-width="1.3" stroke-dasharray="1.3 2.2"/>
<line x1="347.1" y1="110.46" x2="388.9" y2="110.46" stroke="#e9e9e9" stroke-width="0.6"/>
<line x1="347.1" y1="120.39" x2="388.9" y2="120.39" stroke="#e9e9e9" stroke-width="0.6"/>
<line x1="347.1" y1="130.32" x2="388.9" y2="130.32" stroke="#e9e9e9" stroke-width="0.6"/>
<line x1="347.1" y1="140.24" x2="388.9" y2="140.24" stroke="#e9e9e9" stroke-width="0.6"/>
<line x1="347.1" y1="150.17" x2="388.9" y2="150.17" stroke="#e9e9e9" stroke-width="0.6"/>
<line x1="347.1" y1="160.1" x2="388.9" y2="160.1" stroke="#e9e9e9" stroke-width="0.6"/>
<line x1="347.1" y1="170.02" x2="388.9" y2="170.02" stroke="#e9e9e9" stroke-width="0.6"/>
<line x1="347.1" y1="179.95" x2="388.9" y2="179.95" stroke="#e9e9e9" stroke-width="0.6"/>
<line x1="347.1" y1="189.88" x2="388.9" y2="189.88" stroke="#e9e9e9" stroke-width="0.6"/>
<line x1="347.1" y1="199.8" x2="388.9" y2="199.8" stroke="#e9e9e9" stroke-width="0.6"/>
<line x1="347.1" y1="209.73" x2="388.9" y2="209.73" stroke="#e9e9e9" stroke-width="0.6"/>
<line x1="347.1" y1="219.66" x2="388.9" y2="219.66" stroke="#e9e9e9" stroke-width="0.6"/>
<line x1="347.1" y1="229.58" x2="388.9" y2="229.58" stroke="#e9e9e9" stroke-width="0.6"/>
<line x1="347.1" y1="239.51" x2="388.9" y2="239.51" stroke="#e9e9e9" stroke-width="0.6"/>
<line x1="347.1" y1="249.44" x2="388.9" y2="249.44" stroke="#e9e9e9" stroke-width="0.6"/>
<line x1="347.1" y1="259.36" x2="388.9" y2="259.36" stroke="#e9e9e9" stroke-width="0.6"/>
<line x1="347.1" y1="269.29" x2="388.9" y2="269.29" stroke="#e9e9e9" stroke-width="0.6"/>
<line x1="347.1" y1="279.22" x2="388.9" y2="279.22" stroke="#4a4a4a" stroke-width="1.1"/>
<line x1="347.1" y1="289.14" x2="388.9" y2="289.14" stroke="#e9e9e9" stroke-width="0.6"/>
<line x1="347.1" y1="299.07" x2="388.9" y2="299.07" stroke="#e9e9e9" stroke-width="0.6"/>
<line x1="347.1" y1="309" x2="388.9" y2="309" stroke="#e9e9e9" stroke-width="0.6"/>
<line x1="347.1" y1="318.92" x2="388.9" y2="318.92" stroke="#e9e9e9" stroke-width="0.6"/>
<line x1="347.1" y1="328.85" x2="388.9" y2="328.85" stroke="#e9e9e9" stroke-width="0.6"/>
<line x1="347.1" y1="338.78" x2="388.9" y2="338.78" stroke="#4a4a4a" stroke-width="1.1"/>
<line x1="347.1" y1="348.7" x2="388.9" y2="348.7" stroke="#e9e9e9" stroke-width="0.6"/>
<line x1="347.1" y1="358.63" x2="388.9" y2="358.63" stroke="#e9e9e9" stroke-width="0.6"/>
<line x1="347.1" y1="368.56" x2="388.9" y2="368.56" stroke="#e9e9e9" stroke-width="0.6"/>
<line x1="347.1" y1="378.48" x2="388.9" y2="378.48" stroke="#e9e9e9" stroke-width="0.6"/>
<line x1="347.1" y1="388.41" x2="388.9" y2="388.41" stroke="#e9e9e9" stroke-width="0.6"/>
<line x1="347.1" y1="398.34" x2="388.9" y2="398.34" stroke="#e9e9e9" stroke-width="0.6"/>
<text x="47.5" y="115.06" font-size="9.9" fill="#111" stroke="#111" stroke-width="0.25" text-anchor="end">3</text>
<text x="47.5" y="124.99" font-size="9.9" fill="#111" stroke="#111" stroke-width="0.25" text-anchor="end">17</text>
<text x="47.5" y="134.92" font-size="9.9" fill="#111" stroke="#111" stroke-width="0.25" text-anchor="end">4</text>
<text x="47.5" y="144.84" font-size="9.9" fill="#111" stroke="#111" stroke-width="0.25" text-anchor="end">12</text>
<text x="47.5" y="154.77" font-size="9.9" fill="#111" stroke="#111" stroke-width="0.25" text-anchor="end">27</text>
<text x="47.5" y="164.7" font-size="9.9" fill="#111" stroke="#111" stroke-width="0.25" text-anchor="end">25</text>
<text x="47.5" y="174.62" font-size="9.9" fill="#111" stroke="#111" stroke-width="0.25" text-anchor="end">10</text>
<text x="47.5" y="184.55" font-size="9.9" fill="#111" stroke="#111" stroke-width="0.25" text-anchor="end">29</text>
<text x="47.5" y="194.48" font-size="9.9" fill="#111" stroke="#111" stroke-width="0.25" text-anchor="end">21</text>
<text x="47.5" y="204.4" font-size="9.9" fill="#111" stroke="#111" stroke-width="0.25" text-anchor="end">19</text>
<text x="47.5" y="214.33" font-size="9.9" fill="#111" stroke="#111" stroke-width="0.25" text-anchor="end">6</text>
<text x="47.5" y="224.26" font-size="9.9" fill="#111" stroke="#111" stroke-width="0.25" text-anchor="end">18</text>
<text x="47.5" y="234.18" font-size="9.9" fill="#111" stroke="#111" stroke-width="0.25" text-anchor="end">11</text>
<text x="47.5" y="244.11" font-size="9.9" fill="#111" stroke="#111" stroke-width="0.25" text-anchor="end">2</text>
<text x="47.5" y="254.04" font-size="9.9" fill="#111" stroke="#111" stroke-width="0.25" text-anchor="end">22</text>
<text x="47.5" y="263.96" font-size="9.9" fill="#111" stroke="#111" stroke-width="0.25" text-anchor="end">20</text>
<text x="47.5" y="273.89" font-size="9.9" fill="#111" stroke="#111" stroke-width="0.25" text-anchor="end">14</text>
<text x="47.5" y="283.82" font-size="9.9" fill="#2a7fd0" stroke="#2a7fd0" stroke-width="0.25" text-anchor="end">26</text>
<text x="47.5" y="293.74" font-size="9.9" fill="#111" stroke="#111" stroke-width="0.25" text-anchor="end">8</text>
<text x="47.5" y="303.67" font-size="9.9" fill="#111" stroke="#111" stroke-width="0.25" text-anchor="end">13</text>
<text x="47.5" y="313.6" font-size="9.9" fill="#111" stroke="#111" stroke-width="0.25" text-anchor="end">16</text>
<text x="47.5" y="323.52" font-size="9.9" fill="#111" stroke="#111" stroke-width="0.25" text-anchor="end">7</text>
<text x="47.5" y="333.45" font-size="9.9" fill="#111" stroke="#111" stroke-width="0.25" text-anchor="end">1</text>
<text x="47.5" y="343.38" font-size="9.9" fill="#2a7fd0" stroke="#2a7fd0" stroke-width="0.25" text-anchor="end">23</text>
<text x="47.5" y="353.3" font-size="9.9" fill="#111" stroke="#111" stroke-width="0.25" text-anchor="end">15</text>
<text x="47.5" y="363.23" font-size="9.9" fill="#111" stroke="#111" stroke-width="0.25" text-anchor="end">5</text>
<text x="47.5" y="373.16" font-size="9.9" fill="#111" stroke="#111" stroke-width="0.25" text-anchor="end">9</text>
<text x="47.5" y="383.08" font-size="9.9" fill="#111" stroke="#111" stroke-width="0.25" text-anchor="end">30</text>
<text x="47.5" y="393.01" font-size="9.9" fill="#111" stroke="#111" stroke-width="0.25" text-anchor="end">28</text>
<text x="47.5" y="402.94" font-size="9.9" fill="#111" stroke="#111" stroke-width="0.25" text-anchor="end">24</text>
<path d="M34.7 111.56L27.7 111.56M27.7 111.56L27.7 121.49M27.7 121.49L34.7 121.49M34.7 141.34L31.4 141.34M31.4 141.34L31.4 151.27M31.4 151.27L34.7 151.27M34.7 131.42L28.6 131.42M28.6 131.42L28.6 146.31M28.6 146.31L31.4 146.31M34.7 161.2L27.4 161.2M27.4 161.2L27.4 171.12M27.4 171.12L34.7 171.12M28.6 138.86L24.3 138.86M24.3 138.86L24.3 166.16M24.3 166.16L27.4 166.16M27.7 116.53L14.6 116.53M14.6 116.53L14.6 152.51M14.6 152.51L24.3 152.51M34.7 181.05L29.2 181.05M29.2 181.05L29.2 190.98M29.2 190.98L34.7 190.98M34.7 200.9L21.4 200.9M21.4 200.9L21.4 210.83M21.4 210.83L34.7 210.83M29.2 186.01L18.8 186.01M18.8 186.01L18.8 205.87M18.8 205.87L21.4 205.87M14.6 134.52L5.5 134.52M5.5 134.52L5.5 195.94M5.5 195.94L18.8 195.94M34.7 220.76L28.3 220.76M28.3 220.76L28.3 230.68M28.3 230.68L34.7 230.68M34.7 240.61L25.5 240.61M25.5 240.61L25.5 250.54M25.5 250.54L34.7 250.54M28.3 225.72L22.8 225.72M22.8 225.72L22.8 245.57M22.8 245.57L25.5 245.57M22.8 235.65L19.7 235.65M19.7 235.65L19.7 260.46M19.7 260.46L34.7 260.46M34.7 270.39L29.2 270.39M29.2 270.39L29.2 280.32M29.2 280.32L34.7 280.32M34.7 290.24L27.4 290.24M27.4 290.24L27.4 300.17M27.4 300.17L34.7 300.17M29.2 275.35L24.6 275.35M24.6 275.35L24.6 295.21M24.6 295.21L27.4 295.21M24.6 285.28L21.5 285.28M21.5 285.28L21.5 310.1M21.5 310.1L34.7 310.1M21.5 297.69L18.2 297.69M18.2 297.69L18.2 320.02M18.2 320.02L34.7 320.02M19.7 248.05L15.1 248.05M15.1 248.05L15.1 308.86M15.1 308.86L18.2 308.86M34.7 329.95L31.4 329.95M31.4 329.95L31.4 339.88M31.4 339.88L34.7 339.88M31.4 334.91L26.5 334.91M26.5 334.91L26.5 349.8M26.5 349.8L34.7 349.8M15.1 278.46L11.5 278.46M11.5 278.46L11.5 342.36M11.5 342.36L26.5 342.36M34.7 359.73L17.3 359.73M17.3 359.73L17.3 369.66M17.3 369.66L34.7 369.66M34.7 389.51L21.9 389.51M21.9 389.51L21.9 399.44M21.9 399.44L34.7 399.44M34.7 379.58L18.2 379.58M18.2 379.58L18.2 394.47M18.2 394.47L21.9 394.47M17.3 364.69L8.2 364.69M8.2 364.69L8.2 387.03M8.2 387.03L18.2 387.03M11.5 310.41L3.6 310.41M3.6 310.41L3.6 375.86M3.6 375.86L8.2 375.86M5.5 165.23L0.7 165.23M0.7 165.23L0.7 343.13M0.7 343.13L3.6 343.13" fill="none" stroke="#2e2e2e" stroke-width="0.72" stroke-linecap="square"/>
<text x="22" y="8.6" font-size="11.35" font-weight="bold" fill="#111" stroke="#111" stroke-width="0.15" text-anchor="start">Computational Analysis</text>
<text x="681.4" y="8.6" font-size="11.4" font-weight="bold" fill="#111" stroke="#111" stroke-width="0.15" text-anchor="end">Clinical and Laboratory Analysis</text>
<line x1="20.5" y1="12.7" x2="345.7" y2="12.7" stroke="#5c5c5c" stroke-width="1.25"/>
<circle cx="20.6" cy="12.8" r="1.2" fill="#111"/>
<line x1="390.1" y1="12.7" x2="683" y2="12.7" stroke="#5c5c5c" stroke-width="1.25"/>
<circle cx="683" cy="12.8" r="1.2" fill="#111"/>
<text x="21.8" y="27.4" font-size="10.8" font-weight="bold" fill="#000" stroke="#000" stroke-width="0.15" text-anchor="start">a</text>
<text x="210.6" y="27.4" font-size="10.8" font-weight="bold" fill="#000" stroke="#000" stroke-width="0.15" text-anchor="start">b</text>
<text x="273.4" y="27.4" font-size="10.8" font-weight="bold" fill="#000" stroke="#000" stroke-width="0.15" text-anchor="start">c</text>
<text x="392.6" y="27.4" font-size="10.8" font-weight="bold" fill="#000" stroke="#000" stroke-width="0.15" text-anchor="start">d</text>
<text x="468.2" y="27.4" font-size="10.8" font-weight="bold" fill="#000" stroke="#000" stroke-width="0.15" text-anchor="start">e</text>
<text x="549.6" y="27.4" font-size="10.8" font-weight="bold" fill="#000" stroke="#000" stroke-width="0.15" text-anchor="start">f</text>
<text x="138.6" y="58.3" font-size="9.6" font-weight="bold" fill="#1a1a1a" stroke="#1a1a1a" stroke-width="0.15" text-anchor="middle">CoGAPS</text>
<text x="239.9" y="58" font-size="9.6" font-weight="bold" fill="#1a1a1a" stroke="#1a1a1a" stroke-width="0.15" text-anchor="middle">AUROC</text>
<text x="310" y="58.2" font-size="9.6" font-weight="bold" fill="#1a1a1a" stroke="#1a1a1a" stroke-width="0.15" text-anchor="middle">CIBERSORT</text>
<text x="432" y="58.2" font-size="9.6" font-weight="bold" fill="#1a1a1a" stroke="#1a1a1a" stroke-width="0.15" text-anchor="middle">Hematology</text>
<text x="510.2" y="58.1" font-size="9.6" font-weight="bold" fill="#1a1a1a" stroke="#1a1a1a" stroke-width="0.15" text-anchor="middle" letter-spacing="0.1">Chem/Vitals</text>
<text x="619.4" y="58.1" font-size="9.6" font-weight="bold" fill="#1a1a1a" stroke="#1a1a1a" stroke-width="0.15" text-anchor="middle">Proteins</text>
<text x="106.3" y="75.6" font-size="9.3" font-weight="bold" fill="#c4b28c" stroke="#c4b28c" stroke-width="0.15" text-anchor="middle">Survived</text>
<text x="180.6" y="75.6" font-size="9.3" font-weight="bold" fill="#e8212b" stroke="#e8212b" stroke-width="0.15" text-anchor="middle">Died</text>
<text x="14.2" y="90.7" font-size="9.6" font-weight="bold" fill="#111" stroke="#111" stroke-width="0.15" text-anchor="start">Pattern</text>
<path d="M44.7 92.8v9.6M42.2 99.5l2.5 3.2 2.5-3.2" fill="none" stroke="#111" stroke-width="1.15"/>
<text x="55.2" y="102" font-size="10.4" fill="#111" stroke="#111" stroke-width="0.25" text-anchor="middle">H</text>
<text x="64" y="88" font-size="9.8" fill="#111" stroke="#111" stroke-width="0.25" text-anchor="start">hours</text>
<line x1="65" y1="91" x2="115" y2="91" stroke="#9b9b9b" stroke-width="1.3"/>
<text x="72.41" y="103.3" font-size="10.1" fill="#111" stroke="#111" stroke-width="0.25" text-anchor="start" transform="rotate(-90 72.41 103.3)">0</text>
<text x="83.24" y="103.3" font-size="10.1" fill="#111" stroke="#111" stroke-width="0.25" text-anchor="start" transform="rotate(-90 83.24 103.3)">6</text>
<text x="94.06" y="103.3" font-size="10.1" fill="#111" stroke="#111" stroke-width="0.25" text-anchor="start" transform="rotate(-90 94.06 103.3)">24</text>
<text x="104.89" y="103.3" font-size="10.1" fill="#111" stroke="#111" stroke-width="0.25" text-anchor="start" transform="rotate(-90 104.89 103.3)">48</text>
<text x="115.71" y="103.3" font-size="10.1" fill="#111" stroke="#111" stroke-width="0.25" text-anchor="start" transform="rotate(-90 115.71 103.3)">72</text>
<text x="125.94" y="102.3" font-size="10.1" fill="#111" stroke="#111" stroke-width="0.25" text-anchor="start" transform="rotate(-90 125.94 102.3)">28d</text>
<text x="136.76" y="102.3" font-size="10.1" fill="#111" stroke="#111" stroke-width="0.25" text-anchor="start" transform="rotate(-90 136.76 102.3)">6m</text>
<text x="147.59" y="102.3" font-size="10.1" fill="#111" stroke="#111" stroke-width="0.25" text-anchor="start" transform="rotate(-90 147.59 102.3)">12m</text>
<text x="155.2" y="88" font-size="9.8" fill="#111" stroke="#111" stroke-width="0.25" text-anchor="start">hours</text>
<line x1="154.4" y1="91" x2="205.2" y2="91" stroke="#9b9b9b" stroke-width="1.3"/>
<text x="162.49" y="103.3" font-size="10.1" fill="#111" stroke="#111" stroke-width="0.25" text-anchor="start" transform="rotate(-90 162.49 103.3)">0</text>
<text x="173.27" y="103.3" font-size="10.1" fill="#111" stroke="#111" stroke-width="0.25" text-anchor="start" transform="rotate(-90 173.27 103.3)">6</text>
<text x="184.05" y="103.3" font-size="10.1" fill="#111" stroke="#111" stroke-width="0.25" text-anchor="start" transform="rotate(-90 184.05 103.3)">24</text>
<text x="194.83" y="103.3" font-size="10.1" fill="#111" stroke="#111" stroke-width="0.25" text-anchor="start" transform="rotate(-90 194.83 103.3)">48</text>
<text x="205.61" y="103.3" font-size="10.1" fill="#111" stroke="#111" stroke-width="0.25" text-anchor="start" transform="rotate(-90 205.61 103.3)">72</text>
<text x="216.1" y="88" font-size="9.8" fill="#111" stroke="#111" stroke-width="0.25" text-anchor="start">hours</text>
<line x1="217.3" y1="91" x2="267.3" y2="91" stroke="#9b9b9b" stroke-width="1.3"/>
<text x="225.63" y="103.3" font-size="10.1" fill="#111" stroke="#111" stroke-width="0.25" text-anchor="start" transform="rotate(-90 225.63 103.3)">0</text>
<text x="236.49" y="103.3" font-size="10.1" fill="#111" stroke="#111" stroke-width="0.25" text-anchor="start" transform="rotate(-90 236.49 103.3)">6</text>
<text x="247.35" y="103.3" font-size="10.1" fill="#111" stroke="#111" stroke-width="0.25" text-anchor="start" transform="rotate(-90 247.35 103.3)">24</text>
<text x="258.21" y="103.3" font-size="10.1" fill="#111" stroke="#111" stroke-width="0.25" text-anchor="start" transform="rotate(-90 258.21 103.3)">48</text>
<text x="269.07" y="103.3" font-size="10.1" fill="#111" stroke="#111" stroke-width="0.25" text-anchor="start" transform="rotate(-90 269.07 103.3)">72</text>
<text x="289.12" y="101.6" font-size="9.4" fill="#111" stroke="#111" stroke-width="0.38" text-anchor="start" transform="rotate(-90 289.12 101.6)">Neu.</text>
<text x="299.77" y="101.6" font-size="9.4" fill="#111" stroke="#111" stroke-width="0.38" text-anchor="start" transform="rotate(-90 299.77 101.6)">T<tspan font-size="5.3" stroke-width="0.15" dy="-2.4">CD4+</tspan></text>
<text x="310.42" y="101.6" font-size="9.4" fill="#111" stroke="#111" stroke-width="0.38" text-anchor="start" transform="rotate(-90 310.42 101.6)">T<tspan font-size="5.3" stroke-width="0.15" dy="-2.4">CD8+</tspan></text>
<text x="321.07" y="101.6" font-size="9.4" fill="#111" stroke="#111" stroke-width="0.38" text-anchor="start" transform="rotate(-90 321.07 101.6)">NK<tspan font-size="5.3" stroke-width="0.15" dy="-2.4">CD56+</tspan></text>
<text x="331.72" y="101.6" font-size="9.4" fill="#111" stroke="#111" stroke-width="0.38" text-anchor="start" transform="rotate(-90 331.72 101.6)">M<tspan font-size="5.3" stroke-width="0.15" dy="-2.4">CD14+</tspan></text>
<text x="342.38" y="101.6" font-size="9.4" fill="#111" stroke="#111" stroke-width="0.38" text-anchor="start" transform="rotate(-90 342.38 101.6)">M<tspan font-size="5.3" stroke-width="0.15" dy="-2.4">CD16+</tspan></text>
<text x="401.16" y="101.6" font-size="9.7" fill="#111" stroke="#111" stroke-width="0.25" text-anchor="start" transform="rotate(-90 401.16 101.6)">Neu.</text>
<text x="411.47" y="101.6" font-size="9.7" fill="#111" stroke="#111" stroke-width="0.25" text-anchor="start" transform="rotate(-90 411.47 101.6)">WBC</text>
<text x="421.79" y="101.6" font-size="9.7" fill="#111" stroke="#111" stroke-width="0.25" text-anchor="start" transform="rotate(-90 421.79 101.6)">Lympho.</text>
<text x="432.1" y="101.6" font-size="9.7" fill="#111" stroke="#111" stroke-width="0.25" text-anchor="start" transform="rotate(-90 432.1 101.6)">Baso.</text>
<text x="442.41" y="101.6" font-size="9.7" fill="#111" stroke="#111" stroke-width="0.25" text-anchor="start" transform="rotate(-90 442.41 101.6)">Eosino.</text>
<text x="452.73" y="101.6" font-size="9.7" fill="#111" stroke="#111" stroke-width="0.25" text-anchor="start" transform="rotate(-90 452.73 101.6)">Mono.</text>
<text x="463.04" y="101.6" font-size="9.7" fill="#111" stroke="#111" stroke-width="0.25" text-anchor="start" transform="rotate(-90 463.04 101.6)">Platelet</text>
<text x="483.97" y="101.6" font-size="9.7" fill="#111" stroke="#111" stroke-width="0.25" text-anchor="start" transform="rotate(-90 483.97 101.6)">Albumin</text>
<text x="494.31" y="101.6" font-size="9.7" fill="#111" stroke="#111" stroke-width="0.25" text-anchor="start" transform="rotate(-90 494.31 101.6)">Glucose</text>
<text x="504.66" y="101.6" font-size="9.7" fill="#111" stroke="#111" stroke-width="0.25" text-anchor="start" transform="rotate(-90 504.66 101.6)">Sodium</text>
<text x="515" y="101.6" font-size="9.7" fill="#111" stroke="#111" stroke-width="0.25" text-anchor="start" transform="rotate(-90 515 101.6)">BUN</text>
<text x="525.34" y="101.6" font-size="9.7" fill="#111" stroke="#111" stroke-width="0.25" text-anchor="start" transform="rotate(-90 525.34 101.6)">Temp.</text>
<text x="535.69" y="101.6" font-size="9.7" fill="#111" stroke="#111" stroke-width="0.25" text-anchor="start" transform="rotate(-90 535.69 101.6)">HR</text>
<text x="546.03" y="101.6" font-size="9.7" fill="#111" stroke="#111" stroke-width="0.25" text-anchor="start" transform="rotate(-90 546.03 101.6)">GCS</text>
<text x="566.95" y="101.6" font-size="9.7" fill="#111" stroke="#111" stroke-width="0.25" text-anchor="start" transform="rotate(-90 566.95 101.6)">IL17a</text>
<text x="577.45" y="101.6" font-size="9.7" fill="#111" stroke="#111" stroke-width="0.25" text-anchor="start" transform="rotate(-90 577.45 101.6)">ANG2</text>
<text x="587.95" y="101.6" font-size="9.7" fill="#111" stroke="#111" stroke-width="0.25" text-anchor="start" transform="rotate(-90 587.95 101.6)">sTREM1</text>
<text x="598.45" y="101.6" font-size="9.7" fill="#111" stroke="#111" stroke-width="0.25" text-anchor="start" transform="rotate(-90 598.45 101.6)">Pentraxin</text>
<text x="608.95" y="101.6" font-size="9.7" fill="#111" stroke="#111" stroke-width="0.25" text-anchor="start" transform="rotate(-90 608.95 101.6)">TNFa</text>
<text x="619.45" y="101.6" font-size="9.7" fill="#111" stroke="#111" stroke-width="0.25" text-anchor="start" transform="rotate(-90 619.45 101.6)">IL7</text>
<text x="629.95" y="101.6" font-size="9.7" fill="#111" stroke="#111" stroke-width="0.25" text-anchor="start" transform="rotate(-90 629.95 101.6)">IL10</text>
<text x="640.45" y="101.6" font-size="9.7" fill="#111" stroke="#111" stroke-width="0.25" text-anchor="start" transform="rotate(-90 640.45 101.6)">IL16</text>
<text x="650.95" y="101.6" font-size="9.7" fill="#111" stroke="#111" stroke-width="0.25" text-anchor="start" transform="rotate(-90 650.95 101.6)">IP10</text>
<text x="661.45" y="101.6" font-size="9.7" fill="#111" stroke="#111" stroke-width="0.25" text-anchor="start" transform="rotate(-90 661.45 101.6)">PDL1</text>
<text x="671.95" y="101.6" font-size="9.7" fill="#111" stroke="#111" stroke-width="0.25" text-anchor="start" transform="rotate(-90 671.95 101.6)">IL27</text>
<text x="682.45" y="101.6" font-size="9.7" fill="#111" stroke="#111" stroke-width="0.25" text-anchor="start" transform="rotate(-90 682.45 101.6)">TRAIL</text>
<defs>
<linearGradient id="metal" gradientUnits="userSpaceOnUse" x1="352" y1="0" x2="387" y2="0">
<stop offset="0" stop-color="#4d4d4d"/><stop offset="0.12" stop-color="#6e6e6e"/><stop offset="0.25" stop-color="#9a9a9a"/>
<stop offset="0.4" stop-color="#d0d0d0"/><stop offset="0.5" stop-color="#fdfdfd"/><stop offset="0.6" stop-color="#e6e6e6"/>
<stop offset="0.75" stop-color="#c2c2c2"/><stop offset="0.87" stop-color="#9a9a9a"/><stop offset="1" stop-color="#5a5a5a"/>
</linearGradient>
<linearGradient id="slide" x1="0" y1="0" x2="1" y2="0">
<stop offset="0" stop-color="#e6e6e6"/><stop offset="1" stop-color="#cfcfcf"/>
</linearGradient>
</defs>
<!-- human figure -->
<path d="M369.5 5.2C372.8 5.2 375 7.6 375 10.6C375 13.4 373.8 15.6 372.6 17.4L372.6 20.3C374 22 378.5 23.4 381.6 24.6C382.8 25.2 383.2 26.4 383.3 27.8L384.6 44L386.9 64.3L385.4 63.6L382 50L378.8 38.4L378.7 50L379.7 58L379.9 70L378.2 86L375.1 113.8L371.1 113.8L370.3 90L369.9 60L369.4 90L369.7 113.8L365.1 113.8L361.8 86L359.9 70L359.5 58L360.7 50L360.9 40.1L357.6 52L354.6 65.6L352.6 67L352.4 64L354.6 44L356.2 27.8C356.3 26.4 356.7 25.2 357.9 24.6C361 23.4 365.6 22 367.1 20.3L367.1 17.4C365.6 15.6 364.2 13.4 364.2 10.6C364.2 7.6 366.3 5.2 369.5 5.2Z" fill="url(#metal)" stroke="#8a8a8a" stroke-width="0.45"/>
<!-- CoGAPS table icon -->
<g>
<rect x="130.1" y="37.8" width="6.7" height="9" fill="#7b7f86"/>
<rect x="136.8" y="35.2" width="13.1" height="2.6" fill="#c2a878"/>
<rect x="136.8" y="37.8" width="13.1" height="9" fill="#fafafa"/>
<path d="M130.1 39.6H149.9M130.1 41.4H149.9M130.1 43.2H149.9M130.1 45H149.9" stroke="#a9a9a9" stroke-width="0.45" fill="none"/>
<path d="M136.8 35.2V46.8M143.4 35.2V46.8M149.9 35.2V46.8M136.8 46.8H149.9M136.8 37.8H149.9" stroke="#8f8f8f" stroke-width="0.5" fill="none"/>
</g>
<!-- AUROC icon -->
<g>
<rect x="233.1" y="28.3" width="17.4" height="17.4" fill="#eef0ef"/>
<path d="M232.3 28.4V45.8M234 47H249.8" stroke="#777" stroke-width="0.7" fill="none"/>
<path d="M233.4 45.4L250.2 28.8" stroke="#c4c4c4" stroke-width="0.5" fill="none"/>
<path d="M233.3 45.3C234.4 37.5 237 33.5 241.5 31.4C244.6 30.2 247.8 30 250.3 28.9" stroke="#3f7fb8" stroke-width="0.75" fill="none"/>
</g>
<!-- CIBERSORT icon -->
<g>
<text x="287.6" y="34.7" font-family="'Liberation Serif',serif" font-size="4" font-weight="bold" fill="#333" textLength="10.8" lengthAdjust="spacingAndGlyphs">CTGT</text>
<text x="287.6" y="39.4" font-family="'Liberation Serif',serif" font-size="4" font-weight="bold" fill="#333" textLength="10.8" lengthAdjust="spacingAndGlyphs">TAGG</text>
<text x="287.6" y="44.1" font-family="'Liberation Serif',serif" font-size="4" font-weight="bold" fill="#333" textLength="10.8" lengthAdjust="spacingAndGlyphs">TTAA</text>
<path d="M299.8 38H303.6M302.2 36.7L303.8 38L302.2 39.3" stroke="#111" stroke-width="0.75" fill="none"/>
<rect x="305.2" y="32.4" width="14.3" height="9.4" rx="0.8" fill="#f3f3f3" stroke="#666" stroke-width="0.55"/>
<rect x="306.4" y="33.5" width="11.9" height="7.2" fill="#fff" stroke="#bbb" stroke-width="0.3"/>
<text x="312.35" y="36.9" font-size="3.7" font-weight="bold" fill="#111" stroke="#111" stroke-width="0.15" text-anchor="middle" font-family="'Liberation Mono',monospace">1011</text>
<text x="312.35" y="40.1" font-size="3.7" font-weight="bold" fill="#111" stroke="#111" stroke-width="0.15" text-anchor="middle" font-family="'Liberation Mono',monospace">0100</text>
<path d="M312.3 41.9V44M308.6 44.3H316" stroke="#333" stroke-width="0.9" fill="none"/>
<path d="M321.2 36.4H325.6M324.6 35.6L325.7 36.4L324.6 37.2" stroke="#c9966a" stroke-width="0.5" fill="none"/>
<path d="M321.2 39.6H325.6M324.6 38.8L325.7 39.6L324.6 40.4" stroke="#c9c9c9" stroke-width="0.5" fill="none"/>
<path d="M321.2 42.8H325.6M324.6 42L325.7 42.8L324.6 43.6" stroke="#c9c9c9" stroke-width="0.5" fill="none"/>
<path d="M332.3 31.9C333.6 35.5 336.8 39.2 336.8 42.4C336.8 45 334.8 46.9 332.3 46.9C329.8 46.9 327.9 45 327.9 42.4C327.9 39.2 331 35.5 332.3 31.9Z" fill="#f08c72"/>
<ellipse cx="335.3" cy="42.6" rx="0.7" ry="1.3" fill="#fde6df"/>
</g>
<!-- Hematology icon -->
<g>
<path d="M418.4 47.2L426.6 41.2H449.2L441 47.2Z" fill="url(#slide)" stroke="#b5b5b5" stroke-width="0.3"/>
<path d="M425.5 35.8H438.5" stroke="#f0d7c4" stroke-width="0.4"/>
<path d="M432.4 32.2C433.4 35.2 435.9 38.2 435.9 40.9C435.9 43 434.3 44.6 432.4 44.6C430.5 44.6 428.9 43 428.9 40.9C428.9 38.2 431.4 35.2 432.4 32.2Z" fill="#e3141e"/>
<ellipse cx="434.6" cy="41.4" rx="0.5" ry="1" fill="#f9b0b0"/>
</g>
<!-- Chem/Vitals icon -->
<g>
<path d="M500 40.6H503.2L504.4 38.2L505.3 46.2L506.4 35.8L507.6 42.6L508.3 40.6H510.2" stroke="#9a9a9a" stroke-width="0.6" fill="none" stroke-linejoin="round"/>
<path d="M514.4 35.4V44" stroke="#8a8a8a" stroke-width="1.2" stroke-linecap="round"/>
<path d="M514.4 38.2V44" stroke="#e3141e" stroke-width="0.9"/>
<circle cx="514.4" cy="45" r="1.85" fill="#e3141e"/>
<path d="M521 35.9V45.5C521 47.4 523.9 47.4 523.9 45.5V35.9" fill="#f4f4f4" stroke="#a8a8a8" stroke-width="0.5"/>
<path d="M521.35 39V45.4C521.35 46.9 523.55 46.9 523.55 45.4V39Z" fill="#7a2a90"/>
<path d="M520.5 35.9H524.4" stroke="#a8a8a8" stroke-width="0.5"/>
</g>
<!-- Proteins icon -->
<g>
<path d="M606.9 46.9H616.5M611.6 46.9V42.3M611.6 42.3L609.3 39.4M611.6 42.3L613.9 39.4" stroke="#444" stroke-width="0.95" fill="none"/>
<ellipse cx="611.4" cy="38.8" rx="1.25" ry="2.3" fill="#b3151f"/>
<path d="M611.9 36.4L614.4 33.9M614.4 33.9L616.7 31.2M614.4 33.9L615.6 36.4" stroke="#a8703e" stroke-width="1.1" fill="none"/>
<text x="617.7" y="43.1" font-size="5.5" fill="#222">MSD</text>
</g>

<rect x="95.2" y="417" width="4.3" height="4.5" fill="#7d1230"/>
<rect x="99.4" y="417" width="4.3" height="4.5" fill="#a51e22"/>
<rect x="103.6" y="417" width="4.3" height="4.5" fill="#c42727"/>
<rect x="107.8" y="417" width="4.3" height="4.5" fill="#e2432a"/>
<rect x="112" y="417" width="4.3" height="4.5" fill="#ec6927"/>
<rect x="116.2" y="417" width="4.3" height="4.5" fill="#f18825"/>
<rect x="120.4" y="417" width="4.3" height="4.5" fill="#f6a424"/>
<rect x="124.6" y="417" width="4.3" height="4.5" fill="#f8b93b"/>
<rect x="128.8" y="417" width="4.3" height="4.5" fill="#fad172"/>
<rect x="133" y="417" width="4.3" height="4.5" fill="#fbe59b"/>
<rect x="137.2" y="417" width="4.3" height="4.5" fill="#fff6c2"/>
<text x="94" y="421.5" font-size="7.1" fill="#111" stroke="#111" stroke-width="0.25" text-anchor="end">3.08</text>
<text x="143.2" y="421.5" font-size="7.1" fill="#111" stroke="#111" stroke-width="0.25" text-anchor="start">−2.65</text>
<text x="116.8" y="414.8" font-size="8.0" fill="#111" stroke="#111" stroke-width="0.25" text-anchor="middle">Z-score</text>
<rect x="211" y="417" width="4.2" height="4.5" fill="#1d3768"/>
<rect x="215.1" y="417" width="4.2" height="4.5" fill="#0e4a8a"/>
<rect x="219.2" y="417" width="4.2" height="4.5" fill="#1375bc"/>
<rect x="223.3" y="417" width="4.2" height="4.5" fill="#4189c9"/>
<rect x="227.4" y="417" width="4.2" height="4.5" fill="#6a9fd6"/>
<rect x="231.5" y="417" width="4.2" height="4.5" fill="#8ab2df"/>
<rect x="235.6" y="417" width="4.2" height="4.5" fill="#a6c6e8"/>
<rect x="239.7" y="417" width="4.2" height="4.5" fill="#c0d6ee"/>
<rect x="243.8" y="417" width="4.2" height="4.5" fill="#d5e4f4"/>
<rect x="247.9" y="417" width="4.2" height="4.5" fill="#e9f1fa"/>
<rect x="252" y="417" width="4.2" height="4.5" fill="#fbfdfe"/>
<text x="209.8" y="421.5" font-size="7.1" fill="#111" stroke="#111" stroke-width="0.25" text-anchor="end">0.86</text>
<text x="257.9" y="421.5" font-size="7.1" fill="#111" stroke="#111" stroke-width="0.25" text-anchor="start">0.52</text>
<text x="232.6" y="414.8" font-size="8.0" fill="#111" stroke="#111" stroke-width="0.25" text-anchor="middle">AUROC</text>
<rect x="291.6" y="417" width="3.8" height="4.5" fill="#15451f"/>
<rect x="295.3" y="417" width="3.8" height="4.5" fill="#075c2d"/>
<rect x="299" y="417" width="3.8" height="4.5" fill="#137839"/>
<rect x="302.7" y="417" width="3.8" height="4.5" fill="#1b9046"/>
<rect x="306.4" y="417" width="3.8" height="4.5" fill="#36a35c"/>
<rect x="310.1" y="417" width="3.8" height="4.5" fill="#64b577"/>
<rect x="313.8" y="417" width="3.8" height="4.5" fill="#85c68c"/>
<rect x="317.5" y="417" width="3.8" height="4.5" fill="#a5d5a6"/>
<rect x="321.2" y="417" width="3.8" height="4.5" fill="#bce0bb"/>
<rect x="324.9" y="417" width="3.8" height="4.5" fill="#d3ead2"/>
<rect x="328.6" y="417" width="3.8" height="4.5" fill="#eaf5e9"/>
<rect x="332.3" y="417" width="3.8" height="4.5" fill="#fbfdfb"/>
<text x="290.4" y="421.5" font-size="7.1" fill="#111" stroke="#111" stroke-width="0.25" text-anchor="end">0.8</text>
<text x="337.8" y="421.5" font-size="7.1" fill="#111" stroke="#111" stroke-width="0.25" text-anchor="start">−0.75</text>
<text x="313.8" y="414.8" font-size="8.0" fill="#111" stroke="#111" stroke-width="0.25" text-anchor="middle">r</text>
<rect x="397.2" y="417" width="3.89" height="4.5" fill="#15451f"/>
<rect x="400.99" y="417" width="3.89" height="4.5" fill="#075c2d"/>
<rect x="404.78" y="417" width="3.89" height="4.5" fill="#137839"/>
<rect x="408.57" y="417" width="3.89" height="4.5" fill="#1b9046"/>
<rect x="412.37" y="417" width="3.89" height="4.5" fill="#36a35c"/>
<rect x="416.16" y="417" width="3.89" height="4.5" fill="#64b577"/>
<rect x="419.95" y="417" width="3.89" height="4.5" fill="#85c68c"/>
<rect x="423.74" y="417" width="3.89" height="4.5" fill="#a5d5a6"/>
<rect x="427.53" y="417" width="3.89" height="4.5" fill="#bce0bb"/>
<rect x="431.32" y="417" width="3.89" height="4.5" fill="#d3ead2"/>
<rect x="435.12" y="417" width="3.89" height="4.5" fill="#eaf5e9"/>
<rect x="438.91" y="417" width="3.89" height="4.5" fill="#fbfdfb"/>
<text x="396" y="421.5" font-size="7.1" fill="#111" stroke="#111" stroke-width="0.25" text-anchor="end">0.68</text>
<text x="444.5" y="421.5" font-size="7.1" fill="#111" stroke="#111" stroke-width="0.25" text-anchor="start">−0.61</text>
<text x="424.8" y="414.8" font-size="8.0" fill="#111" stroke="#111" stroke-width="0.25" text-anchor="middle">r</text>
<rect x="490.6" y="417" width="4.19" height="4.5" fill="#7c2a18"/>
<rect x="494.69" y="417" width="4.19" height="4.5" fill="#b8421f"/>
<rect x="498.78" y="417" width="4.19" height="4.5" fill="#d65329"/>
<rect x="502.87" y="417" width="4.19" height="4.5" fill="#e86825"/>
<rect x="506.96" y="417" width="4.19" height="4.5" fill="#f48420"/>
<rect x="511.05" y="417" width="4.19" height="4.5" fill="#fb9a45"/>
<rect x="515.15" y="417" width="4.19" height="4.5" fill="#fdb06e"/>
<rect x="519.24" y="417" width="4.19" height="4.5" fill="#fdc590"/>
<rect x="523.33" y="417" width="4.19" height="4.5" fill="#fdd9b5"/>
<rect x="527.42" y="417" width="4.19" height="4.5" fill="#fee6ce"/>
<rect x="531.51" y="417" width="4.19" height="4.5" fill="#fff5eb"/>
<text x="489.4" y="421.5" font-size="7.1" fill="#111" stroke="#111" stroke-width="0.25" text-anchor="end">0.57</text>
<text x="537.4" y="421.5" font-size="7.1" fill="#111" stroke="#111" stroke-width="0.25" text-anchor="start">−0.5</text>
<text x="515.2" y="414.8" font-size="8.0" fill="#111" stroke="#111" stroke-width="0.25" text-anchor="middle">r</text>
<rect x="599" y="417" width="3.92" height="4.5" fill="#650d17"/>
<rect x="602.82" y="417" width="3.92" height="4.5" fill="#8a1a20"/>
<rect x="606.63" y="417" width="3.92" height="4.5" fill="#ad1f2b"/>
<rect x="610.45" y="417" width="3.92" height="4.5" fill="#d31f38"/>
<rect x="614.27" y="417" width="3.92" height="4.5" fill="#ea3b4c"/>
<rect x="618.08" y="417" width="3.92" height="4.5" fill="#ee5a68"/>
<rect x="621.9" y="417" width="3.92" height="4.5" fill="#f37c8a"/>
<rect x="625.72" y="417" width="3.92" height="4.5" fill="#f69ba6"/>
<rect x="629.53" y="417" width="3.92" height="4.5" fill="#f9b9c0"/>
<rect x="633.35" y="417" width="3.92" height="4.5" fill="#fcd3d7"/>
<rect x="637.17" y="417" width="3.92" height="4.5" fill="#fde6e8"/>
<rect x="640.98" y="417" width="3.92" height="4.5" fill="#f8f8f8"/>
<text x="597.8" y="421.5" font-size="7.1" fill="#111" stroke="#111" stroke-width="0.25" text-anchor="end">0.74</text>
<text x="646.6" y="421.5" font-size="7.1" fill="#111" stroke="#111" stroke-width="0.25" text-anchor="start">−0.76</text>
<text x="621.2" y="414.8" font-size="8.0" fill="#111" stroke="#111" stroke-width="0.25" text-anchor="middle">r</text>
<text x="37.2" y="450.1" font-size="11.2" font-weight="bold" fill="#000" stroke="#000" stroke-width="0.15" text-anchor="start">g</text>
<text x="128.2" y="454.8" font-size="9.7" font-weight="bold" fill="#111" stroke="#111" stroke-width="0.15" text-anchor="middle">Pattern 23</text>
<line x1="66.4" y1="464.2" x2="66.4" y2="568.8" stroke="#333" stroke-width="0.7"/>
<line x1="62.8" y1="464.2" x2="66.4" y2="464.2" stroke="#333" stroke-width="0.7"/>
<line x1="62.8" y1="485.12" x2="66.4" y2="485.12" stroke="#333" stroke-width="0.7"/>
<line x1="62.8" y1="506.04" x2="66.4" y2="506.04" stroke="#333" stroke-width="0.7"/>
<line x1="62.8" y1="526.96" x2="66.4" y2="526.96" stroke="#333" stroke-width="0.7"/>
<line x1="62.8" y1="547.88" x2="66.4" y2="547.88" stroke="#333" stroke-width="0.7"/>
<line x1="62.8" y1="568.8" x2="66.4" y2="568.8" stroke="#333" stroke-width="0.7"/>
<text x="61.6" y="467.7" font-size="10" fill="#111" stroke="#111" stroke-width="0.25" text-anchor="end">1</text>
<text x="61.6" y="572.6" font-size="10" fill="#111" stroke="#111" stroke-width="0.25" text-anchor="end">0</text>
<text x="51.8" y="513.4" font-size="9.4" fill="#111" stroke="#111" stroke-width="0.25" text-anchor="middle" transform="rotate(-90 51.8 513.4)">pattern value</text>
<line x1="73.25" y1="557.4" x2="73.25" y2="569.1" stroke="#484848" stroke-width="0.8"/>
<rect x="70.2" y="564" width="6.1" height="5.1" fill="#f1c81c" stroke="#a88a10" stroke-width="0.7" rx="0.35"/>
<line x1="70.2" y1="566.7" x2="76.3" y2="566.7" stroke="#3a1a10" stroke-width="0.8"/>
<line x1="84.75" y1="533" x2="84.75" y2="569.1" stroke="#484848" stroke-width="0.8"/>
<rect x="81.7" y="550.9" width="6.1" height="17.8" fill="#c89e69" stroke="#6b4f2a" stroke-width="0.7" rx="0.35"/>
<line x1="81.7" y1="561.8" x2="87.8" y2="561.8" stroke="#3a1a10" stroke-width="0.8"/>
<line x1="91.55" y1="464.3" x2="91.55" y2="569.1" stroke="#484848" stroke-width="0.8"/>
<rect x="88.5" y="514" width="6.1" height="47.1" fill="#e8202a" stroke="#8f1018" stroke-width="0.7" rx="0.35"/>
<line x1="88.5" y1="543.3" x2="94.6" y2="543.3" stroke="#3a1a10" stroke-width="0.8"/>
<path d="M83.9 575V577.4H93.4V575" fill="none" stroke="#333" stroke-width="0.7"/>
<line x1="104.25" y1="535" x2="104.25" y2="569.1" stroke="#484848" stroke-width="0.8"/>
<rect x="101.2" y="553.3" width="6.1" height="15.4" fill="#c89e69" stroke="#6b4f2a" stroke-width="0.7" rx="0.35"/>
<line x1="101.2" y1="561.8" x2="107.3" y2="561.8" stroke="#3a1a10" stroke-width="0.8"/>
<line x1="111.05" y1="477.4" x2="111.05" y2="569.1" stroke="#484848" stroke-width="0.8"/>
<rect x="108" y="519.9" width="6.1" height="38.8" fill="#e8202a" stroke="#8f1018" stroke-width="0.7" rx="0.35"/>
<line x1="108" y1="539.1" x2="114.1" y2="539.1" stroke="#3a1a10" stroke-width="0.8"/>
<path d="M103.4 575V577.4H112.9V575" fill="none" stroke="#333" stroke-width="0.7"/>
<line x1="124.3" y1="536.7" x2="124.3" y2="569.1" stroke="#484848" stroke-width="0.8"/>
<rect x="121.5" y="555" width="5.6" height="13.9" fill="#c89e69" stroke="#6b4f2a" stroke-width="0.7" rx="0.35"/>
<line x1="121.5" y1="566" x2="127.1" y2="566" stroke="#3a1a10" stroke-width="0.8"/>
<line x1="131.1" y1="485.5" x2="131.1" y2="569.1" stroke="#484848" stroke-width="0.8"/>
<rect x="128.3" y="523.8" width="5.6" height="31.7" fill="#e8202a" stroke="#8f1018" stroke-width="0.7" rx="0.35"/>
<line x1="128.3" y1="544.8" x2="133.9" y2="544.8" stroke="#3a1a10" stroke-width="0.8"/>
<path d="M123.7 575V577.4H132.7V575" fill="none" stroke="#333" stroke-width="0.7"/>
<line x1="144" y1="549.6" x2="144" y2="569.1" stroke="#484848" stroke-width="0.8"/>
<rect x="141.2" y="557.4" width="5.6" height="11.5" fill="#c89e69" stroke="#6b4f2a" stroke-width="0.7" rx="0.35"/>
<line x1="141.2" y1="564.3" x2="146.8" y2="564.3" stroke="#3a1a10" stroke-width="0.8"/>
<line x1="151.1" y1="478.9" x2="151.1" y2="569.1" stroke="#484848" stroke-width="0.8"/>
<rect x="148.3" y="511.1" width="5.6" height="43.9" fill="#e8202a" stroke="#8f1018" stroke-width="0.7" rx="0.35"/>
<line x1="148.3" y1="541.3" x2="153.9" y2="541.3" stroke="#3a1a10" stroke-width="0.8"/>
<path d="M143.4 575V577.4H152.7V575" fill="none" stroke="#333" stroke-width="0.7"/>
<line x1="163.65" y1="554.5" x2="163.65" y2="569.1" stroke="#484848" stroke-width="0.8"/>
<rect x="160.7" y="561.1" width="5.9" height="7.8" fill="#c89e69" stroke="#6b4f2a" stroke-width="0.7" rx="0.35"/>
<line x1="160.7" y1="567.2" x2="166.6" y2="567.2" stroke="#3a1a10" stroke-width="0.8"/>
<line x1="170.6" y1="476.2" x2="170.6" y2="569.1" stroke="#484848" stroke-width="0.8"/>
<rect x="167.8" y="517" width="5.6" height="34.8" fill="#e8202a" stroke="#8f1018" stroke-width="0.7" rx="0.35"/>
<line x1="167.8" y1="533.3" x2="173.4" y2="533.3" stroke="#3a1a10" stroke-width="0.8"/>
<path d="M162.9 575V577.4H172.2V575" fill="none" stroke="#333" stroke-width="0.7"/>
<line x1="181.95" y1="558.2" x2="181.95" y2="569.1" stroke="#484848" stroke-width="0.8"/>
<rect x="179" y="563" width="5.9" height="5.9" fill="#c89e69" stroke="#6b4f2a" stroke-width="0.7" rx="0.35"/>
<line x1="179" y1="567.9" x2="184.9" y2="567.9" stroke="#3a1a10" stroke-width="0.8"/>
<line x1="181.95" y1="575" x2="181.95" y2="577.4" stroke="#333" stroke-width="0.7"/>
<line x1="191.8" y1="560.4" x2="191.8" y2="569.1" stroke="#484848" stroke-width="0.8"/>
<rect x="189" y="563.5" width="5.6" height="5.4" fill="#c89e69" stroke="#6b4f2a" stroke-width="0.7" rx="0.35"/>
<line x1="189" y1="565.5" x2="194.6" y2="565.5" stroke="#3a1a10" stroke-width="0.8"/>
<line x1="191.8" y1="575" x2="191.8" y2="577.4" stroke="#333" stroke-width="0.7"/>
<line x1="201.55" y1="554.3" x2="201.55" y2="569.1" stroke="#484848" stroke-width="0.8"/>
<rect x="198.5" y="562.6" width="6.1" height="6.3" fill="#c89e69" stroke="#6b4f2a" stroke-width="0.7" rx="0.35"/>
<line x1="198.5" y1="568.4" x2="204.6" y2="568.4" stroke="#3a1a10" stroke-width="0.8"/>
<line x1="201.55" y1="575" x2="201.55" y2="577.4" stroke="#333" stroke-width="0.7"/>
<line x1="73.3" y1="575" x2="73.3" y2="577.4" stroke="#333" stroke-width="0.7"/>
<text x="73.2" y="589" font-size="10.2" fill="#111" stroke="#111" stroke-width="0.25" text-anchor="middle">H</text>
<text x="88.9" y="589" font-size="10.2" fill="#111" stroke="#111" stroke-width="0.25" text-anchor="middle">0</text>
<text x="108.2" y="589" font-size="10.2" fill="#111" stroke="#111" stroke-width="0.25" text-anchor="middle">6</text>
<text x="127.7" y="589" font-size="10.2" fill="#111" stroke="#111" stroke-width="0.25" text-anchor="middle">24</text>
<text x="147.4" y="589" font-size="10.2" fill="#111" stroke="#111" stroke-width="0.25" text-anchor="middle">48</text>
<text x="166.9" y="589" font-size="10.2" fill="#111" stroke="#111" stroke-width="0.25" text-anchor="middle">72</text>
<line x1="86" y1="591.9" x2="171.2" y2="591.9" stroke="#8f8f8f" stroke-width="1.4"/>
<text x="55.3" y="600.2" font-size="10.0" font-weight="bold" fill="#111" stroke="#111" stroke-width="0.15" text-anchor="start">Time</text>
<text x="86" y="600.2" font-size="9.9" fill="#111" stroke="#111" stroke-width="0.25" text-anchor="start">hours</text>
<text x="185.4" y="579.4" font-size="9.6" fill="#111" stroke="#111" stroke-width="0.25" text-anchor="end" transform="rotate(-90 185.4 579.4)">28d</text>
<text x="195.2" y="579.4" font-size="9.6" fill="#111" stroke="#111" stroke-width="0.25" text-anchor="end" transform="rotate(-90 195.2 579.4)">6m</text>
<text x="205" y="579.4" font-size="9.6" fill="#111" stroke="#111" stroke-width="0.25" text-anchor="end" transform="rotate(-90 205 579.4)">12m</text>
<text x="298.7" y="454.7" font-size="9.7" font-weight="bold" fill="#111" stroke="#111" stroke-width="0.15" text-anchor="middle">Pattern 26</text>
<line x1="243.7" y1="464.2" x2="243.7" y2="566.9" stroke="#333" stroke-width="0.7"/>
<line x1="240.1" y1="464.2" x2="243.7" y2="464.2" stroke="#333" stroke-width="0.7"/>
<line x1="240.1" y1="484.74" x2="243.7" y2="484.74" stroke="#333" stroke-width="0.7"/>
<line x1="240.1" y1="505.28" x2="243.7" y2="505.28" stroke="#333" stroke-width="0.7"/>
<line x1="240.1" y1="525.82" x2="243.7" y2="525.82" stroke="#333" stroke-width="0.7"/>
<line x1="240.1" y1="546.36" x2="243.7" y2="546.36" stroke="#333" stroke-width="0.7"/>
<line x1="240.1" y1="566.9" x2="243.7" y2="566.9" stroke="#333" stroke-width="0.7"/>
<text x="238.2" y="469" font-size="10" fill="#111" stroke="#111" stroke-width="0.25" text-anchor="end">1</text>
<text x="238.2" y="571.4" font-size="10" fill="#111" stroke="#111" stroke-width="0.25" text-anchor="end">0.5</text>
<text x="229" y="512.8" font-size="9.4" fill="#111" stroke="#111" stroke-width="0.25" text-anchor="middle" transform="rotate(-90 229 512.8)">pattern value</text>
<line x1="250.3" y1="519.3" x2="250.3" y2="540.9" stroke="#484848" stroke-width="0.8"/>
<rect x="247.3" y="529" width="6" height="7.8" fill="#f1c81c" stroke="#a88a10" stroke-width="0.7" rx="0.35"/>
<line x1="247.3" y1="532.9" x2="253.3" y2="532.9" stroke="#3a1a10" stroke-width="0.8"/>
<line x1="261.65" y1="460.6" x2="261.65" y2="536.8" stroke="#484848" stroke-width="0.8"/>
<rect x="258.5" y="487.2" width="6.3" height="29.5" fill="#c89e69" stroke="#6b4f2a" stroke-width="0.7" rx="0.35"/>
<line x1="258.5" y1="505.2" x2="264.8" y2="505.2" stroke="#3a1a10" stroke-width="0.8"/>
<line x1="268.7" y1="471.1" x2="268.7" y2="538.1" stroke="#484848" stroke-width="0.8"/>
<rect x="265.6" y="494" width="6.2" height="23.5" fill="#e8202a" stroke="#8f1018" stroke-width="0.7" rx="0.35"/>
<line x1="265.6" y1="506.5" x2="271.8" y2="506.5" stroke="#3a1a10" stroke-width="0.8"/>
<path d="M260.7 575V577.4H270.6V575" fill="none" stroke="#333" stroke-width="0.7"/>
<line x1="281.6" y1="468.5" x2="281.6" y2="538.8" stroke="#484848" stroke-width="0.8"/>
<rect x="278.6" y="487.5" width="6" height="31.8" fill="#c89e69" stroke="#6b4f2a" stroke-width="0.7" rx="0.35"/>
<line x1="278.6" y1="510.7" x2="284.6" y2="510.7" stroke="#3a1a10" stroke-width="0.8"/>
<line x1="288.4" y1="465.9" x2="288.4" y2="542.8" stroke="#484848" stroke-width="0.8"/>
<rect x="285.4" y="496.6" width="6" height="22.7" fill="#e8202a" stroke="#8f1018" stroke-width="0.7" rx="0.35"/>
<line x1="285.4" y1="506.5" x2="291.4" y2="506.5" stroke="#3a1a10" stroke-width="0.8"/>
<path d="M280.8 575V577.4H290.2V575" fill="none" stroke="#333" stroke-width="0.7"/>
<line x1="301.3" y1="467.2" x2="301.3" y2="545.9" stroke="#484848" stroke-width="0.8"/>
<rect x="298.4" y="498.2" width="5.8" height="26.3" fill="#c89e69" stroke="#6b4f2a" stroke-width="0.7" rx="0.35"/>
<line x1="298.4" y1="515.1" x2="304.2" y2="515.1" stroke="#3a1a10" stroke-width="0.8"/>
<line x1="308.2" y1="459.3" x2="308.2" y2="542.8" stroke="#484848" stroke-width="0.8"/>
<rect x="305.2" y="486.2" width="6" height="30" fill="#e8202a" stroke="#8f1018" stroke-width="0.7" rx="0.35"/>
<line x1="305.2" y1="507.3" x2="311.2" y2="507.3" stroke="#3a1a10" stroke-width="0.8"/>
<path d="M300.6 575V577.4H310V575" fill="none" stroke="#333" stroke-width="0.7"/>
<line x1="321" y1="483.3" x2="321" y2="546.7" stroke="#484848" stroke-width="0.8"/>
<rect x="318.1" y="502.9" width="5.8" height="19.8" fill="#c89e69" stroke="#6b4f2a" stroke-width="0.7" rx="0.35"/>
<line x1="318.1" y1="515.7" x2="323.9" y2="515.7" stroke="#3a1a10" stroke-width="0.8"/>
<line x1="327.9" y1="456.2" x2="327.9" y2="540.9" stroke="#484848" stroke-width="0.8"/>
<rect x="324.9" y="491.9" width="6" height="26.1" fill="#e8202a" stroke="#8f1018" stroke-width="0.7" rx="0.35"/>
<line x1="324.9" y1="505.2" x2="330.9" y2="505.2" stroke="#3a1a10" stroke-width="0.8"/>
<path d="M320.3 575V577.4H329.7V575" fill="none" stroke="#333" stroke-width="0.7"/>
<line x1="340.9" y1="495.8" x2="340.9" y2="550.6" stroke="#484848" stroke-width="0.8"/>
<rect x="337.9" y="515.4" width="6" height="18.2" fill="#c89e69" stroke="#6b4f2a" stroke-width="0.7" rx="0.35"/>
<line x1="337.9" y1="521.4" x2="343.9" y2="521.4" stroke="#3a1a10" stroke-width="0.8"/>
<line x1="347.9" y1="467.7" x2="347.9" y2="530.5" stroke="#484848" stroke-width="0.8"/>
<rect x="344.9" y="496.4" width="6" height="22.4" fill="#e8202a" stroke="#8f1018" stroke-width="0.7" rx="0.35"/>
<line x1="344.9" y1="505.2" x2="350.9" y2="505.2" stroke="#3a1a10" stroke-width="0.8"/>
<path d="M340.1 575V577.4H349.7V575" fill="none" stroke="#333" stroke-width="0.7"/>
<line x1="359" y1="514.6" x2="359" y2="548.8" stroke="#484848" stroke-width="0.8"/>
<rect x="355.9" y="527.1" width="6.2" height="9.9" fill="#c89e69" stroke="#6b4f2a" stroke-width="0.7" rx="0.35"/>
<line x1="355.9" y1="534.2" x2="362.1" y2="534.2" stroke="#3a1a10" stroke-width="0.8"/>
<line x1="359" y1="575" x2="359" y2="577.4" stroke="#333" stroke-width="0.7"/>
<line x1="369" y1="516.2" x2="369" y2="550.6" stroke="#484848" stroke-width="0.8"/>
<rect x="366" y="528.2" width="6" height="9.9" fill="#c89e69" stroke="#6b4f2a" stroke-width="0.7" rx="0.35"/>
<line x1="366" y1="534.2" x2="372" y2="534.2" stroke="#3a1a10" stroke-width="0.8"/>
<line x1="369" y1="575" x2="369" y2="577.4" stroke="#333" stroke-width="0.7"/>
<line x1="378.85" y1="527.1" x2="378.85" y2="543.3" stroke="#484848" stroke-width="0.8"/>
<rect x="375.7" y="531" width="6.3" height="5.8" fill="#c89e69" stroke="#6b4f2a" stroke-width="0.7" rx="0.35"/>
<line x1="375.7" y1="535.2" x2="382" y2="535.2" stroke="#3a1a10" stroke-width="0.8"/>
<line x1="378.85" y1="575" x2="378.85" y2="577.4" stroke="#333" stroke-width="0.7"/>
<line x1="250.3" y1="575" x2="250.3" y2="577.4" stroke="#333" stroke-width="0.7"/>
<text x="250" y="588.9" font-size="10.2" fill="#111" stroke="#111" stroke-width="0.25" text-anchor="middle">H</text>
<text x="265.3" y="588.9" font-size="10.2" fill="#111" stroke="#111" stroke-width="0.25" text-anchor="middle">0</text>
<text x="285.2" y="588.9" font-size="10.2" fill="#111" stroke="#111" stroke-width="0.25" text-anchor="middle">6</text>
<text x="305.8" y="588.9" font-size="10.2" fill="#111" stroke="#111" stroke-width="0.25" text-anchor="middle">24</text>
<text x="325.2" y="588.9" font-size="10.2" fill="#111" stroke="#111" stroke-width="0.25" text-anchor="middle">48</text>
<text x="344.6" y="588.9" font-size="10.2" fill="#111" stroke="#111" stroke-width="0.25" text-anchor="middle">72</text>
<line x1="262.4" y1="591.9" x2="349.3" y2="591.9" stroke="#8f8f8f" stroke-width="1.4"/>
<text x="233" y="600" font-size="10.0" font-weight="bold" fill="#111" stroke="#111" stroke-width="0.15" text-anchor="start">Time</text>
<text x="262.4" y="600" font-size="9.9" fill="#111" stroke="#111" stroke-width="0.25" text-anchor="start">hours</text>
<text x="362.3" y="579.6" font-size="9.6" fill="#111" stroke="#111" stroke-width="0.25" text-anchor="end" transform="rotate(-90 362.3 579.6)">28d</text>
<text x="372.4" y="579.6" font-size="9.6" fill="#111" stroke="#111" stroke-width="0.25" text-anchor="end" transform="rotate(-90 372.4 579.6)">6m</text>
<text x="382" y="579.6" font-size="9.6" fill="#111" stroke="#111" stroke-width="0.25" text-anchor="end" transform="rotate(-90 382 579.6)">12m</text>
<text x="386.9" y="458.7" font-size="8.1" font-weight="bold" fill="#000" stroke="#000" stroke-width="0.15" text-anchor="start">28-day</text>
<text x="386.9" y="465.4" font-size="8.1" font-weight="bold" fill="#000" stroke="#000" stroke-width="0.15" text-anchor="start">survival</text>
<rect x="385" y="467.2" width="34.2" height="16.6" rx="1.5" fill="#ececec"/>
<text x="386.2" y="473.8" font-size="8.1" fill="#c4b28c" stroke="#c4b28c" stroke-width="0.25" text-anchor="start">survived</text>
<text x="386.2" y="481.5" font-size="8.1" fill="#e8212b" stroke="#e8212b" stroke-width="0.25" text-anchor="start">died</text>
<text x="386.2" y="493.8" font-size="8.1" fill="#f0c419" stroke="#f0c419" stroke-width="0.25" text-anchor="start">healthy</text>
<text x="386.2" y="501.1" font-size="8.1" fill="#f0c419" stroke="#f0c419" stroke-width="0.25" text-anchor="start">(H)</text>
<text x="434.6" y="449.9" font-size="10.4" font-weight="bold" fill="#000" stroke="#000" stroke-width="0.12" text-anchor="start">h</text>
<path d="M455.2 507.4V453.5" fill="none" stroke="#1c1c1c" stroke-width="1.6"/>
<path d="M455.2 450.8L458.4 455.1L455.2 453.9L452 455.1Z" fill="#222"/>
<path d="M465.1 513.6H520.5" fill="none" stroke="#1c1c1c" stroke-width="1.6"/>
<path d="M523.2 513.6L518.7 510.4L519.9 513.6L518.7 516.8Z" fill="#222"/>
<text x="451.6" y="481.2" font-size="7.6" font-weight="bold" fill="#111" stroke="#111" stroke-width="0.12" text-anchor="middle" transform="rotate(-90 451.6 481.2)">pattern value</text>
<text x="490.65" y="521.3" font-size="7.5" font-weight="bold" fill="#111" stroke="#111" stroke-width="0.12" text-anchor="middle">time</text>
<text x="460.4" y="487.4" font-size="8.8" fill="#222" stroke="#222" stroke-width="0.2" text-anchor="start">P15</text>
<text x="460.4" y="496.6" font-size="8.8" fill="#222" stroke="#222" stroke-width="0.2" text-anchor="start">P23</text>
<line x1="468.9" y1="505.1" x2="515" y2="505.1" stroke="#c49a62" stroke-width="1.75"/>
<line x1="468.9" y1="474" x2="515" y2="474" stroke="#e8202a" stroke-width="1.75"/>
<path d="M535 507.4V453.5" fill="none" stroke="#1c1c1c" stroke-width="1.6"/>
<path d="M535 450.8L538.2 455.1L535 453.9L531.8 455.1Z" fill="#222"/>
<path d="M544.6 513.6H599.9" fill="none" stroke="#1c1c1c" stroke-width="1.6"/>
<path d="M602.6 513.6L598.1 510.4L599.3 513.6L598.1 516.8Z" fill="#222"/>
<text x="531.4" y="481.2" font-size="7.6" font-weight="bold" fill="#111" stroke="#111" stroke-width="0.12" text-anchor="middle" transform="rotate(-90 531.4 481.2)">pattern value</text>
<text x="570.1" y="521.3" font-size="7.5" font-weight="bold" fill="#111" stroke="#111" stroke-width="0.12" text-anchor="middle">time</text>
<text x="540.6" y="462.8" font-size="8.8" fill="#222" stroke="#222" stroke-width="0.2" text-anchor="start">P12</text>
<text x="540.6" y="472" font-size="8.8" fill="#222" stroke="#222" stroke-width="0.2" text-anchor="start">P27</text>
<line x1="549" y1="501" x2="594.6" y2="473.4" stroke="#c49a62" stroke-width="1.75"/>
<line x1="549" y1="500.9" x2="594.6" y2="500.9" stroke="#e8202a" stroke-width="1.75"/>
<path d="M455.2 587.4V533.7" fill="none" stroke="#1c1c1c" stroke-width="1.6"/>
<path d="M455.2 531L458.4 535.3L455.2 534.1L452 535.3Z" fill="#222"/>
<path d="M465.1 593.7H520.5" fill="none" stroke="#1c1c1c" stroke-width="1.6"/>
<path d="M523.2 593.7L518.7 590.5L519.9 593.7L518.7 596.9Z" fill="#222"/>
<text x="451.6" y="561.3" font-size="7.6" font-weight="bold" fill="#111" stroke="#111" stroke-width="0.12" text-anchor="middle" transform="rotate(-90 451.6 561.3)">pattern value</text>
<text x="490.65" y="601.4" font-size="7.5" font-weight="bold" fill="#111" stroke="#111" stroke-width="0.12" text-anchor="middle">time</text>
<text x="460.4" y="571.2" font-size="8.8" fill="#222" stroke="#222" stroke-width="0.2" text-anchor="start">P11</text>
<text x="460.4" y="580.4" font-size="8.8" fill="#222" stroke="#222" stroke-width="0.2" text-anchor="start">P14</text>
<text x="460.4" y="589.6" font-size="8.8" fill="#222" stroke="#222" stroke-width="0.2" text-anchor="start">P26</text>
<line x1="468.9" y1="548.5" x2="515" y2="587.2" stroke="#c49a62" stroke-width="1.75"/>
<line x1="468.9" y1="548.5" x2="515" y2="548.5" stroke="#e8202a" stroke-width="1.75"/>
<path d="M535 587.4V533.7" fill="none" stroke="#1c1c1c" stroke-width="1.6"/>
<path d="M535 531L538.2 535.3L535 534.1L531.8 535.3Z" fill="#222"/>
<path d="M544.6 593.7H599.9" fill="none" stroke="#1c1c1c" stroke-width="1.6"/>
<path d="M602.6 593.7L598.1 590.5L599.3 593.7L598.1 596.9Z" fill="#222"/>
<text x="531.4" y="561.3" font-size="7.6" font-weight="bold" fill="#111" stroke="#111" stroke-width="0.12" text-anchor="middle" transform="rotate(-90 531.4 561.3)">pattern value</text>
<text x="570.1" y="601.4" font-size="7.5" font-weight="bold" fill="#111" stroke="#111" stroke-width="0.12" text-anchor="middle">time</text>
<text x="540.6" y="543.2" font-size="8.8" fill="#222" stroke="#222" stroke-width="0.2" text-anchor="start">P4</text>
<line x1="549" y1="569.8" x2="594.6" y2="546.3" stroke="#c49a62" stroke-width="1.75"/>
<line x1="549" y1="585" x2="594.6" y2="585" stroke="#e8202a" stroke-width="1.75"/>
<text x="607.2" y="458.8" font-size="8.1" font-weight="bold" fill="#000" stroke="#000" stroke-width="0.12" text-anchor="start">28-day</text>
<text x="607.2" y="465.1" font-size="8.1" font-weight="bold" fill="#000" stroke="#000" stroke-width="0.12" text-anchor="start">survival</text>
<rect x="605.6" y="466.9" width="34.4" height="16.8" rx="2" fill="#eeeeee"/>
<text x="606.8" y="474" font-size="7.9" fill="#c9b896" stroke="#c9b896" stroke-width="0.2" text-anchor="start">survived</text>
<text x="606.8" y="481.3" font-size="7.9" fill="#e8212b" stroke="#e8212b" stroke-width="0.2" text-anchor="start">died</text>
</svg>
</body></html>
